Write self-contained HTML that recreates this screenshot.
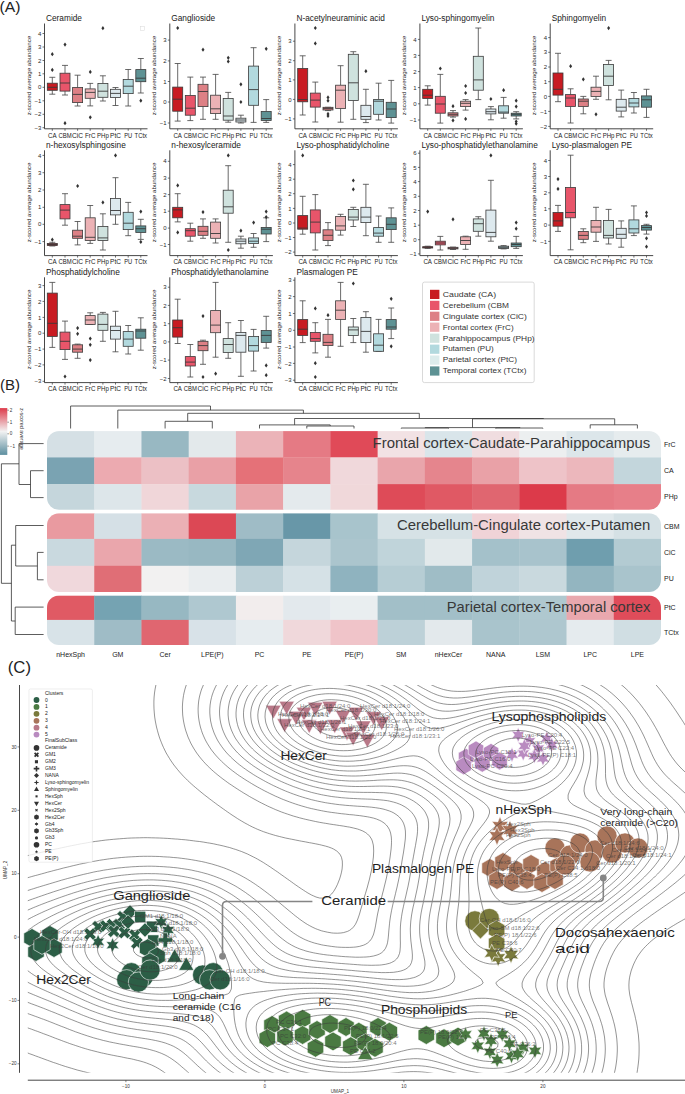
<!DOCTYPE html><html><head><meta charset="utf-8"><style>html,body{margin:0;padding:0;background:#fff;overflow:hidden}svg{display:block}</style></head><body><svg width="685" height="1094" viewBox="0 0 685 1094" font-family='"Liberation Sans", sans-serif'>
<rect width="685" height="1094" fill="#fff"/>
<text x="46.0" y="20.9" font-size="8.3" fill="#1a1a1a">Ceramide</text>
<text transform="translate(30.5,75.6) rotate(-90)" text-anchor="middle" font-size="6.2" fill="#2a2a2a" textLength="79.5" lengthAdjust="spacingAndGlyphs">z-scored average abundance</text>
<path d="M44.5,23.5V128.8H147.5" fill="none" stroke="#333" stroke-width="0.9"/>
<path d="M42.5,33.5H44.5" stroke="#333" stroke-width="0.7"/>
<text x="41.3" y="35.6" text-anchor="end" font-size="6" fill="#2a2a2a">4</text>
<path d="M42.5,47.0H44.5" stroke="#333" stroke-width="0.7"/>
<text x="41.3" y="49.1" text-anchor="end" font-size="6" fill="#2a2a2a">3</text>
<path d="M42.5,60.5H44.5" stroke="#333" stroke-width="0.7"/>
<text x="41.3" y="62.6" text-anchor="end" font-size="6" fill="#2a2a2a">2</text>
<path d="M42.5,73.8H44.5" stroke="#333" stroke-width="0.7"/>
<text x="41.3" y="75.9" text-anchor="end" font-size="6" fill="#2a2a2a">1</text>
<path d="M42.5,87.3H44.5" stroke="#333" stroke-width="0.7"/>
<text x="41.3" y="89.4" text-anchor="end" font-size="6" fill="#2a2a2a">0</text>
<path d="M42.5,100.8H44.5" stroke="#333" stroke-width="0.7"/>
<text x="41.3" y="102.9" text-anchor="end" font-size="6" fill="#2a2a2a">−1</text>
<path d="M42.5,114.3H44.5" stroke="#333" stroke-width="0.7"/>
<text x="41.3" y="116.4" text-anchor="end" font-size="6" fill="#2a2a2a">−2</text>
<path d="M42.5,127.7H44.5" stroke="#333" stroke-width="0.7"/>
<text x="41.3" y="129.8" text-anchor="end" font-size="6" fill="#2a2a2a">−3</text>
<path d="M52.3,77.3V83.2M52.3,90.3V94.2M49.3,77.3H55.3M49.3,94.2H55.3" stroke="#444" stroke-width="0.8" fill="none"/>
<rect x="47.3" y="83.2" width="10.0" height="7.1" fill="#c81b22" stroke="#3a3a3a" stroke-width="0.8"/>
<path d="M47.3,87.3H57.3" stroke="#3a3a3a" stroke-width="0.9"/>
<path d="M52.3,52.1L53.8,54.2L52.3,56.3L50.8,54.2Z" fill="#333"/>
<path d="M52.3,67.8L53.8,69.9L52.3,72.0L50.8,69.9Z" fill="#333"/>
<path d="M52.3,128.8V130.8" stroke="#333" stroke-width="0.7"/>
<path d="M65.0,65.4V73.2M65.0,91.1V95.0M62.0,65.4H68.0M62.0,95.0H68.0" stroke="#444" stroke-width="0.8" fill="none"/>
<rect x="60.0" y="73.2" width="10.0" height="17.9" fill="#e8556a" stroke="#3a3a3a" stroke-width="0.8"/>
<path d="M60.0,83.0H70.0" stroke="#3a3a3a" stroke-width="0.9"/>
<path d="M65.0,42.5L66.5,44.6L65.0,46.7L63.5,44.6Z" fill="#333"/>
<path d="M65.0,121.1L66.5,123.2L65.0,125.3L63.5,123.2Z" fill="#333"/>
<path d="M65.0,128.8V130.8" stroke="#333" stroke-width="0.7"/>
<path d="M77.6,75.2V87.5M77.6,102.6V106.0M74.6,75.2H80.6M74.6,106.0H80.6" stroke="#444" stroke-width="0.8" fill="none"/>
<rect x="72.6" y="87.5" width="10.0" height="15.1" fill="#dd8085" stroke="#3a3a3a" stroke-width="0.8"/>
<path d="M72.6,94.4H82.6" stroke="#3a3a3a" stroke-width="0.9"/>
<path d="M77.6,128.8V130.8" stroke="#333" stroke-width="0.7"/>
<path d="M90.2,83.4V88.9M90.2,98.3V105.9M87.2,83.4H93.2M87.2,105.9H93.2" stroke="#444" stroke-width="0.8" fill="none"/>
<rect x="85.2" y="88.9" width="10.0" height="9.4" fill="#ecb2b5" stroke="#3a3a3a" stroke-width="0.8"/>
<path d="M85.2,92.4H95.2" stroke="#3a3a3a" stroke-width="0.9"/>
<path d="M90.2,69.8L91.8,71.9L90.2,74.0L88.8,71.9Z" fill="#333"/>
<path d="M90.2,115.2L91.8,117.3L90.2,119.4L88.8,117.3Z" fill="#333"/>
<path d="M90.2,128.8V130.8" stroke="#333" stroke-width="0.7"/>
<path d="M102.9,75.8V83.4M102.9,97.3V101.0M99.9,75.8H105.9M99.9,101.0H105.9" stroke="#444" stroke-width="0.8" fill="none"/>
<rect x="97.9" y="83.4" width="10.0" height="13.9" fill="#cfe2de" stroke="#3a3a3a" stroke-width="0.8"/>
<path d="M97.9,91.2H107.9" stroke="#3a3a3a" stroke-width="0.9"/>
<path d="M102.9,26.1L104.4,28.2L102.9,30.3L101.4,28.2Z" fill="#333"/>
<path d="M102.9,128.8V130.8" stroke="#333" stroke-width="0.7"/>
<path d="M115.5,87.5V89.3M115.5,97.5V105.5M112.5,87.5H118.5M112.5,105.5H118.5" stroke="#444" stroke-width="0.8" fill="none"/>
<rect x="110.5" y="89.3" width="10.0" height="8.2" fill="#dde9ee" stroke="#3a3a3a" stroke-width="0.8"/>
<path d="M110.5,93.4H120.5" stroke="#3a3a3a" stroke-width="0.9"/>
<path d="M115.5,128.8V130.8" stroke="#333" stroke-width="0.7"/>
<path d="M128.2,69.5V79.5M128.2,93.6V106.0M125.2,69.5H131.2M125.2,106.0H131.2" stroke="#444" stroke-width="0.8" fill="none"/>
<rect x="123.2" y="79.5" width="10.0" height="14.1" fill="#b2d9de" stroke="#3a3a3a" stroke-width="0.8"/>
<path d="M123.2,86.2H133.2" stroke="#3a3a3a" stroke-width="0.9"/>
<path d="M128.2,128.8V130.8" stroke="#333" stroke-width="0.7"/>
<path d="M140.8,58.5V69.6M140.8,81.7V93.0M137.8,58.5H143.8M137.8,93.0H143.8" stroke="#444" stroke-width="0.8" fill="none"/>
<rect x="135.8" y="69.6" width="10.0" height="12.1" fill="#5e9294" stroke="#3a3a3a" stroke-width="0.8"/>
<path d="M135.8,78.2H145.8" stroke="#3a3a3a" stroke-width="0.9"/>
<path d="M140.8,98.6L142.3,100.7L140.8,102.8L139.3,100.7Z" fill="#333"/>
<path d="M140.8,128.8V130.8" stroke="#333" stroke-width="0.7"/>
<text x="52.3" y="137.6" text-anchor="middle" font-size="7" fill="#1a1a1a" textLength="8.6" lengthAdjust="spacingAndGlyphs">CA</text>
<text x="65.0" y="137.6" text-anchor="middle" font-size="7" fill="#1a1a1a" textLength="13.2" lengthAdjust="spacingAndGlyphs">CBM</text>
<text x="77.6" y="137.6" text-anchor="middle" font-size="7" fill="#1a1a1a" textLength="11.0" lengthAdjust="spacingAndGlyphs">CiC</text>
<text x="90.2" y="137.6" text-anchor="middle" font-size="7" fill="#1a1a1a" textLength="10.4" lengthAdjust="spacingAndGlyphs">FrC</text>
<text x="102.9" y="137.6" text-anchor="middle" font-size="7" fill="#1a1a1a" textLength="11.8" lengthAdjust="spacingAndGlyphs">PHp</text>
<text x="115.5" y="137.6" text-anchor="middle" font-size="7" fill="#1a1a1a" textLength="10.8" lengthAdjust="spacingAndGlyphs">PtC</text>
<text x="128.2" y="137.6" text-anchor="middle" font-size="7" fill="#1a1a1a" textLength="8.0" lengthAdjust="spacingAndGlyphs">PU</text>
<text x="140.8" y="137.6" text-anchor="middle" font-size="7" fill="#1a1a1a" textLength="12.4" lengthAdjust="spacingAndGlyphs">TCtx</text>
<text x="171.3" y="20.9" font-size="8.3" fill="#1a1a1a">Ganglioside</text>
<text transform="translate(155.8,75.6) rotate(-90)" text-anchor="middle" font-size="6.2" fill="#2a2a2a" textLength="79.5" lengthAdjust="spacingAndGlyphs">z-scored average abundance</text>
<path d="M169.8,23.5V128.8H272.9" fill="none" stroke="#333" stroke-width="0.9"/>
<path d="M167.8,40.1H169.8" stroke="#333" stroke-width="0.7"/>
<text x="166.7" y="42.2" text-anchor="end" font-size="6" fill="#2a2a2a">3</text>
<path d="M167.8,60.9H169.8" stroke="#333" stroke-width="0.7"/>
<text x="166.7" y="63.0" text-anchor="end" font-size="6" fill="#2a2a2a">2</text>
<path d="M167.8,81.5H169.8" stroke="#333" stroke-width="0.7"/>
<text x="166.7" y="83.6" text-anchor="end" font-size="6" fill="#2a2a2a">1</text>
<path d="M167.8,102.0H169.8" stroke="#333" stroke-width="0.7"/>
<text x="166.7" y="104.1" text-anchor="end" font-size="6" fill="#2a2a2a">0</text>
<path d="M167.8,123.0H169.8" stroke="#333" stroke-width="0.7"/>
<text x="166.7" y="125.1" text-anchor="end" font-size="6" fill="#2a2a2a">−1</text>
<path d="M177.7,63.5V87.1M177.7,111.2V121.1M174.7,63.5H180.7M174.7,121.1H180.7" stroke="#444" stroke-width="0.8" fill="none"/>
<rect x="172.7" y="87.1" width="10.0" height="24.1" fill="#c81b22" stroke="#3a3a3a" stroke-width="0.8"/>
<path d="M172.7,99.2H182.7" stroke="#3a3a3a" stroke-width="0.9"/>
<path d="M177.7,25.9L179.2,28.0L177.7,30.1L176.2,28.0Z" fill="#333"/>
<path d="M177.7,128.8V130.8" stroke="#333" stroke-width="0.7"/>
<path d="M190.3,77.1V95.5M190.3,115.2V120.6M187.3,77.1H193.3M187.3,120.6H193.3" stroke="#444" stroke-width="0.8" fill="none"/>
<rect x="185.3" y="95.5" width="10.0" height="19.7" fill="#e8556a" stroke="#3a3a3a" stroke-width="0.8"/>
<path d="M185.3,108.2H195.3" stroke="#3a3a3a" stroke-width="0.9"/>
<path d="M190.3,128.8V130.8" stroke="#333" stroke-width="0.7"/>
<path d="M203.0,77.1V84.3M203.0,106.6V119.3M200.0,77.1H206.0M200.0,119.3H206.0" stroke="#444" stroke-width="0.8" fill="none"/>
<rect x="198.0" y="84.3" width="10.0" height="22.3" fill="#dd8085" stroke="#3a3a3a" stroke-width="0.8"/>
<path d="M198.0,91.5H208.0" stroke="#3a3a3a" stroke-width="0.9"/>
<path d="M203.0,47.6L204.5,49.7L203.0,51.8L201.5,49.7Z" fill="#333"/>
<path d="M203.0,128.8V130.8" stroke="#333" stroke-width="0.7"/>
<path d="M215.6,74.4V95.2M215.6,113.6V119.3M212.6,74.4H218.6M212.6,119.3H218.6" stroke="#444" stroke-width="0.8" fill="none"/>
<rect x="210.6" y="95.2" width="10.0" height="18.4" fill="#ecb2b5" stroke="#3a3a3a" stroke-width="0.8"/>
<path d="M210.6,108.8H220.6" stroke="#3a3a3a" stroke-width="0.9"/>
<path d="M215.6,128.8V130.8" stroke="#333" stroke-width="0.7"/>
<path d="M228.2,92.4V98.5M228.2,120.2V122.2M225.2,92.4H231.2M225.2,122.2H231.2" stroke="#444" stroke-width="0.8" fill="none"/>
<rect x="223.2" y="98.5" width="10.0" height="21.7" fill="#cfe2de" stroke="#3a3a3a" stroke-width="0.8"/>
<path d="M223.2,116.0H233.2" stroke="#3a3a3a" stroke-width="0.9"/>
<path d="M228.2,55.7L229.8,57.8L228.2,59.9L226.8,57.8Z" fill="#333"/>
<path d="M228.2,59.4L229.8,61.5L228.2,63.6L226.8,61.5Z" fill="#333"/>
<path d="M228.2,128.8V130.8" stroke="#333" stroke-width="0.7"/>
<path d="M240.9,115.2V118.2M240.9,122.0V123.0M237.9,115.2H243.9M237.9,123.0H243.9" stroke="#444" stroke-width="0.8" fill="none"/>
<rect x="235.9" y="118.2" width="10.0" height="3.8" fill="#dde9ee" stroke="#3a3a3a" stroke-width="0.8"/>
<path d="M235.9,120.0H245.9" stroke="#3a3a3a" stroke-width="0.9"/>
<path d="M240.9,82.2L242.4,84.3L240.9,86.4L239.4,84.3Z" fill="#333"/>
<path d="M240.9,99.9L242.4,102.0L240.9,104.1L239.4,102.0Z" fill="#333"/>
<path d="M240.9,128.8V130.8" stroke="#333" stroke-width="0.7"/>
<path d="M253.6,47.7V66.1M253.6,105.3V122.4M250.6,47.7H256.6M250.6,122.4H256.6" stroke="#444" stroke-width="0.8" fill="none"/>
<rect x="248.6" y="66.1" width="10.0" height="39.2" fill="#b2d9de" stroke="#3a3a3a" stroke-width="0.8"/>
<path d="M248.6,89.6H258.6" stroke="#3a3a3a" stroke-width="0.9"/>
<path d="M253.6,128.8V130.8" stroke="#333" stroke-width="0.7"/>
<path d="M266.2,99.6V111.5M266.2,120.4V122.4M263.2,99.6H269.2M263.2,122.4H269.2" stroke="#444" stroke-width="0.8" fill="none"/>
<rect x="261.2" y="111.5" width="10.0" height="8.9" fill="#5e9294" stroke="#3a3a3a" stroke-width="0.8"/>
<path d="M261.2,118.5H271.2" stroke="#3a3a3a" stroke-width="0.9"/>
<path d="M266.2,46.7L267.7,48.8L266.2,50.9L264.7,48.8Z" fill="#333"/>
<path d="M266.2,128.8V130.8" stroke="#333" stroke-width="0.7"/>
<text x="177.7" y="137.6" text-anchor="middle" font-size="7" fill="#1a1a1a" textLength="8.6" lengthAdjust="spacingAndGlyphs">CA</text>
<text x="190.3" y="137.6" text-anchor="middle" font-size="7" fill="#1a1a1a" textLength="13.2" lengthAdjust="spacingAndGlyphs">CBM</text>
<text x="203.0" y="137.6" text-anchor="middle" font-size="7" fill="#1a1a1a" textLength="11.0" lengthAdjust="spacingAndGlyphs">CiC</text>
<text x="215.6" y="137.6" text-anchor="middle" font-size="7" fill="#1a1a1a" textLength="10.4" lengthAdjust="spacingAndGlyphs">FrC</text>
<text x="228.2" y="137.6" text-anchor="middle" font-size="7" fill="#1a1a1a" textLength="11.8" lengthAdjust="spacingAndGlyphs">PHp</text>
<text x="240.9" y="137.6" text-anchor="middle" font-size="7" fill="#1a1a1a" textLength="10.8" lengthAdjust="spacingAndGlyphs">PtC</text>
<text x="253.6" y="137.6" text-anchor="middle" font-size="7" fill="#1a1a1a" textLength="8.0" lengthAdjust="spacingAndGlyphs">PU</text>
<text x="266.2" y="137.6" text-anchor="middle" font-size="7" fill="#1a1a1a" textLength="12.4" lengthAdjust="spacingAndGlyphs">TCtx</text>
<text x="296.4" y="20.9" font-size="8.3" fill="#1a1a1a">N-acetylneuraminic acid</text>
<text transform="translate(280.9,75.6) rotate(-90)" text-anchor="middle" font-size="6.2" fill="#2a2a2a" textLength="79.5" lengthAdjust="spacingAndGlyphs">z-scored average abundance</text>
<path d="M294.9,23.5V128.8H397.9" fill="none" stroke="#333" stroke-width="0.9"/>
<path d="M292.9,41.2H294.9" stroke="#333" stroke-width="0.7"/>
<text x="291.7" y="43.3" text-anchor="end" font-size="6" fill="#2a2a2a">3</text>
<path d="M292.9,60.7H294.9" stroke="#333" stroke-width="0.7"/>
<text x="291.7" y="62.8" text-anchor="end" font-size="6" fill="#2a2a2a">2</text>
<path d="M292.9,79.9H294.9" stroke="#333" stroke-width="0.7"/>
<text x="291.7" y="82.0" text-anchor="end" font-size="6" fill="#2a2a2a">1</text>
<path d="M292.9,99.4H294.9" stroke="#333" stroke-width="0.7"/>
<text x="291.7" y="101.5" text-anchor="end" font-size="6" fill="#2a2a2a">0</text>
<path d="M292.9,118.9H294.9" stroke="#333" stroke-width="0.7"/>
<text x="291.7" y="121.0" text-anchor="end" font-size="6" fill="#2a2a2a">−1</text>
<path d="M302.7,55.8V68.5M302.7,101.8V115.0M299.7,55.8H305.7M299.7,115.0H305.7" stroke="#444" stroke-width="0.8" fill="none"/>
<rect x="297.7" y="68.5" width="10.0" height="33.3" fill="#c81b22" stroke="#3a3a3a" stroke-width="0.8"/>
<path d="M297.7,99.6H307.7" stroke="#3a3a3a" stroke-width="0.9"/>
<path d="M302.7,128.8V130.8" stroke="#333" stroke-width="0.7"/>
<path d="M315.3,82.1V93.1M315.3,107.1V122.0M312.3,82.1H318.3M312.3,122.0H318.3" stroke="#444" stroke-width="0.8" fill="none"/>
<rect x="310.3" y="93.1" width="10.0" height="14.0" fill="#e8556a" stroke="#3a3a3a" stroke-width="0.8"/>
<path d="M310.3,100.1H320.3" stroke="#3a3a3a" stroke-width="0.9"/>
<path d="M315.3,25.9L316.8,28.0L315.3,30.1L313.8,28.0Z" fill="#333"/>
<path d="M315.3,41.3L316.8,43.4L315.3,45.5L313.8,43.4Z" fill="#333"/>
<path d="M315.3,128.8V130.8" stroke="#333" stroke-width="0.7"/>
<path d="M328.0,107.3V107.3M328.0,110.0V110.6M325.0,107.3H331.0M325.0,110.6H331.0" stroke="#444" stroke-width="0.8" fill="none"/>
<rect x="323.0" y="107.3" width="10.0" height="2.7" fill="#dd8085" stroke="#3a3a3a" stroke-width="0.8"/>
<path d="M323.0,108.4H333.0" stroke="#3a3a3a" stroke-width="0.9"/>
<path d="M328.0,95.3L329.5,97.4L328.0,99.5L326.5,97.4Z" fill="#333"/>
<path d="M328.0,98.6L329.5,100.7L328.0,102.8L326.5,100.7Z" fill="#333"/>
<path d="M328.0,111.8L329.5,113.9L328.0,116.0L326.5,113.9Z" fill="#333"/>
<path d="M328.0,113.9L329.5,116.0L328.0,118.1L326.5,116.0Z" fill="#333"/>
<path d="M328.0,128.8V130.8" stroke="#333" stroke-width="0.7"/>
<path d="M340.6,65.7V85.2M340.6,108.4V122.2M337.6,65.7H343.6M337.6,122.2H343.6" stroke="#444" stroke-width="0.8" fill="none"/>
<rect x="335.6" y="85.2" width="10.0" height="23.2" fill="#ecb2b5" stroke="#3a3a3a" stroke-width="0.8"/>
<path d="M335.6,90.2H345.6" stroke="#3a3a3a" stroke-width="0.9"/>
<path d="M340.6,128.8V130.8" stroke="#333" stroke-width="0.7"/>
<path d="M353.3,51.7V54.3M353.3,100.5V119.3M350.3,51.7H356.3M350.3,119.3H356.3" stroke="#444" stroke-width="0.8" fill="none"/>
<rect x="348.3" y="54.3" width="10.0" height="46.2" fill="#cfe2de" stroke="#3a3a3a" stroke-width="0.8"/>
<path d="M348.3,82.8H358.3" stroke="#3a3a3a" stroke-width="0.9"/>
<path d="M353.3,128.8V130.8" stroke="#333" stroke-width="0.7"/>
<path d="M365.9,89.3V105.3M365.9,119.3V122.6M362.9,89.3H368.9M362.9,122.6H368.9" stroke="#444" stroke-width="0.8" fill="none"/>
<rect x="360.9" y="105.3" width="10.0" height="14.0" fill="#dde9ee" stroke="#3a3a3a" stroke-width="0.8"/>
<path d="M360.9,116.5H370.9" stroke="#3a3a3a" stroke-width="0.9"/>
<path d="M365.9,69.1L367.4,71.2L365.9,73.3L364.4,71.2Z" fill="#333"/>
<path d="M365.9,128.8V130.8" stroke="#333" stroke-width="0.7"/>
<path d="M378.6,83.2V99.4M378.6,114.3V120.0M375.6,83.2H381.6M375.6,120.0H381.6" stroke="#444" stroke-width="0.8" fill="none"/>
<rect x="373.6" y="99.4" width="10.0" height="14.9" fill="#b2d9de" stroke="#3a3a3a" stroke-width="0.8"/>
<path d="M373.6,101.2H383.6" stroke="#3a3a3a" stroke-width="0.9"/>
<path d="M378.6,128.8V130.8" stroke="#333" stroke-width="0.7"/>
<path d="M391.2,80.4V102.3M391.2,117.6V123.1M388.2,80.4H394.2M388.2,123.1H394.2" stroke="#444" stroke-width="0.8" fill="none"/>
<rect x="386.2" y="102.3" width="10.0" height="15.3" fill="#5e9294" stroke="#3a3a3a" stroke-width="0.8"/>
<path d="M386.2,109.0H396.2" stroke="#3a3a3a" stroke-width="0.9"/>
<path d="M391.2,128.8V130.8" stroke="#333" stroke-width="0.7"/>
<text x="302.7" y="137.6" text-anchor="middle" font-size="7" fill="#1a1a1a" textLength="8.6" lengthAdjust="spacingAndGlyphs">CA</text>
<text x="315.3" y="137.6" text-anchor="middle" font-size="7" fill="#1a1a1a" textLength="13.2" lengthAdjust="spacingAndGlyphs">CBM</text>
<text x="328.0" y="137.6" text-anchor="middle" font-size="7" fill="#1a1a1a" textLength="11.0" lengthAdjust="spacingAndGlyphs">CiC</text>
<text x="340.6" y="137.6" text-anchor="middle" font-size="7" fill="#1a1a1a" textLength="10.4" lengthAdjust="spacingAndGlyphs">FrC</text>
<text x="353.3" y="137.6" text-anchor="middle" font-size="7" fill="#1a1a1a" textLength="11.8" lengthAdjust="spacingAndGlyphs">PHp</text>
<text x="365.9" y="137.6" text-anchor="middle" font-size="7" fill="#1a1a1a" textLength="10.8" lengthAdjust="spacingAndGlyphs">PtC</text>
<text x="378.6" y="137.6" text-anchor="middle" font-size="7" fill="#1a1a1a" textLength="8.0" lengthAdjust="spacingAndGlyphs">PU</text>
<text x="391.2" y="137.6" text-anchor="middle" font-size="7" fill="#1a1a1a" textLength="12.4" lengthAdjust="spacingAndGlyphs">TCtx</text>
<text x="421.4" y="20.9" font-size="8.3" fill="#1a1a1a">Lyso-sphingomyelin</text>
<text transform="translate(405.9,75.6) rotate(-90)" text-anchor="middle" font-size="6.2" fill="#2a2a2a" textLength="79.5" lengthAdjust="spacingAndGlyphs">z-scored average abundance</text>
<path d="M419.9,23.5V128.8H522.9" fill="none" stroke="#333" stroke-width="0.9"/>
<path d="M417.9,39.4H419.9" stroke="#333" stroke-width="0.7"/>
<text x="416.7" y="41.5" text-anchor="end" font-size="6" fill="#2a2a2a">4</text>
<path d="M417.9,55.4H419.9" stroke="#333" stroke-width="0.7"/>
<text x="416.7" y="57.5" text-anchor="end" font-size="6" fill="#2a2a2a">3</text>
<path d="M417.9,71.6H419.9" stroke="#333" stroke-width="0.7"/>
<text x="416.7" y="73.7" text-anchor="end" font-size="6" fill="#2a2a2a">2</text>
<path d="M417.9,87.6H419.9" stroke="#333" stroke-width="0.7"/>
<text x="416.7" y="89.7" text-anchor="end" font-size="6" fill="#2a2a2a">1</text>
<path d="M417.9,103.8H419.9" stroke="#333" stroke-width="0.7"/>
<text x="416.7" y="105.9" text-anchor="end" font-size="6" fill="#2a2a2a">0</text>
<path d="M417.9,120.0H419.9" stroke="#333" stroke-width="0.7"/>
<text x="416.7" y="122.1" text-anchor="end" font-size="6" fill="#2a2a2a">−1</text>
<path d="M427.7,85.8V89.3M427.7,98.5V105.1M424.7,85.8H430.7M424.7,105.1H430.7" stroke="#444" stroke-width="0.8" fill="none"/>
<rect x="422.7" y="89.3" width="10.0" height="9.2" fill="#c81b22" stroke="#3a3a3a" stroke-width="0.8"/>
<path d="M422.7,95.2H432.7" stroke="#3a3a3a" stroke-width="0.9"/>
<path d="M427.7,128.8V130.8" stroke="#333" stroke-width="0.7"/>
<path d="M440.3,74.4V96.3M440.3,113.2V123.1M437.3,74.4H443.3M437.3,123.1H443.3" stroke="#444" stroke-width="0.8" fill="none"/>
<rect x="435.3" y="96.3" width="10.0" height="16.9" fill="#e8556a" stroke="#3a3a3a" stroke-width="0.8"/>
<path d="M435.3,104.0H445.3" stroke="#3a3a3a" stroke-width="0.9"/>
<path d="M440.3,66.4L441.8,68.5L440.3,70.6L438.8,68.5Z" fill="#333"/>
<path d="M440.3,128.8V130.8" stroke="#333" stroke-width="0.7"/>
<path d="M453.0,110.6V112.8M453.0,116.0V117.1M450.0,110.6H456.0M450.0,117.1H456.0" stroke="#444" stroke-width="0.8" fill="none"/>
<rect x="448.0" y="112.8" width="10.0" height="3.2" fill="#dd8085" stroke="#3a3a3a" stroke-width="0.8"/>
<path d="M448.0,114.3H458.0" stroke="#3a3a3a" stroke-width="0.9"/>
<path d="M453.0,104.1L454.5,106.2L453.0,108.3L451.5,106.2Z" fill="#333"/>
<path d="M453.0,118.3L454.5,120.4L453.0,122.5L451.5,120.4Z" fill="#333"/>
<path d="M453.0,128.8V130.8" stroke="#333" stroke-width="0.7"/>
<path d="M465.6,99.6V101.2M465.6,106.6V110.1M462.6,99.6H468.6M462.6,110.1H468.6" stroke="#444" stroke-width="0.8" fill="none"/>
<rect x="460.6" y="101.2" width="10.0" height="5.4" fill="#ecb2b5" stroke="#3a3a3a" stroke-width="0.8"/>
<path d="M460.6,103.3H470.6" stroke="#3a3a3a" stroke-width="0.9"/>
<path d="M465.6,83.9L467.1,86.0L465.6,88.1L464.1,86.0Z" fill="#333"/>
<path d="M465.6,90.9L467.1,93.0L465.6,95.1L464.1,93.0Z" fill="#333"/>
<path d="M465.6,116.8L467.1,118.9L465.6,121.0L464.1,118.9Z" fill="#333"/>
<path d="M465.6,128.8V130.8" stroke="#333" stroke-width="0.7"/>
<path d="M478.3,28.0V56.3M478.3,90.2V99.6M475.3,28.0H481.3M475.3,99.6H481.3" stroke="#444" stroke-width="0.8" fill="none"/>
<rect x="473.3" y="56.3" width="10.0" height="33.9" fill="#cfe2de" stroke="#3a3a3a" stroke-width="0.8"/>
<path d="M473.3,79.9H483.3" stroke="#3a3a3a" stroke-width="0.9"/>
<path d="M478.3,128.8V130.8" stroke="#333" stroke-width="0.7"/>
<path d="M490.9,106.6V109.0M490.9,113.9V119.8M487.9,106.6H493.9M487.9,119.8H493.9" stroke="#444" stroke-width="0.8" fill="none"/>
<rect x="485.9" y="109.0" width="10.0" height="4.9" fill="#dde9ee" stroke="#3a3a3a" stroke-width="0.8"/>
<path d="M485.9,111.7H495.9" stroke="#3a3a3a" stroke-width="0.9"/>
<path d="M490.9,96.9L492.4,99.0L490.9,101.1L489.4,99.0Z" fill="#333"/>
<path d="M490.9,128.8V130.8" stroke="#333" stroke-width="0.7"/>
<path d="M503.6,97.4V105.8M503.6,113.2V118.2M500.6,97.4H506.6M500.6,118.2H506.6" stroke="#444" stroke-width="0.8" fill="none"/>
<rect x="498.6" y="105.8" width="10.0" height="7.4" fill="#b2d9de" stroke="#3a3a3a" stroke-width="0.8"/>
<path d="M498.6,112.1H508.6" stroke="#3a3a3a" stroke-width="0.9"/>
<path d="M503.6,88.1L505.1,90.2L503.6,92.3L502.1,90.2Z" fill="#333"/>
<path d="M503.6,128.8V130.8" stroke="#333" stroke-width="0.7"/>
<path d="M516.2,111.7V113.2M516.2,116.0V118.9M513.2,111.7H519.2M513.2,118.9H519.2" stroke="#444" stroke-width="0.8" fill="none"/>
<rect x="511.2" y="113.2" width="10.0" height="2.8" fill="#5e9294" stroke="#3a3a3a" stroke-width="0.8"/>
<path d="M511.2,114.3H521.2" stroke="#3a3a3a" stroke-width="0.9"/>
<path d="M516.2,98.6L517.7,100.7L516.2,102.8L514.7,100.7Z" fill="#333"/>
<path d="M516.2,104.5L517.7,106.6L516.2,108.7L514.7,106.6Z" fill="#333"/>
<path d="M516.2,119.4L517.7,121.5L516.2,123.6L514.7,121.5Z" fill="#333"/>
<path d="M516.2,121.6L517.7,123.7L516.2,125.8L514.7,123.7Z" fill="#333"/>
<path d="M516.2,128.8V130.8" stroke="#333" stroke-width="0.7"/>
<text x="427.7" y="137.6" text-anchor="middle" font-size="7" fill="#1a1a1a" textLength="8.6" lengthAdjust="spacingAndGlyphs">CA</text>
<text x="440.3" y="137.6" text-anchor="middle" font-size="7" fill="#1a1a1a" textLength="13.2" lengthAdjust="spacingAndGlyphs">CBM</text>
<text x="453.0" y="137.6" text-anchor="middle" font-size="7" fill="#1a1a1a" textLength="11.0" lengthAdjust="spacingAndGlyphs">CiC</text>
<text x="465.6" y="137.6" text-anchor="middle" font-size="7" fill="#1a1a1a" textLength="10.4" lengthAdjust="spacingAndGlyphs">FrC</text>
<text x="478.3" y="137.6" text-anchor="middle" font-size="7" fill="#1a1a1a" textLength="11.8" lengthAdjust="spacingAndGlyphs">PHp</text>
<text x="490.9" y="137.6" text-anchor="middle" font-size="7" fill="#1a1a1a" textLength="10.8" lengthAdjust="spacingAndGlyphs">PtC</text>
<text x="503.6" y="137.6" text-anchor="middle" font-size="7" fill="#1a1a1a" textLength="8.0" lengthAdjust="spacingAndGlyphs">PU</text>
<text x="516.2" y="137.6" text-anchor="middle" font-size="7" fill="#1a1a1a" textLength="12.4" lengthAdjust="spacingAndGlyphs">TCtx</text>
<text x="551.7" y="20.9" font-size="8.3" fill="#1a1a1a">Sphingomyelin</text>
<text transform="translate(536.2,75.6) rotate(-90)" text-anchor="middle" font-size="6.2" fill="#2a2a2a" textLength="79.5" lengthAdjust="spacingAndGlyphs">z-scored average abundance</text>
<path d="M550.2,23.5V128.8H653.2" fill="none" stroke="#333" stroke-width="0.9"/>
<path d="M548.2,37.6H550.2" stroke="#333" stroke-width="0.7"/>
<text x="547.0" y="39.7" text-anchor="end" font-size="6" fill="#2a2a2a">4</text>
<path d="M548.2,52.3H550.2" stroke="#333" stroke-width="0.7"/>
<text x="547.0" y="54.4" text-anchor="end" font-size="6" fill="#2a2a2a">3</text>
<path d="M548.2,67.0H550.2" stroke="#333" stroke-width="0.7"/>
<text x="547.0" y="69.1" text-anchor="end" font-size="6" fill="#2a2a2a">2</text>
<path d="M548.2,81.7H550.2" stroke="#333" stroke-width="0.7"/>
<text x="547.0" y="83.8" text-anchor="end" font-size="6" fill="#2a2a2a">1</text>
<path d="M548.2,96.4H550.2" stroke="#333" stroke-width="0.7"/>
<text x="547.0" y="98.5" text-anchor="end" font-size="6" fill="#2a2a2a">0</text>
<path d="M548.2,111.4H550.2" stroke="#333" stroke-width="0.7"/>
<text x="547.0" y="113.5" text-anchor="end" font-size="6" fill="#2a2a2a">−1</text>
<path d="M548.2,126.4H550.2" stroke="#333" stroke-width="0.7"/>
<text x="547.0" y="128.5" text-anchor="end" font-size="6" fill="#2a2a2a">−2</text>
<path d="M558.0,53.3V73.0M558.0,95.1V101.7M555.0,53.3H561.0M555.0,101.7H561.0" stroke="#444" stroke-width="0.8" fill="none"/>
<rect x="553.0" y="73.0" width="10.0" height="22.1" fill="#c81b22" stroke="#3a3a3a" stroke-width="0.8"/>
<path d="M553.0,89.3H563.0" stroke="#3a3a3a" stroke-width="0.9"/>
<path d="M558.0,128.8V130.8" stroke="#333" stroke-width="0.7"/>
<path d="M570.6,88.8V94.6M570.6,106.4V123.0M567.6,88.8H573.6M567.6,123.0H573.6" stroke="#444" stroke-width="0.8" fill="none"/>
<rect x="565.6" y="94.6" width="10.0" height="11.8" fill="#e8556a" stroke="#3a3a3a" stroke-width="0.8"/>
<path d="M565.6,98.0H575.6" stroke="#3a3a3a" stroke-width="0.9"/>
<path d="M570.6,64.1L572.1,66.2L570.6,68.3L569.1,66.2Z" fill="#333"/>
<path d="M570.6,128.8V130.8" stroke="#333" stroke-width="0.7"/>
<path d="M583.3,96.4V99.0M583.3,106.4V113.8M580.3,96.4H586.3M580.3,113.8H586.3" stroke="#444" stroke-width="0.8" fill="none"/>
<rect x="578.3" y="99.0" width="10.0" height="7.4" fill="#dd8085" stroke="#3a3a3a" stroke-width="0.8"/>
<path d="M578.3,101.2H588.3" stroke="#3a3a3a" stroke-width="0.9"/>
<path d="M583.3,77.2L584.8,79.3L583.3,81.4L581.8,79.3Z" fill="#333"/>
<path d="M583.3,128.8V130.8" stroke="#333" stroke-width="0.7"/>
<path d="M596.0,76.2V87.2M596.0,96.4V99.3M593.0,76.2H599.0M593.0,99.3H599.0" stroke="#444" stroke-width="0.8" fill="none"/>
<rect x="591.0" y="87.2" width="10.0" height="9.2" fill="#ecb2b5" stroke="#3a3a3a" stroke-width="0.8"/>
<path d="M591.0,91.4H601.0" stroke="#3a3a3a" stroke-width="0.9"/>
<path d="M596.0,112.2L597.5,114.3L596.0,116.4L594.5,114.3Z" fill="#333"/>
<path d="M596.0,128.8V130.8" stroke="#333" stroke-width="0.7"/>
<path d="M608.6,60.4V64.4M608.6,85.4V99.8M605.6,60.4H611.6M605.6,99.8H611.6" stroke="#444" stroke-width="0.8" fill="none"/>
<rect x="603.6" y="64.4" width="10.0" height="21.0" fill="#cfe2de" stroke="#3a3a3a" stroke-width="0.8"/>
<path d="M603.6,76.2H613.6" stroke="#3a3a3a" stroke-width="0.9"/>
<path d="M608.6,26.0L610.1,28.1L608.6,30.2L607.1,28.1Z" fill="#333"/>
<path d="M608.6,128.8V130.8" stroke="#333" stroke-width="0.7"/>
<path d="M621.2,90.1V99.3M621.2,111.1V116.9M618.2,90.1H624.2M618.2,116.9H624.2" stroke="#444" stroke-width="0.8" fill="none"/>
<rect x="616.2" y="99.3" width="10.0" height="11.8" fill="#dde9ee" stroke="#3a3a3a" stroke-width="0.8"/>
<path d="M616.2,107.2H626.2" stroke="#3a3a3a" stroke-width="0.9"/>
<path d="M621.2,128.8V130.8" stroke="#333" stroke-width="0.7"/>
<path d="M633.9,92.5V98.5M633.9,106.9V113.0M630.9,92.5H636.9M630.9,113.0H636.9" stroke="#444" stroke-width="0.8" fill="none"/>
<rect x="628.9" y="98.5" width="10.0" height="8.4" fill="#b2d9de" stroke="#3a3a3a" stroke-width="0.8"/>
<path d="M628.9,103.0H638.9" stroke="#3a3a3a" stroke-width="0.9"/>
<path d="M633.9,128.8V130.8" stroke="#333" stroke-width="0.7"/>
<path d="M646.5,89.3V95.9M646.5,107.2V117.4M643.5,89.3H649.5M643.5,117.4H649.5" stroke="#444" stroke-width="0.8" fill="none"/>
<rect x="641.5" y="95.9" width="10.0" height="11.3" fill="#5e9294" stroke="#3a3a3a" stroke-width="0.8"/>
<path d="M641.5,99.8H651.5" stroke="#3a3a3a" stroke-width="0.9"/>
<path d="M646.5,128.8V130.8" stroke="#333" stroke-width="0.7"/>
<text x="558.0" y="137.6" text-anchor="middle" font-size="7" fill="#1a1a1a" textLength="8.6" lengthAdjust="spacingAndGlyphs">CA</text>
<text x="570.6" y="137.6" text-anchor="middle" font-size="7" fill="#1a1a1a" textLength="13.2" lengthAdjust="spacingAndGlyphs">CBM</text>
<text x="583.3" y="137.6" text-anchor="middle" font-size="7" fill="#1a1a1a" textLength="11.0" lengthAdjust="spacingAndGlyphs">CiC</text>
<text x="596.0" y="137.6" text-anchor="middle" font-size="7" fill="#1a1a1a" textLength="10.4" lengthAdjust="spacingAndGlyphs">FrC</text>
<text x="608.6" y="137.6" text-anchor="middle" font-size="7" fill="#1a1a1a" textLength="11.8" lengthAdjust="spacingAndGlyphs">PHp</text>
<text x="621.2" y="137.6" text-anchor="middle" font-size="7" fill="#1a1a1a" textLength="10.8" lengthAdjust="spacingAndGlyphs">PtC</text>
<text x="633.9" y="137.6" text-anchor="middle" font-size="7" fill="#1a1a1a" textLength="8.0" lengthAdjust="spacingAndGlyphs">PU</text>
<text x="646.5" y="137.6" text-anchor="middle" font-size="7" fill="#1a1a1a" textLength="12.4" lengthAdjust="spacingAndGlyphs">TCtx</text>
<text x="46.0" y="147.7" font-size="8.3" fill="#1a1a1a">n-hexosylsphingosine</text>
<text transform="translate(30.5,202.4) rotate(-90)" text-anchor="middle" font-size="6.2" fill="#2a2a2a" textLength="79.5" lengthAdjust="spacingAndGlyphs">z-scored average abundance</text>
<path d="M44.5,150.3V255.6H147.5" fill="none" stroke="#333" stroke-width="0.9"/>
<path d="M42.5,155.4H44.5" stroke="#333" stroke-width="0.7"/>
<text x="41.3" y="157.5" text-anchor="end" font-size="6" fill="#2a2a2a">4</text>
<path d="M42.5,172.7H44.5" stroke="#333" stroke-width="0.7"/>
<text x="41.3" y="174.8" text-anchor="end" font-size="6" fill="#2a2a2a">3</text>
<path d="M42.5,190.0H44.5" stroke="#333" stroke-width="0.7"/>
<text x="41.3" y="192.1" text-anchor="end" font-size="6" fill="#2a2a2a">2</text>
<path d="M42.5,207.3H44.5" stroke="#333" stroke-width="0.7"/>
<text x="41.3" y="209.4" text-anchor="end" font-size="6" fill="#2a2a2a">1</text>
<path d="M42.5,224.3H44.5" stroke="#333" stroke-width="0.7"/>
<text x="41.3" y="226.4" text-anchor="end" font-size="6" fill="#2a2a2a">0</text>
<path d="M42.5,241.6H44.5" stroke="#333" stroke-width="0.7"/>
<text x="41.3" y="243.7" text-anchor="end" font-size="6" fill="#2a2a2a">−1</text>
<path d="M52.3,242.3V243.4M52.3,245.6V246.0M49.3,242.3H55.3M49.3,246.0H55.3" stroke="#444" stroke-width="0.8" fill="none"/>
<rect x="47.3" y="243.4" width="10.0" height="2.2" fill="#c81b22" stroke="#3a3a3a" stroke-width="0.8"/>
<path d="M47.3,244.5H57.3" stroke="#3a3a3a" stroke-width="0.9"/>
<path d="M52.3,237.6L53.8,239.7L52.3,241.8L50.8,239.7Z" fill="#333"/>
<path d="M52.3,255.6V257.6" stroke="#333" stroke-width="0.7"/>
<path d="M65.0,193.7V204.6M65.0,218.9V225.2M62.0,193.7H68.0M62.0,225.2H68.0" stroke="#444" stroke-width="0.8" fill="none"/>
<rect x="60.0" y="204.6" width="10.0" height="14.3" fill="#e8556a" stroke="#3a3a3a" stroke-width="0.8"/>
<path d="M60.0,210.1H70.0" stroke="#3a3a3a" stroke-width="0.9"/>
<path d="M65.0,255.6V257.6" stroke="#333" stroke-width="0.7"/>
<path d="M77.6,221.5V230.2M77.6,238.3V244.9M74.6,221.5H80.6M74.6,244.9H80.6" stroke="#444" stroke-width="0.8" fill="none"/>
<rect x="72.6" y="230.2" width="10.0" height="8.1" fill="#dd8085" stroke="#3a3a3a" stroke-width="0.8"/>
<path d="M72.6,236.2H82.6" stroke="#3a3a3a" stroke-width="0.9"/>
<path d="M77.6,183.9L79.1,186.0L77.6,188.1L76.1,186.0Z" fill="#333"/>
<path d="M77.6,255.6V257.6" stroke="#333" stroke-width="0.7"/>
<path d="M90.2,205.5V217.8M90.2,240.5V243.4M87.2,205.5H93.2M87.2,243.4H93.2" stroke="#444" stroke-width="0.8" fill="none"/>
<rect x="85.2" y="217.8" width="10.0" height="22.7" fill="#ecb2b5" stroke="#3a3a3a" stroke-width="0.8"/>
<path d="M85.2,237.3H95.2" stroke="#3a3a3a" stroke-width="0.9"/>
<path d="M90.2,255.6V257.6" stroke="#333" stroke-width="0.7"/>
<path d="M102.9,213.8V226.5M102.9,240.5V250.0M99.9,213.8H105.9M99.9,250.0H105.9" stroke="#444" stroke-width="0.8" fill="none"/>
<rect x="97.9" y="226.5" width="10.0" height="14.0" fill="#cfe2de" stroke="#3a3a3a" stroke-width="0.8"/>
<path d="M97.9,237.9H107.9" stroke="#3a3a3a" stroke-width="0.9"/>
<path d="M102.9,200.3L104.4,202.4L102.9,204.5L101.4,202.4Z" fill="#333"/>
<path d="M102.9,255.6V257.6" stroke="#333" stroke-width="0.7"/>
<path d="M115.5,177.7V198.5M115.5,214.9V224.3M112.5,177.7H118.5M112.5,224.3H118.5" stroke="#444" stroke-width="0.8" fill="none"/>
<rect x="110.5" y="198.5" width="10.0" height="16.4" fill="#dde9ee" stroke="#3a3a3a" stroke-width="0.8"/>
<path d="M110.5,210.5H120.5" stroke="#3a3a3a" stroke-width="0.9"/>
<path d="M115.5,153.3L117.0,155.4L115.5,157.5L114.0,155.4Z" fill="#333"/>
<path d="M115.5,255.6V257.6" stroke="#333" stroke-width="0.7"/>
<path d="M128.2,202.4V212.3M128.2,229.6V235.7M125.2,202.4H131.2M125.2,235.7H131.2" stroke="#444" stroke-width="0.8" fill="none"/>
<rect x="123.2" y="212.3" width="10.0" height="17.3" fill="#b2d9de" stroke="#3a3a3a" stroke-width="0.8"/>
<path d="M123.2,223.2H133.2" stroke="#3a3a3a" stroke-width="0.9"/>
<path d="M128.2,255.6V257.6" stroke="#333" stroke-width="0.7"/>
<path d="M140.8,219.3V225.9M140.8,232.4V239.4M137.8,219.3H143.8M137.8,239.4H143.8" stroke="#444" stroke-width="0.8" fill="none"/>
<rect x="135.8" y="225.9" width="10.0" height="6.5" fill="#5e9294" stroke="#3a3a3a" stroke-width="0.8"/>
<path d="M135.8,228.7H145.8" stroke="#3a3a3a" stroke-width="0.9"/>
<path d="M140.8,209.5L142.3,211.6L140.8,213.7L139.3,211.6Z" fill="#333"/>
<path d="M140.8,239.8L142.3,241.9L140.8,244.0L139.3,241.9Z" fill="#333"/>
<path d="M140.8,255.6V257.6" stroke="#333" stroke-width="0.7"/>
<text x="52.3" y="264.4" text-anchor="middle" font-size="7" fill="#1a1a1a" textLength="8.6" lengthAdjust="spacingAndGlyphs">CA</text>
<text x="65.0" y="264.4" text-anchor="middle" font-size="7" fill="#1a1a1a" textLength="13.2" lengthAdjust="spacingAndGlyphs">CBM</text>
<text x="77.6" y="264.4" text-anchor="middle" font-size="7" fill="#1a1a1a" textLength="11.0" lengthAdjust="spacingAndGlyphs">CiC</text>
<text x="90.2" y="264.4" text-anchor="middle" font-size="7" fill="#1a1a1a" textLength="10.4" lengthAdjust="spacingAndGlyphs">FrC</text>
<text x="102.9" y="264.4" text-anchor="middle" font-size="7" fill="#1a1a1a" textLength="11.8" lengthAdjust="spacingAndGlyphs">PHp</text>
<text x="115.5" y="264.4" text-anchor="middle" font-size="7" fill="#1a1a1a" textLength="10.8" lengthAdjust="spacingAndGlyphs">PtC</text>
<text x="128.2" y="264.4" text-anchor="middle" font-size="7" fill="#1a1a1a" textLength="8.0" lengthAdjust="spacingAndGlyphs">PU</text>
<text x="140.8" y="264.4" text-anchor="middle" font-size="7" fill="#1a1a1a" textLength="12.4" lengthAdjust="spacingAndGlyphs">TCtx</text>
<text x="171.3" y="147.7" font-size="8.3" fill="#1a1a1a">n-hexosylceramide</text>
<text transform="translate(155.8,202.4) rotate(-90)" text-anchor="middle" font-size="6.2" fill="#2a2a2a" textLength="79.5" lengthAdjust="spacingAndGlyphs">z-scored average abundance</text>
<path d="M169.8,150.3V255.6H272.9" fill="none" stroke="#333" stroke-width="0.9"/>
<path d="M167.8,161.3H169.8" stroke="#333" stroke-width="0.7"/>
<text x="166.7" y="163.4" text-anchor="end" font-size="6" fill="#2a2a2a">4</text>
<path d="M167.8,178.1H169.8" stroke="#333" stroke-width="0.7"/>
<text x="166.7" y="180.2" text-anchor="end" font-size="6" fill="#2a2a2a">3</text>
<path d="M167.8,194.6H169.8" stroke="#333" stroke-width="0.7"/>
<text x="166.7" y="196.7" text-anchor="end" font-size="6" fill="#2a2a2a">2</text>
<path d="M167.8,211.2H169.8" stroke="#333" stroke-width="0.7"/>
<text x="166.7" y="213.3" text-anchor="end" font-size="6" fill="#2a2a2a">1</text>
<path d="M167.8,228.1H169.8" stroke="#333" stroke-width="0.7"/>
<text x="166.7" y="230.2" text-anchor="end" font-size="6" fill="#2a2a2a">0</text>
<path d="M167.8,244.5H169.8" stroke="#333" stroke-width="0.7"/>
<text x="166.7" y="246.6" text-anchor="end" font-size="6" fill="#2a2a2a">−1</text>
<path d="M177.7,193.7V207.3M177.7,217.8V221.9M174.7,193.7H180.7M174.7,221.9H180.7" stroke="#444" stroke-width="0.8" fill="none"/>
<rect x="172.7" y="207.3" width="10.0" height="10.5" fill="#c81b22" stroke="#3a3a3a" stroke-width="0.8"/>
<path d="M172.7,209.9H182.7" stroke="#3a3a3a" stroke-width="0.9"/>
<path d="M177.7,183.3L179.2,185.4L177.7,187.5L176.2,185.4Z" fill="#333"/>
<path d="M177.7,230.3L179.2,232.4L177.7,234.5L176.2,232.4Z" fill="#333"/>
<path d="M177.7,255.6V257.6" stroke="#333" stroke-width="0.7"/>
<path d="M190.3,223.2V228.7M190.3,236.2V241.2M187.3,223.2H193.3M187.3,241.2H193.3" stroke="#444" stroke-width="0.8" fill="none"/>
<rect x="185.3" y="228.7" width="10.0" height="7.5" fill="#e8556a" stroke="#3a3a3a" stroke-width="0.8"/>
<path d="M185.3,230.7H195.3" stroke="#3a3a3a" stroke-width="0.9"/>
<path d="M190.3,255.6V257.6" stroke="#333" stroke-width="0.7"/>
<path d="M203.0,218.9V226.3M203.0,235.3V238.3M200.0,218.9H206.0M200.0,238.3H206.0" stroke="#444" stroke-width="0.8" fill="none"/>
<rect x="198.0" y="226.3" width="10.0" height="9.0" fill="#dd8085" stroke="#3a3a3a" stroke-width="0.8"/>
<path d="M198.0,231.3H208.0" stroke="#3a3a3a" stroke-width="0.9"/>
<path d="M203.0,210.0L204.5,212.1L203.0,214.2L201.5,212.1Z" fill="#333"/>
<path d="M203.0,255.6V257.6" stroke="#333" stroke-width="0.7"/>
<path d="M215.6,218.9V222.1M215.6,238.3V243.0M212.6,218.9H218.6M212.6,243.0H218.6" stroke="#444" stroke-width="0.8" fill="none"/>
<rect x="210.6" y="222.1" width="10.0" height="16.2" fill="#ecb2b5" stroke="#3a3a3a" stroke-width="0.8"/>
<path d="M210.6,233.5H220.6" stroke="#3a3a3a" stroke-width="0.9"/>
<path d="M215.6,255.6V257.6" stroke="#333" stroke-width="0.7"/>
<path d="M228.2,165.7V190.2M228.2,213.2V242.3M225.2,165.7H231.2M225.2,242.3H231.2" stroke="#444" stroke-width="0.8" fill="none"/>
<rect x="223.2" y="190.2" width="10.0" height="23.0" fill="#cfe2de" stroke="#3a3a3a" stroke-width="0.8"/>
<path d="M223.2,206.8H233.2" stroke="#3a3a3a" stroke-width="0.9"/>
<path d="M228.2,153.3L229.8,155.4L228.2,157.5L226.8,155.4Z" fill="#333"/>
<path d="M228.2,247.9L229.8,250.0L228.2,252.1L226.8,250.0Z" fill="#333"/>
<path d="M228.2,255.6V257.6" stroke="#333" stroke-width="0.7"/>
<path d="M240.9,236.2V239.0M240.9,243.8V248.2M237.9,236.2H243.9M237.9,248.2H243.9" stroke="#444" stroke-width="0.8" fill="none"/>
<rect x="235.9" y="239.0" width="10.0" height="4.8" fill="#dde9ee" stroke="#3a3a3a" stroke-width="0.8"/>
<path d="M235.9,241.2H245.9" stroke="#3a3a3a" stroke-width="0.9"/>
<path d="M240.9,228.6L242.4,230.7L240.9,232.8L239.4,230.7Z" fill="#333"/>
<path d="M240.9,255.6V257.6" stroke="#333" stroke-width="0.7"/>
<path d="M253.6,233.5V237.9M253.6,243.4V247.3M250.6,233.5H256.6M250.6,247.3H256.6" stroke="#444" stroke-width="0.8" fill="none"/>
<rect x="248.6" y="237.9" width="10.0" height="5.5" fill="#b2d9de" stroke="#3a3a3a" stroke-width="0.8"/>
<path d="M248.6,241.2H258.6" stroke="#3a3a3a" stroke-width="0.9"/>
<path d="M253.6,220.5L255.1,222.6L253.6,224.7L252.1,222.6Z" fill="#333"/>
<path d="M253.6,255.6V257.6" stroke="#333" stroke-width="0.7"/>
<path d="M266.2,217.8V227.4M266.2,234.0V241.6M263.2,217.8H269.2M263.2,241.6H269.2" stroke="#444" stroke-width="0.8" fill="none"/>
<rect x="261.2" y="227.4" width="10.0" height="6.6" fill="#5e9294" stroke="#3a3a3a" stroke-width="0.8"/>
<path d="M261.2,229.2H271.2" stroke="#3a3a3a" stroke-width="0.9"/>
<path d="M266.2,209.5L267.7,211.6L266.2,213.7L264.7,211.6Z" fill="#333"/>
<path d="M266.2,215.0L267.7,217.1L266.2,219.2L264.7,217.1Z" fill="#333"/>
<path d="M266.2,255.6V257.6" stroke="#333" stroke-width="0.7"/>
<text x="177.7" y="264.4" text-anchor="middle" font-size="7" fill="#1a1a1a" textLength="8.6" lengthAdjust="spacingAndGlyphs">CA</text>
<text x="190.3" y="264.4" text-anchor="middle" font-size="7" fill="#1a1a1a" textLength="13.2" lengthAdjust="spacingAndGlyphs">CBM</text>
<text x="203.0" y="264.4" text-anchor="middle" font-size="7" fill="#1a1a1a" textLength="11.0" lengthAdjust="spacingAndGlyphs">CiC</text>
<text x="215.6" y="264.4" text-anchor="middle" font-size="7" fill="#1a1a1a" textLength="10.4" lengthAdjust="spacingAndGlyphs">FrC</text>
<text x="228.2" y="264.4" text-anchor="middle" font-size="7" fill="#1a1a1a" textLength="11.8" lengthAdjust="spacingAndGlyphs">PHp</text>
<text x="240.9" y="264.4" text-anchor="middle" font-size="7" fill="#1a1a1a" textLength="10.8" lengthAdjust="spacingAndGlyphs">PtC</text>
<text x="253.6" y="264.4" text-anchor="middle" font-size="7" fill="#1a1a1a" textLength="8.0" lengthAdjust="spacingAndGlyphs">PU</text>
<text x="266.2" y="264.4" text-anchor="middle" font-size="7" fill="#1a1a1a" textLength="12.4" lengthAdjust="spacingAndGlyphs">TCtx</text>
<text x="296.4" y="147.7" font-size="8.3" fill="#1a1a1a">Lyso-phosphatidylcholine</text>
<text transform="translate(280.9,202.4) rotate(-90)" text-anchor="middle" font-size="6.2" fill="#2a2a2a" textLength="79.5" lengthAdjust="spacingAndGlyphs">z-scored average abundance</text>
<path d="M294.9,150.3V255.6H397.9" fill="none" stroke="#333" stroke-width="0.9"/>
<path d="M292.9,164.6H294.9" stroke="#333" stroke-width="0.7"/>
<text x="291.7" y="166.7" text-anchor="end" font-size="6" fill="#2a2a2a">4</text>
<path d="M292.9,179.2H294.9" stroke="#333" stroke-width="0.7"/>
<text x="291.7" y="181.3" text-anchor="end" font-size="6" fill="#2a2a2a">3</text>
<path d="M292.9,193.7H294.9" stroke="#333" stroke-width="0.7"/>
<text x="291.7" y="195.8" text-anchor="end" font-size="6" fill="#2a2a2a">2</text>
<path d="M292.9,208.4H294.9" stroke="#333" stroke-width="0.7"/>
<text x="291.7" y="210.5" text-anchor="end" font-size="6" fill="#2a2a2a">1</text>
<path d="M292.9,223.0H294.9" stroke="#333" stroke-width="0.7"/>
<text x="291.7" y="225.1" text-anchor="end" font-size="6" fill="#2a2a2a">0</text>
<path d="M292.9,237.5H294.9" stroke="#333" stroke-width="0.7"/>
<text x="291.7" y="239.6" text-anchor="end" font-size="6" fill="#2a2a2a">−1</text>
<path d="M292.9,252.1H294.9" stroke="#333" stroke-width="0.7"/>
<text x="291.7" y="254.2" text-anchor="end" font-size="6" fill="#2a2a2a">−2</text>
<path d="M302.7,196.3V215.6M302.7,229.2V234.2M299.7,196.3H305.7M299.7,234.2H305.7" stroke="#444" stroke-width="0.8" fill="none"/>
<rect x="297.7" y="215.6" width="10.0" height="13.6" fill="#c81b22" stroke="#3a3a3a" stroke-width="0.8"/>
<path d="M297.7,228.1H307.7" stroke="#3a3a3a" stroke-width="0.9"/>
<path d="M302.7,153.3L304.2,155.4L302.7,157.5L301.2,155.4Z" fill="#333"/>
<path d="M302.7,255.6V257.6" stroke="#333" stroke-width="0.7"/>
<path d="M315.3,194.6V209.9M315.3,232.9V250.0M312.3,194.6H318.3M312.3,250.0H318.3" stroke="#444" stroke-width="0.8" fill="none"/>
<rect x="310.3" y="209.9" width="10.0" height="23.0" fill="#e8556a" stroke="#3a3a3a" stroke-width="0.8"/>
<path d="M310.3,222.1H320.3" stroke="#3a3a3a" stroke-width="0.9"/>
<path d="M315.3,255.6V257.6" stroke="#333" stroke-width="0.7"/>
<path d="M328.0,222.6V229.8M328.0,240.5V245.6M325.0,222.6H331.0M325.0,245.6H331.0" stroke="#444" stroke-width="0.8" fill="none"/>
<rect x="323.0" y="229.8" width="10.0" height="10.7" fill="#dd8085" stroke="#3a3a3a" stroke-width="0.8"/>
<path d="M323.0,235.3H333.0" stroke="#3a3a3a" stroke-width="0.9"/>
<path d="M328.0,255.6V257.6" stroke="#333" stroke-width="0.7"/>
<path d="M340.6,214.3V216.5M340.6,230.2V235.1M337.6,214.3H343.6M337.6,235.1H343.6" stroke="#444" stroke-width="0.8" fill="none"/>
<rect x="335.6" y="216.5" width="10.0" height="13.7" fill="#ecb2b5" stroke="#3a3a3a" stroke-width="0.8"/>
<path d="M335.6,225.9H345.6" stroke="#3a3a3a" stroke-width="0.9"/>
<path d="M340.6,255.6V257.6" stroke="#333" stroke-width="0.7"/>
<path d="M353.3,207.3V209.4M353.3,220.0V226.5M350.3,207.3H356.3M350.3,226.5H356.3" stroke="#444" stroke-width="0.8" fill="none"/>
<rect x="348.3" y="209.4" width="10.0" height="10.6" fill="#cfe2de" stroke="#3a3a3a" stroke-width="0.8"/>
<path d="M348.3,217.1H358.3" stroke="#3a3a3a" stroke-width="0.9"/>
<path d="M353.3,178.4L354.8,180.5L353.3,182.6L351.8,180.5Z" fill="#333"/>
<path d="M353.3,187.2L354.8,189.3L353.3,191.4L351.8,189.3Z" fill="#333"/>
<path d="M353.3,255.6V257.6" stroke="#333" stroke-width="0.7"/>
<path d="M365.9,184.3V207.3M365.9,222.6V235.7M362.9,184.3H368.9M362.9,235.7H368.9" stroke="#444" stroke-width="0.8" fill="none"/>
<rect x="360.9" y="207.3" width="10.0" height="15.3" fill="#dde9ee" stroke="#3a3a3a" stroke-width="0.8"/>
<path d="M360.9,217.1H370.9" stroke="#3a3a3a" stroke-width="0.9"/>
<path d="M365.9,255.6V257.6" stroke="#333" stroke-width="0.7"/>
<path d="M378.6,216.0V227.6M378.6,236.2V242.3M375.6,216.0H381.6M375.6,242.3H381.6" stroke="#444" stroke-width="0.8" fill="none"/>
<rect x="373.6" y="227.6" width="10.0" height="8.6" fill="#b2d9de" stroke="#3a3a3a" stroke-width="0.8"/>
<path d="M373.6,233.1H383.6" stroke="#3a3a3a" stroke-width="0.9"/>
<path d="M378.6,255.6V257.6" stroke="#333" stroke-width="0.7"/>
<path d="M391.2,207.9V217.8M391.2,229.6V242.3M388.2,207.9H394.2M388.2,242.3H394.2" stroke="#444" stroke-width="0.8" fill="none"/>
<rect x="386.2" y="217.8" width="10.0" height="11.8" fill="#5e9294" stroke="#3a3a3a" stroke-width="0.8"/>
<path d="M386.2,224.3H396.2" stroke="#3a3a3a" stroke-width="0.9"/>
<path d="M391.2,255.6V257.6" stroke="#333" stroke-width="0.7"/>
<text x="302.7" y="264.4" text-anchor="middle" font-size="7" fill="#1a1a1a" textLength="8.6" lengthAdjust="spacingAndGlyphs">CA</text>
<text x="315.3" y="264.4" text-anchor="middle" font-size="7" fill="#1a1a1a" textLength="13.2" lengthAdjust="spacingAndGlyphs">CBM</text>
<text x="328.0" y="264.4" text-anchor="middle" font-size="7" fill="#1a1a1a" textLength="11.0" lengthAdjust="spacingAndGlyphs">CiC</text>
<text x="340.6" y="264.4" text-anchor="middle" font-size="7" fill="#1a1a1a" textLength="10.4" lengthAdjust="spacingAndGlyphs">FrC</text>
<text x="353.3" y="264.4" text-anchor="middle" font-size="7" fill="#1a1a1a" textLength="11.8" lengthAdjust="spacingAndGlyphs">PHp</text>
<text x="365.9" y="264.4" text-anchor="middle" font-size="7" fill="#1a1a1a" textLength="10.8" lengthAdjust="spacingAndGlyphs">PtC</text>
<text x="378.6" y="264.4" text-anchor="middle" font-size="7" fill="#1a1a1a" textLength="8.0" lengthAdjust="spacingAndGlyphs">PU</text>
<text x="391.2" y="264.4" text-anchor="middle" font-size="7" fill="#1a1a1a" textLength="12.4" lengthAdjust="spacingAndGlyphs">TCtx</text>
<text x="421.4" y="147.7" font-size="8.3" fill="#1a1a1a">Lyso-phosphatidylethanolamine</text>
<text transform="translate(405.9,202.4) rotate(-90)" text-anchor="middle" font-size="6.2" fill="#2a2a2a" textLength="79.5" lengthAdjust="spacingAndGlyphs">z-scored average abundance</text>
<path d="M419.9,150.3V255.6H522.9" fill="none" stroke="#333" stroke-width="0.9"/>
<path d="M417.9,153.2H419.9" stroke="#333" stroke-width="0.7"/>
<text x="416.7" y="155.3" text-anchor="end" font-size="6" fill="#2a2a2a">6</text>
<path d="M417.9,167.4H419.9" stroke="#333" stroke-width="0.7"/>
<text x="416.7" y="169.5" text-anchor="end" font-size="6" fill="#2a2a2a">5</text>
<path d="M417.9,181.6H419.9" stroke="#333" stroke-width="0.7"/>
<text x="416.7" y="183.7" text-anchor="end" font-size="6" fill="#2a2a2a">4</text>
<path d="M417.9,196.3H419.9" stroke="#333" stroke-width="0.7"/>
<text x="416.7" y="198.4" text-anchor="end" font-size="6" fill="#2a2a2a">3</text>
<path d="M417.9,210.5H419.9" stroke="#333" stroke-width="0.7"/>
<text x="416.7" y="212.6" text-anchor="end" font-size="6" fill="#2a2a2a">2</text>
<path d="M417.9,225.2H419.9" stroke="#333" stroke-width="0.7"/>
<text x="416.7" y="227.3" text-anchor="end" font-size="6" fill="#2a2a2a">1</text>
<path d="M417.9,239.7H419.9" stroke="#333" stroke-width="0.7"/>
<text x="416.7" y="241.8" text-anchor="end" font-size="6" fill="#2a2a2a">0</text>
<path d="M417.9,253.9H419.9" stroke="#333" stroke-width="0.7"/>
<text x="416.7" y="256.0" text-anchor="end" font-size="6" fill="#2a2a2a">−1</text>
<path d="M427.7,246.2V246.7M427.7,248.0V248.4M424.7,246.2H430.7M424.7,248.4H430.7" stroke="#444" stroke-width="0.8" fill="none"/>
<rect x="422.7" y="246.7" width="10.0" height="1.3" fill="#c81b22" stroke="#3a3a3a" stroke-width="0.8"/>
<path d="M422.7,247.3H432.7" stroke="#3a3a3a" stroke-width="0.9"/>
<path d="M427.7,209.5L429.2,211.6L427.7,213.7L426.2,211.6Z" fill="#333"/>
<path d="M427.7,255.6V257.6" stroke="#333" stroke-width="0.7"/>
<path d="M440.3,236.4V241.2M440.3,244.9V250.0M437.3,236.4H443.3M437.3,250.0H443.3" stroke="#444" stroke-width="0.8" fill="none"/>
<rect x="435.3" y="241.2" width="10.0" height="3.7" fill="#e8556a" stroke="#3a3a3a" stroke-width="0.8"/>
<path d="M435.3,243.0H445.3" stroke="#3a3a3a" stroke-width="0.9"/>
<path d="M440.3,255.6V257.6" stroke="#333" stroke-width="0.7"/>
<path d="M453.0,247.1V247.3M453.0,248.9V249.5M450.0,247.1H456.0M450.0,249.5H456.0" stroke="#444" stroke-width="0.8" fill="none"/>
<rect x="448.0" y="247.3" width="10.0" height="1.6" fill="#dd8085" stroke="#3a3a3a" stroke-width="0.8"/>
<path d="M448.0,248.2H458.0" stroke="#3a3a3a" stroke-width="0.9"/>
<path d="M453.0,217.2L454.5,219.3L453.0,221.4L451.5,219.3Z" fill="#333"/>
<path d="M453.0,255.6V257.6" stroke="#333" stroke-width="0.7"/>
<path d="M465.6,236.2V236.8M465.6,244.5V249.3M462.6,236.2H468.6M462.6,249.3H468.6" stroke="#444" stroke-width="0.8" fill="none"/>
<rect x="460.6" y="236.8" width="10.0" height="7.7" fill="#ecb2b5" stroke="#3a3a3a" stroke-width="0.8"/>
<path d="M460.6,240.5H470.6" stroke="#3a3a3a" stroke-width="0.9"/>
<path d="M465.6,255.6V257.6" stroke="#333" stroke-width="0.7"/>
<path d="M478.3,216.7V218.9M478.3,231.3V236.2M475.3,216.7H481.3M475.3,236.2H481.3" stroke="#444" stroke-width="0.8" fill="none"/>
<rect x="473.3" y="218.9" width="10.0" height="12.4" fill="#cfe2de" stroke="#3a3a3a" stroke-width="0.8"/>
<path d="M473.3,223.7H483.3" stroke="#3a3a3a" stroke-width="0.9"/>
<path d="M478.3,255.6V257.6" stroke="#333" stroke-width="0.7"/>
<path d="M490.9,180.3V210.1M490.9,236.8V241.2M487.9,180.3H493.9M487.9,241.2H493.9" stroke="#444" stroke-width="0.8" fill="none"/>
<rect x="485.9" y="210.1" width="10.0" height="26.7" fill="#dde9ee" stroke="#3a3a3a" stroke-width="0.8"/>
<path d="M485.9,232.4H495.9" stroke="#3a3a3a" stroke-width="0.9"/>
<path d="M490.9,153.3L492.4,155.4L490.9,157.5L489.4,155.4Z" fill="#333"/>
<path d="M490.9,255.6V257.6" stroke="#333" stroke-width="0.7"/>
<path d="M503.6,245.6V246.2M503.6,248.4V248.9M500.6,245.6H506.6M500.6,248.9H506.6" stroke="#444" stroke-width="0.8" fill="none"/>
<rect x="498.6" y="246.2" width="10.0" height="2.2" fill="#b2d9de" stroke="#3a3a3a" stroke-width="0.8"/>
<path d="M498.6,247.3H508.6" stroke="#3a3a3a" stroke-width="0.9"/>
<path d="M503.6,255.6V257.6" stroke="#333" stroke-width="0.7"/>
<path d="M516.2,236.4V243.0M516.2,246.7V248.4M513.2,236.4H519.2M513.2,248.4H519.2" stroke="#444" stroke-width="0.8" fill="none"/>
<rect x="511.2" y="243.0" width="10.0" height="3.7" fill="#5e9294" stroke="#3a3a3a" stroke-width="0.8"/>
<path d="M511.2,244.5H521.2" stroke="#3a3a3a" stroke-width="0.9"/>
<path d="M516.2,220.5L517.7,222.6L516.2,224.7L514.7,222.6Z" fill="#333"/>
<path d="M516.2,226.6L517.7,228.7L516.2,230.8L514.7,228.7Z" fill="#333"/>
<path d="M516.2,255.6V257.6" stroke="#333" stroke-width="0.7"/>
<text x="427.7" y="264.4" text-anchor="middle" font-size="7" fill="#1a1a1a" textLength="8.6" lengthAdjust="spacingAndGlyphs">CA</text>
<text x="440.3" y="264.4" text-anchor="middle" font-size="7" fill="#1a1a1a" textLength="13.2" lengthAdjust="spacingAndGlyphs">CBM</text>
<text x="453.0" y="264.4" text-anchor="middle" font-size="7" fill="#1a1a1a" textLength="11.0" lengthAdjust="spacingAndGlyphs">CiC</text>
<text x="465.6" y="264.4" text-anchor="middle" font-size="7" fill="#1a1a1a" textLength="10.4" lengthAdjust="spacingAndGlyphs">FrC</text>
<text x="478.3" y="264.4" text-anchor="middle" font-size="7" fill="#1a1a1a" textLength="11.8" lengthAdjust="spacingAndGlyphs">PHp</text>
<text x="490.9" y="264.4" text-anchor="middle" font-size="7" fill="#1a1a1a" textLength="10.8" lengthAdjust="spacingAndGlyphs">PtC</text>
<text x="503.6" y="264.4" text-anchor="middle" font-size="7" fill="#1a1a1a" textLength="8.0" lengthAdjust="spacingAndGlyphs">PU</text>
<text x="516.2" y="264.4" text-anchor="middle" font-size="7" fill="#1a1a1a" textLength="12.4" lengthAdjust="spacingAndGlyphs">TCtx</text>
<text x="551.7" y="147.7" font-size="8.3" fill="#1a1a1a">Lyso-plasmalogen PE</text>
<text transform="translate(536.2,202.4) rotate(-90)" text-anchor="middle" font-size="6.2" fill="#2a2a2a" textLength="79.5" lengthAdjust="spacingAndGlyphs">z-scored average abundance</text>
<path d="M550.2,150.3V255.6H653.2" fill="none" stroke="#333" stroke-width="0.9"/>
<path d="M548.2,160.5H550.2" stroke="#333" stroke-width="0.7"/>
<text x="547.0" y="162.6" text-anchor="end" font-size="6" fill="#2a2a2a">4</text>
<path d="M548.2,176.5H550.2" stroke="#333" stroke-width="0.7"/>
<text x="547.0" y="178.6" text-anchor="end" font-size="6" fill="#2a2a2a">3</text>
<path d="M548.2,192.8H550.2" stroke="#333" stroke-width="0.7"/>
<text x="547.0" y="194.9" text-anchor="end" font-size="6" fill="#2a2a2a">2</text>
<path d="M548.2,208.8H550.2" stroke="#333" stroke-width="0.7"/>
<text x="547.0" y="210.9" text-anchor="end" font-size="6" fill="#2a2a2a">1</text>
<path d="M548.2,225.1H550.2" stroke="#333" stroke-width="0.7"/>
<text x="547.0" y="227.2" text-anchor="end" font-size="6" fill="#2a2a2a">0</text>
<path d="M548.2,241.4H550.2" stroke="#333" stroke-width="0.7"/>
<text x="547.0" y="243.5" text-anchor="end" font-size="6" fill="#2a2a2a">−1</text>
<path d="M558.0,205.4V212.5M558.0,226.2V231.4M555.0,205.4H561.0M555.0,231.4H561.0" stroke="#444" stroke-width="0.8" fill="none"/>
<rect x="553.0" y="212.5" width="10.0" height="13.7" fill="#c81b22" stroke="#3a3a3a" stroke-width="0.8"/>
<path d="M553.0,220.9H563.0" stroke="#3a3a3a" stroke-width="0.9"/>
<path d="M558.0,177.0L559.5,179.1L558.0,181.2L556.5,179.1Z" fill="#333"/>
<path d="M558.0,186.8L559.5,188.9L558.0,191.0L556.5,188.9Z" fill="#333"/>
<path d="M558.0,255.6V257.6" stroke="#333" stroke-width="0.7"/>
<path d="M570.6,155.2V187.5M570.6,217.8V249.8M567.6,155.2H573.6M567.6,249.8H573.6" stroke="#444" stroke-width="0.8" fill="none"/>
<rect x="565.6" y="187.5" width="10.0" height="30.3" fill="#e8556a" stroke="#3a3a3a" stroke-width="0.8"/>
<path d="M565.6,212.5H575.6" stroke="#3a3a3a" stroke-width="0.9"/>
<path d="M570.6,255.6V257.6" stroke="#333" stroke-width="0.7"/>
<path d="M583.3,228.8V231.4M583.3,239.3V242.7M580.3,228.8H586.3M580.3,242.7H586.3" stroke="#444" stroke-width="0.8" fill="none"/>
<rect x="578.3" y="231.4" width="10.0" height="7.9" fill="#dd8085" stroke="#3a3a3a" stroke-width="0.8"/>
<path d="M578.3,235.4H588.3" stroke="#3a3a3a" stroke-width="0.9"/>
<path d="M583.3,255.6V257.6" stroke="#333" stroke-width="0.7"/>
<path d="M596.0,207.3V220.4M596.0,232.2V241.4M593.0,207.3H599.0M593.0,241.4H599.0" stroke="#444" stroke-width="0.8" fill="none"/>
<rect x="591.0" y="220.4" width="10.0" height="11.8" fill="#ecb2b5" stroke="#3a3a3a" stroke-width="0.8"/>
<path d="M591.0,227.0H601.0" stroke="#3a3a3a" stroke-width="0.9"/>
<path d="M596.0,255.6V257.6" stroke="#333" stroke-width="0.7"/>
<path d="M608.6,209.4V220.4M608.6,238.0V244.0M605.6,209.4H611.6M605.6,244.0H611.6" stroke="#444" stroke-width="0.8" fill="none"/>
<rect x="603.6" y="220.4" width="10.0" height="17.6" fill="#cfe2de" stroke="#3a3a3a" stroke-width="0.8"/>
<path d="M603.6,235.4H613.6" stroke="#3a3a3a" stroke-width="0.9"/>
<path d="M608.6,255.6V257.6" stroke="#333" stroke-width="0.7"/>
<path d="M621.2,220.9V228.3M621.2,238.3V247.2M618.2,220.9H624.2M618.2,247.2H624.2" stroke="#444" stroke-width="0.8" fill="none"/>
<rect x="616.2" y="228.3" width="10.0" height="10.0" fill="#dde9ee" stroke="#3a3a3a" stroke-width="0.8"/>
<path d="M616.2,234.3H626.2" stroke="#3a3a3a" stroke-width="0.9"/>
<path d="M621.2,255.6V257.6" stroke="#333" stroke-width="0.7"/>
<path d="M633.9,205.9V219.9M633.9,233.0V235.6M630.9,205.9H636.9M630.9,235.6H636.9" stroke="#444" stroke-width="0.8" fill="none"/>
<rect x="628.9" y="219.9" width="10.0" height="13.1" fill="#b2d9de" stroke="#3a3a3a" stroke-width="0.8"/>
<path d="M628.9,228.8H638.9" stroke="#3a3a3a" stroke-width="0.9"/>
<path d="M633.9,255.6V257.6" stroke="#333" stroke-width="0.7"/>
<path d="M646.5,224.3V225.6M646.5,230.1V234.1M643.5,224.3H649.5M643.5,234.1H649.5" stroke="#444" stroke-width="0.8" fill="none"/>
<rect x="641.5" y="225.6" width="10.0" height="4.5" fill="#5e9294" stroke="#3a3a3a" stroke-width="0.8"/>
<path d="M641.5,227.5H651.5" stroke="#3a3a3a" stroke-width="0.9"/>
<path d="M646.5,210.4L648.0,212.5L646.5,214.6L645.0,212.5Z" fill="#333"/>
<path d="M646.5,213.8L648.0,215.9L646.5,218.0L645.0,215.9Z" fill="#333"/>
<path d="M646.5,236.2L648.0,238.3L646.5,240.4L645.0,238.3Z" fill="#333"/>
<path d="M646.5,244.6L648.0,246.7L646.5,248.8L645.0,246.7Z" fill="#333"/>
<path d="M646.5,255.6V257.6" stroke="#333" stroke-width="0.7"/>
<text x="558.0" y="264.4" text-anchor="middle" font-size="7" fill="#1a1a1a" textLength="8.6" lengthAdjust="spacingAndGlyphs">CA</text>
<text x="570.6" y="264.4" text-anchor="middle" font-size="7" fill="#1a1a1a" textLength="13.2" lengthAdjust="spacingAndGlyphs">CBM</text>
<text x="583.3" y="264.4" text-anchor="middle" font-size="7" fill="#1a1a1a" textLength="11.0" lengthAdjust="spacingAndGlyphs">CiC</text>
<text x="596.0" y="264.4" text-anchor="middle" font-size="7" fill="#1a1a1a" textLength="10.4" lengthAdjust="spacingAndGlyphs">FrC</text>
<text x="608.6" y="264.4" text-anchor="middle" font-size="7" fill="#1a1a1a" textLength="11.8" lengthAdjust="spacingAndGlyphs">PHp</text>
<text x="621.2" y="264.4" text-anchor="middle" font-size="7" fill="#1a1a1a" textLength="10.8" lengthAdjust="spacingAndGlyphs">PtC</text>
<text x="633.9" y="264.4" text-anchor="middle" font-size="7" fill="#1a1a1a" textLength="8.0" lengthAdjust="spacingAndGlyphs">PU</text>
<text x="646.5" y="264.4" text-anchor="middle" font-size="7" fill="#1a1a1a" textLength="12.4" lengthAdjust="spacingAndGlyphs">TCtx</text>
<text x="46.0" y="274.7" font-size="8.3" fill="#1a1a1a">Phosphatidylcholine</text>
<text transform="translate(30.5,329.4) rotate(-90)" text-anchor="middle" font-size="6.2" fill="#2a2a2a" textLength="79.5" lengthAdjust="spacingAndGlyphs">z-scored average abundance</text>
<path d="M44.5,277.3V382.6H147.5" fill="none" stroke="#333" stroke-width="0.9"/>
<path d="M42.5,285.6H44.5" stroke="#333" stroke-width="0.7"/>
<text x="41.3" y="287.7" text-anchor="end" font-size="6" fill="#2a2a2a">3</text>
<path d="M42.5,301.4H44.5" stroke="#333" stroke-width="0.7"/>
<text x="41.3" y="303.5" text-anchor="end" font-size="6" fill="#2a2a2a">2</text>
<path d="M42.5,317.4H44.5" stroke="#333" stroke-width="0.7"/>
<text x="41.3" y="319.5" text-anchor="end" font-size="6" fill="#2a2a2a">1</text>
<path d="M42.5,333.2H44.5" stroke="#333" stroke-width="0.7"/>
<text x="41.3" y="335.3" text-anchor="end" font-size="6" fill="#2a2a2a">0</text>
<path d="M42.5,349.1H44.5" stroke="#333" stroke-width="0.7"/>
<text x="41.3" y="351.2" text-anchor="end" font-size="6" fill="#2a2a2a">−1</text>
<path d="M42.5,364.9H44.5" stroke="#333" stroke-width="0.7"/>
<text x="41.3" y="367.0" text-anchor="end" font-size="6" fill="#2a2a2a">−2</text>
<path d="M42.5,381.3H44.5" stroke="#333" stroke-width="0.7"/>
<text x="41.3" y="383.4" text-anchor="end" font-size="6" fill="#2a2a2a">−3</text>
<path d="M52.3,282.4V293.1M52.3,336.4V347.4M49.3,282.4H55.3M49.3,347.4H55.3" stroke="#444" stroke-width="0.8" fill="none"/>
<rect x="47.3" y="293.1" width="10.0" height="43.3" fill="#c81b22" stroke="#3a3a3a" stroke-width="0.8"/>
<path d="M47.3,323.3H57.3" stroke="#3a3a3a" stroke-width="0.9"/>
<path d="M52.3,382.6V384.6" stroke="#333" stroke-width="0.7"/>
<path d="M65.0,321.1V332.1M65.0,349.6V359.4M62.0,321.1H68.0M62.0,359.4H68.0" stroke="#444" stroke-width="0.8" fill="none"/>
<rect x="60.0" y="332.1" width="10.0" height="17.5" fill="#e8556a" stroke="#3a3a3a" stroke-width="0.8"/>
<path d="M60.0,341.3H70.0" stroke="#3a3a3a" stroke-width="0.9"/>
<path d="M65.0,374.4L66.5,376.5L65.0,378.6L63.5,376.5Z" fill="#333"/>
<path d="M65.0,382.6V384.6" stroke="#333" stroke-width="0.7"/>
<path d="M77.6,344.1V344.8M77.6,352.2V358.3M74.6,344.1H80.6M74.6,358.3H80.6" stroke="#444" stroke-width="0.8" fill="none"/>
<rect x="72.6" y="344.8" width="10.0" height="7.4" fill="#dd8085" stroke="#3a3a3a" stroke-width="0.8"/>
<path d="M72.6,349.1H82.6" stroke="#3a3a3a" stroke-width="0.9"/>
<path d="M77.6,326.0L79.1,328.1L77.6,330.2L76.1,328.1Z" fill="#333"/>
<path d="M77.6,331.7L79.1,333.8L77.6,335.9L76.1,333.8Z" fill="#333"/>
<path d="M77.6,382.6V384.6" stroke="#333" stroke-width="0.7"/>
<path d="M90.2,312.8V315.6M90.2,324.4V324.4M87.2,312.8H93.2M87.2,324.4H93.2" stroke="#444" stroke-width="0.8" fill="none"/>
<rect x="85.2" y="315.6" width="10.0" height="8.8" fill="#ecb2b5" stroke="#3a3a3a" stroke-width="0.8"/>
<path d="M85.2,320.0H95.2" stroke="#3a3a3a" stroke-width="0.9"/>
<path d="M90.2,336.5L91.8,338.6L90.2,340.7L88.8,338.6Z" fill="#333"/>
<path d="M90.2,342.7L91.8,344.8L90.2,346.9L88.8,344.8Z" fill="#333"/>
<path d="M90.2,358.0L91.8,360.1L90.2,362.2L88.8,360.1Z" fill="#333"/>
<path d="M90.2,382.6V384.6" stroke="#333" stroke-width="0.7"/>
<path d="M102.9,312.4V314.1M102.9,330.3V341.3M99.9,312.4H105.9M99.9,341.3H105.9" stroke="#444" stroke-width="0.8" fill="none"/>
<rect x="97.9" y="314.1" width="10.0" height="16.2" fill="#cfe2de" stroke="#3a3a3a" stroke-width="0.8"/>
<path d="M97.9,324.4H107.9" stroke="#3a3a3a" stroke-width="0.9"/>
<path d="M102.9,382.6V384.6" stroke="#333" stroke-width="0.7"/>
<path d="M115.5,311.3V326.2M115.5,339.1V351.8M112.5,311.3H118.5M112.5,351.8H118.5" stroke="#444" stroke-width="0.8" fill="none"/>
<rect x="110.5" y="326.2" width="10.0" height="12.9" fill="#dde9ee" stroke="#3a3a3a" stroke-width="0.8"/>
<path d="M110.5,330.5H120.5" stroke="#3a3a3a" stroke-width="0.9"/>
<path d="M115.5,382.6V384.6" stroke="#333" stroke-width="0.7"/>
<path d="M128.2,325.5V331.6M128.2,346.3V354.0M125.2,325.5H131.2M125.2,354.0H131.2" stroke="#444" stroke-width="0.8" fill="none"/>
<rect x="123.2" y="331.6" width="10.0" height="14.7" fill="#b2d9de" stroke="#3a3a3a" stroke-width="0.8"/>
<path d="M123.2,339.1H133.2" stroke="#3a3a3a" stroke-width="0.9"/>
<path d="M128.2,382.6V384.6" stroke="#333" stroke-width="0.7"/>
<path d="M140.8,317.8V329.2M140.8,338.2V350.2M137.8,317.8H143.8M137.8,350.2H143.8" stroke="#444" stroke-width="0.8" fill="none"/>
<rect x="135.8" y="329.2" width="10.0" height="9.0" fill="#5e9294" stroke="#3a3a3a" stroke-width="0.8"/>
<path d="M135.8,331.0H145.8" stroke="#3a3a3a" stroke-width="0.9"/>
<path d="M140.8,382.6V384.6" stroke="#333" stroke-width="0.7"/>
<text x="52.3" y="391.4" text-anchor="middle" font-size="7" fill="#1a1a1a" textLength="8.6" lengthAdjust="spacingAndGlyphs">CA</text>
<text x="65.0" y="391.4" text-anchor="middle" font-size="7" fill="#1a1a1a" textLength="13.2" lengthAdjust="spacingAndGlyphs">CBM</text>
<text x="77.6" y="391.4" text-anchor="middle" font-size="7" fill="#1a1a1a" textLength="11.0" lengthAdjust="spacingAndGlyphs">CiC</text>
<text x="90.2" y="391.4" text-anchor="middle" font-size="7" fill="#1a1a1a" textLength="10.4" lengthAdjust="spacingAndGlyphs">FrC</text>
<text x="102.9" y="391.4" text-anchor="middle" font-size="7" fill="#1a1a1a" textLength="11.8" lengthAdjust="spacingAndGlyphs">PHp</text>
<text x="115.5" y="391.4" text-anchor="middle" font-size="7" fill="#1a1a1a" textLength="10.8" lengthAdjust="spacingAndGlyphs">PtC</text>
<text x="128.2" y="391.4" text-anchor="middle" font-size="7" fill="#1a1a1a" textLength="8.0" lengthAdjust="spacingAndGlyphs">PU</text>
<text x="140.8" y="391.4" text-anchor="middle" font-size="7" fill="#1a1a1a" textLength="12.4" lengthAdjust="spacingAndGlyphs">TCtx</text>
<text x="171.3" y="274.7" font-size="8.3" fill="#1a1a1a">Phosphatidylethanolamine</text>
<text transform="translate(155.8,329.4) rotate(-90)" text-anchor="middle" font-size="6.2" fill="#2a2a2a" textLength="79.5" lengthAdjust="spacingAndGlyphs">z-scored average abundance</text>
<path d="M169.8,277.3V382.6H272.9" fill="none" stroke="#333" stroke-width="0.9"/>
<path d="M167.8,287.2H169.8" stroke="#333" stroke-width="0.7"/>
<text x="166.7" y="289.3" text-anchor="end" font-size="6" fill="#2a2a2a">3</text>
<path d="M167.8,305.4H169.8" stroke="#333" stroke-width="0.7"/>
<text x="166.7" y="307.5" text-anchor="end" font-size="6" fill="#2a2a2a">2</text>
<path d="M167.8,323.7H169.8" stroke="#333" stroke-width="0.7"/>
<text x="166.7" y="325.8" text-anchor="end" font-size="6" fill="#2a2a2a">1</text>
<path d="M167.8,341.9H169.8" stroke="#333" stroke-width="0.7"/>
<text x="166.7" y="344.0" text-anchor="end" font-size="6" fill="#2a2a2a">0</text>
<path d="M167.8,360.1H169.8" stroke="#333" stroke-width="0.7"/>
<text x="166.7" y="362.2" text-anchor="end" font-size="6" fill="#2a2a2a">−1</text>
<path d="M167.8,378.5H169.8" stroke="#333" stroke-width="0.7"/>
<text x="166.7" y="380.6" text-anchor="end" font-size="6" fill="#2a2a2a">−2</text>
<path d="M177.7,299.2V320.0M177.7,337.1V343.5M174.7,299.2H180.7M174.7,343.5H180.7" stroke="#444" stroke-width="0.8" fill="none"/>
<rect x="172.7" y="320.0" width="10.0" height="17.1" fill="#c81b22" stroke="#3a3a3a" stroke-width="0.8"/>
<path d="M172.7,327.7H182.7" stroke="#3a3a3a" stroke-width="0.9"/>
<path d="M177.7,382.6V384.6" stroke="#333" stroke-width="0.7"/>
<path d="M190.3,344.5V356.6M190.3,366.0V377.0M187.3,344.5H193.3M187.3,377.0H193.3" stroke="#444" stroke-width="0.8" fill="none"/>
<rect x="185.3" y="356.6" width="10.0" height="9.4" fill="#e8556a" stroke="#3a3a3a" stroke-width="0.8"/>
<path d="M185.3,362.1H195.3" stroke="#3a3a3a" stroke-width="0.9"/>
<path d="M190.3,382.6V384.6" stroke="#333" stroke-width="0.7"/>
<path d="M203.0,340.2V341.3M203.0,350.7V364.3M200.0,340.2H206.0M200.0,364.3H206.0" stroke="#444" stroke-width="0.8" fill="none"/>
<rect x="198.0" y="341.3" width="10.0" height="9.4" fill="#dd8085" stroke="#3a3a3a" stroke-width="0.8"/>
<path d="M198.0,345.6H208.0" stroke="#3a3a3a" stroke-width="0.9"/>
<path d="M203.0,314.0L204.5,316.1L203.0,318.2L201.5,316.1Z" fill="#333"/>
<path d="M203.0,374.9L204.5,377.0L203.0,379.1L201.5,377.0Z" fill="#333"/>
<path d="M203.0,382.6V384.6" stroke="#333" stroke-width="0.7"/>
<path d="M215.6,282.4V310.6M215.6,332.7V357.2M212.6,282.4H218.6M212.6,357.2H218.6" stroke="#444" stroke-width="0.8" fill="none"/>
<rect x="210.6" y="310.6" width="10.0" height="22.1" fill="#ecb2b5" stroke="#3a3a3a" stroke-width="0.8"/>
<path d="M210.6,325.1H220.6" stroke="#3a3a3a" stroke-width="0.9"/>
<path d="M215.6,371.6L217.1,373.7L215.6,375.8L214.1,373.7Z" fill="#333"/>
<path d="M215.6,382.6V384.6" stroke="#333" stroke-width="0.7"/>
<path d="M228.2,322.7V338.6M228.2,352.4V358.3M225.2,322.7H231.2M225.2,358.3H231.2" stroke="#444" stroke-width="0.8" fill="none"/>
<rect x="223.2" y="338.6" width="10.0" height="13.8" fill="#cfe2de" stroke="#3a3a3a" stroke-width="0.8"/>
<path d="M223.2,344.5H233.2" stroke="#3a3a3a" stroke-width="0.9"/>
<path d="M228.2,382.6V384.6" stroke="#333" stroke-width="0.7"/>
<path d="M240.9,320.5V332.5M240.9,352.2V376.3M237.9,320.5H243.9M237.9,376.3H243.9" stroke="#444" stroke-width="0.8" fill="none"/>
<rect x="235.9" y="332.5" width="10.0" height="19.7" fill="#dde9ee" stroke="#3a3a3a" stroke-width="0.8"/>
<path d="M235.9,335.4H245.9" stroke="#3a3a3a" stroke-width="0.9"/>
<path d="M240.9,382.6V384.6" stroke="#333" stroke-width="0.7"/>
<path d="M253.6,329.4V336.4M253.6,351.1V371.0M250.6,329.4H256.6M250.6,371.0H256.6" stroke="#444" stroke-width="0.8" fill="none"/>
<rect x="248.6" y="336.4" width="10.0" height="14.7" fill="#b2d9de" stroke="#3a3a3a" stroke-width="0.8"/>
<path d="M248.6,345.6H258.6" stroke="#3a3a3a" stroke-width="0.9"/>
<path d="M253.6,382.6V384.6" stroke="#333" stroke-width="0.7"/>
<path d="M266.2,316.3V330.5M266.2,342.4V348.1M263.2,316.3H269.2M263.2,348.1H269.2" stroke="#444" stroke-width="0.8" fill="none"/>
<rect x="261.2" y="330.5" width="10.0" height="11.9" fill="#5e9294" stroke="#3a3a3a" stroke-width="0.8"/>
<path d="M261.2,335.4H271.2" stroke="#3a3a3a" stroke-width="0.9"/>
<path d="M266.2,363.3L267.7,365.4L266.2,367.5L264.7,365.4Z" fill="#333"/>
<path d="M266.2,373.1L267.7,375.2L266.2,377.3L264.7,375.2Z" fill="#333"/>
<path d="M266.2,382.6V384.6" stroke="#333" stroke-width="0.7"/>
<text x="177.7" y="391.4" text-anchor="middle" font-size="7" fill="#1a1a1a" textLength="8.6" lengthAdjust="spacingAndGlyphs">CA</text>
<text x="190.3" y="391.4" text-anchor="middle" font-size="7" fill="#1a1a1a" textLength="13.2" lengthAdjust="spacingAndGlyphs">CBM</text>
<text x="203.0" y="391.4" text-anchor="middle" font-size="7" fill="#1a1a1a" textLength="11.0" lengthAdjust="spacingAndGlyphs">CiC</text>
<text x="215.6" y="391.4" text-anchor="middle" font-size="7" fill="#1a1a1a" textLength="10.4" lengthAdjust="spacingAndGlyphs">FrC</text>
<text x="228.2" y="391.4" text-anchor="middle" font-size="7" fill="#1a1a1a" textLength="11.8" lengthAdjust="spacingAndGlyphs">PHp</text>
<text x="240.9" y="391.4" text-anchor="middle" font-size="7" fill="#1a1a1a" textLength="10.8" lengthAdjust="spacingAndGlyphs">PtC</text>
<text x="253.6" y="391.4" text-anchor="middle" font-size="7" fill="#1a1a1a" textLength="8.0" lengthAdjust="spacingAndGlyphs">PU</text>
<text x="266.2" y="391.4" text-anchor="middle" font-size="7" fill="#1a1a1a" textLength="12.4" lengthAdjust="spacingAndGlyphs">TCtx</text>
<text x="296.4" y="274.7" font-size="8.3" fill="#1a1a1a">Plasmalogen PE</text>
<text transform="translate(280.9,329.4) rotate(-90)" text-anchor="middle" font-size="6.2" fill="#2a2a2a" textLength="79.5" lengthAdjust="spacingAndGlyphs">z-scored average abundance</text>
<path d="M294.9,277.3V382.6H397.9" fill="none" stroke="#333" stroke-width="0.9"/>
<path d="M292.9,280.2H294.9" stroke="#333" stroke-width="0.7"/>
<text x="291.7" y="282.3" text-anchor="end" font-size="6" fill="#2a2a2a">3</text>
<path d="M292.9,296.6H294.9" stroke="#333" stroke-width="0.7"/>
<text x="291.7" y="298.7" text-anchor="end" font-size="6" fill="#2a2a2a">2</text>
<path d="M292.9,313.5H294.9" stroke="#333" stroke-width="0.7"/>
<text x="291.7" y="315.6" text-anchor="end" font-size="6" fill="#2a2a2a">1</text>
<path d="M292.9,330.3H294.9" stroke="#333" stroke-width="0.7"/>
<text x="291.7" y="332.4" text-anchor="end" font-size="6" fill="#2a2a2a">0</text>
<path d="M292.9,347.0H294.9" stroke="#333" stroke-width="0.7"/>
<text x="291.7" y="349.1" text-anchor="end" font-size="6" fill="#2a2a2a">−1</text>
<path d="M292.9,363.4H294.9" stroke="#333" stroke-width="0.7"/>
<text x="291.7" y="365.5" text-anchor="end" font-size="6" fill="#2a2a2a">−2</text>
<path d="M292.9,380.2H294.9" stroke="#333" stroke-width="0.7"/>
<text x="291.7" y="382.3" text-anchor="end" font-size="6" fill="#2a2a2a">−3</text>
<path d="M302.7,300.8V319.6M302.7,335.4V342.6M299.7,300.8H305.7M299.7,342.6H305.7" stroke="#444" stroke-width="0.8" fill="none"/>
<rect x="297.7" y="319.6" width="10.0" height="15.8" fill="#c81b22" stroke="#3a3a3a" stroke-width="0.8"/>
<path d="M297.7,329.2H307.7" stroke="#3a3a3a" stroke-width="0.9"/>
<path d="M302.7,382.6V384.6" stroke="#333" stroke-width="0.7"/>
<path d="M315.3,322.7V332.5M315.3,341.3V352.9M312.3,322.7H318.3M312.3,352.9H318.3" stroke="#444" stroke-width="0.8" fill="none"/>
<rect x="310.3" y="332.5" width="10.0" height="8.8" fill="#e8556a" stroke="#3a3a3a" stroke-width="0.8"/>
<path d="M310.3,338.6H320.3" stroke="#3a3a3a" stroke-width="0.9"/>
<path d="M315.3,306.3L316.8,308.4L315.3,310.5L313.8,308.4Z" fill="#333"/>
<path d="M315.3,361.1L316.8,363.2L315.3,365.3L313.8,363.2Z" fill="#333"/>
<path d="M315.3,374.9L316.8,377.0L315.3,379.1L313.8,377.0Z" fill="#333"/>
<path d="M315.3,382.6V384.6" stroke="#333" stroke-width="0.7"/>
<path d="M328.0,319.4V334.3M328.0,345.6V357.2M325.0,319.4H331.0M325.0,357.2H331.0" stroke="#444" stroke-width="0.8" fill="none"/>
<rect x="323.0" y="334.3" width="10.0" height="11.3" fill="#dd8085" stroke="#3a3a3a" stroke-width="0.8"/>
<path d="M323.0,342.4H333.0" stroke="#3a3a3a" stroke-width="0.9"/>
<path d="M328.0,313.1L329.5,315.2L328.0,317.3L326.5,315.2Z" fill="#333"/>
<path d="M328.0,382.6V384.6" stroke="#333" stroke-width="0.7"/>
<path d="M340.6,282.4V300.8M340.6,319.4V346.3M337.6,282.4H343.6M337.6,346.3H343.6" stroke="#444" stroke-width="0.8" fill="none"/>
<rect x="335.6" y="300.8" width="10.0" height="18.6" fill="#ecb2b5" stroke="#3a3a3a" stroke-width="0.8"/>
<path d="M335.6,310.2H345.6" stroke="#3a3a3a" stroke-width="0.9"/>
<path d="M340.6,382.6V384.6" stroke="#333" stroke-width="0.7"/>
<path d="M353.3,318.5V327.0M353.3,335.4V342.6M350.3,318.5H356.3M350.3,342.6H356.3" stroke="#444" stroke-width="0.8" fill="none"/>
<rect x="348.3" y="327.0" width="10.0" height="8.4" fill="#cfe2de" stroke="#3a3a3a" stroke-width="0.8"/>
<path d="M348.3,329.9H358.3" stroke="#3a3a3a" stroke-width="0.9"/>
<path d="M353.3,281.4L354.8,283.5L353.3,285.6L351.8,283.5Z" fill="#333"/>
<path d="M353.3,382.6V384.6" stroke="#333" stroke-width="0.7"/>
<path d="M365.9,311.7V317.4M365.9,342.6V352.2M362.9,311.7H368.9M362.9,352.2H368.9" stroke="#444" stroke-width="0.8" fill="none"/>
<rect x="360.9" y="317.4" width="10.0" height="25.2" fill="#dde9ee" stroke="#3a3a3a" stroke-width="0.8"/>
<path d="M360.9,331.4H370.9" stroke="#3a3a3a" stroke-width="0.9"/>
<path d="M365.9,382.6V384.6" stroke="#333" stroke-width="0.7"/>
<path d="M378.6,319.4V333.8M378.6,351.3V351.3M375.6,319.4H381.6M375.6,351.3H381.6" stroke="#444" stroke-width="0.8" fill="none"/>
<rect x="373.6" y="333.8" width="10.0" height="17.5" fill="#b2d9de" stroke="#3a3a3a" stroke-width="0.8"/>
<path d="M373.6,345.2H383.6" stroke="#3a3a3a" stroke-width="0.9"/>
<path d="M378.6,382.6V384.6" stroke="#333" stroke-width="0.7"/>
<path d="M391.2,308.0V319.6M391.2,329.2V338.6M388.2,308.0H394.2M388.2,338.6H394.2" stroke="#444" stroke-width="0.8" fill="none"/>
<rect x="386.2" y="319.6" width="10.0" height="9.6" fill="#5e9294" stroke="#3a3a3a" stroke-width="0.8"/>
<path d="M386.2,327.0H396.2" stroke="#3a3a3a" stroke-width="0.9"/>
<path d="M391.2,296.7L392.7,298.8L391.2,300.9L389.7,298.8Z" fill="#333"/>
<path d="M391.2,344.2L392.7,346.3L391.2,348.4L389.7,346.3Z" fill="#333"/>
<path d="M391.2,382.6V384.6" stroke="#333" stroke-width="0.7"/>
<text x="302.7" y="391.4" text-anchor="middle" font-size="7" fill="#1a1a1a" textLength="8.6" lengthAdjust="spacingAndGlyphs">CA</text>
<text x="315.3" y="391.4" text-anchor="middle" font-size="7" fill="#1a1a1a" textLength="13.2" lengthAdjust="spacingAndGlyphs">CBM</text>
<text x="328.0" y="391.4" text-anchor="middle" font-size="7" fill="#1a1a1a" textLength="11.0" lengthAdjust="spacingAndGlyphs">CiC</text>
<text x="340.6" y="391.4" text-anchor="middle" font-size="7" fill="#1a1a1a" textLength="10.4" lengthAdjust="spacingAndGlyphs">FrC</text>
<text x="353.3" y="391.4" text-anchor="middle" font-size="7" fill="#1a1a1a" textLength="11.8" lengthAdjust="spacingAndGlyphs">PHp</text>
<text x="365.9" y="391.4" text-anchor="middle" font-size="7" fill="#1a1a1a" textLength="10.8" lengthAdjust="spacingAndGlyphs">PtC</text>
<text x="378.6" y="391.4" text-anchor="middle" font-size="7" fill="#1a1a1a" textLength="8.0" lengthAdjust="spacingAndGlyphs">PU</text>
<text x="391.2" y="391.4" text-anchor="middle" font-size="7" fill="#1a1a1a" textLength="12.4" lengthAdjust="spacingAndGlyphs">TCtx</text>
<rect x="422.5" y="282.1" width="111.7" height="100.5" rx="2" fill="#fff" stroke="#cfcfcf" stroke-width="0.8"/>
<rect x="430" y="289.8" width="9.4" height="9.2" fill="#c81b22"/>
<text x="442.8" y="296.7" font-size="7.3" fill="#333" textLength="53.3" lengthAdjust="spacingAndGlyphs">Caudate (CA)</text>
<rect x="430" y="300.8" width="9.4" height="9.2" fill="#e8556a"/>
<text x="442.8" y="307.6" font-size="7.3" fill="#333" textLength="66.1" lengthAdjust="spacingAndGlyphs">Cerebellum (CBM</text>
<rect x="430" y="311.7" width="9.4" height="9.2" fill="#dd8085"/>
<text x="442.8" y="318.6" font-size="7.3" fill="#333" textLength="84.1" lengthAdjust="spacingAndGlyphs">Cingulate cortex (CiC)</text>
<rect x="430" y="322.6" width="9.4" height="9.2" fill="#ecb2b5"/>
<text x="442.8" y="329.5" font-size="7.3" fill="#333" textLength="70.8" lengthAdjust="spacingAndGlyphs">Frontal cortex (FrC)</text>
<rect x="430" y="333.6" width="9.4" height="9.2" fill="#cfe2de"/>
<text x="442.8" y="340.5" font-size="7.3" fill="#333" textLength="91.8" lengthAdjust="spacingAndGlyphs">Parahippocampus (PHp)</text>
<rect x="430" y="344.6" width="9.4" height="9.2" fill="#b2d9de"/>
<text x="442.8" y="351.4" font-size="7.3" fill="#333" textLength="50.9" lengthAdjust="spacingAndGlyphs">Putamen (PU)</text>
<rect x="430" y="355.5" width="9.4" height="9.2" fill="#dcecec"/>
<text x="442.8" y="362.4" font-size="7.3" fill="#333" textLength="74.3" lengthAdjust="spacingAndGlyphs">Parietal cortex (PtC)</text>
<rect x="430" y="366.4" width="9.4" height="9.2" fill="#5e9294"/>
<text x="442.8" y="373.3" font-size="7.3" fill="#333" textLength="83.6" lengthAdjust="spacingAndGlyphs">Temporal cortex (TCtx)</text>
<rect x="140.5" y="26.5" width="4" height="4" fill="none" stroke="#d8d8d8" stroke-width="0.5"/>
<text x="-0.5" y="12" font-size="15" fill="#222" textLength="21" lengthAdjust="spacingAndGlyphs">(A)</text>
<text x="0" y="390" font-size="15" fill="#222">(B)</text>
<text x="7.8" y="673.2" font-size="16" fill="#222" textLength="23.2" lengthAdjust="spacingAndGlyphs">(C)</text>
<defs>
<clipPath id="hg0"><rect x="47.0" y="431.1" width="614.0" height="78.6" rx="12" ry="12"/></clipPath>
<clipPath id="hg1"><rect x="47.0" y="513.2" width="614.0" height="78.7" rx="12" ry="12"/></clipPath>
<clipPath id="hg2"><rect x="47.0" y="595.4" width="614.0" height="49.7" rx="12" ry="12"/></clipPath>
</defs>
<g clip-path="url(#hg0)">
<rect x="47.00" y="431.1" width="47.63" height="26.6" fill="#d5e0e5"/>
<rect x="94.23" y="431.1" width="47.63" height="26.6" fill="#e6ecef"/>
<rect x="141.46" y="431.1" width="47.63" height="26.6" fill="#98b8c2"/>
<rect x="188.69" y="431.1" width="47.63" height="26.6" fill="#e3e9eb"/>
<rect x="235.92" y="431.1" width="47.63" height="26.6" fill="#ebb3b8"/>
<rect x="283.15" y="431.1" width="47.63" height="26.6" fill="#e57a84"/>
<rect x="330.38" y="431.1" width="47.63" height="26.6" fill="#e04a58"/>
<rect x="377.62" y="431.1" width="47.63" height="26.6" fill="#f2e2e4"/>
<rect x="424.85" y="431.1" width="47.63" height="26.6" fill="#d9e5ea"/>
<rect x="472.08" y="431.1" width="47.63" height="26.6" fill="#f0dde0"/>
<rect x="519.31" y="431.1" width="47.63" height="26.6" fill="#eceff0"/>
<rect x="566.54" y="431.1" width="47.63" height="26.6" fill="#dce6ea"/>
<rect x="613.77" y="431.1" width="47.63" height="26.6" fill="#e6ecee"/>
<rect x="47.00" y="457.4" width="47.63" height="27.0" fill="#7aa3b2"/>
<rect x="94.23" y="457.4" width="47.63" height="27.0" fill="#ecaab0"/>
<rect x="141.46" y="457.4" width="47.63" height="27.0" fill="#ecc0c5"/>
<rect x="188.69" y="457.4" width="47.63" height="27.0" fill="#e9a0a6"/>
<rect x="235.92" y="457.4" width="47.63" height="27.0" fill="#e57178"/>
<rect x="283.15" y="457.4" width="47.63" height="27.0" fill="#e6848c"/>
<rect x="330.38" y="457.4" width="47.63" height="27.0" fill="#f0d8db"/>
<rect x="377.62" y="457.4" width="47.63" height="27.0" fill="#e9a5ab"/>
<rect x="424.85" y="457.4" width="47.63" height="27.0" fill="#e5858d"/>
<rect x="472.08" y="457.4" width="47.63" height="27.0" fill="#e9a1a7"/>
<rect x="519.31" y="457.4" width="47.63" height="27.0" fill="#eec3c8"/>
<rect x="566.54" y="457.4" width="47.63" height="27.0" fill="#ecb7bc"/>
<rect x="613.77" y="457.4" width="47.63" height="27.0" fill="#c3d6dc"/>
<rect x="47.00" y="484.1" width="47.63" height="25.9" fill="#c5d6dc"/>
<rect x="94.23" y="484.1" width="47.63" height="25.9" fill="#dde6ea"/>
<rect x="141.46" y="484.1" width="47.63" height="25.9" fill="#f0d6d9"/>
<rect x="188.69" y="484.1" width="47.63" height="25.9" fill="#c8d9de"/>
<rect x="235.92" y="484.1" width="47.63" height="25.9" fill="#e9a3a8"/>
<rect x="283.15" y="484.1" width="47.63" height="25.9" fill="#e4eaed"/>
<rect x="330.38" y="484.1" width="47.63" height="25.9" fill="#f0d8da"/>
<rect x="377.62" y="484.1" width="47.63" height="25.9" fill="#de4b58"/>
<rect x="424.85" y="484.1" width="47.63" height="25.9" fill="#e05964"/>
<rect x="472.08" y="484.1" width="47.63" height="25.9" fill="#e06670"/>
<rect x="519.31" y="484.1" width="47.63" height="25.9" fill="#dc3a4a"/>
<rect x="566.54" y="484.1" width="47.63" height="25.9" fill="#e57a84"/>
<rect x="613.77" y="484.1" width="47.63" height="25.9" fill="#e77f89"/>
</g>
<g clip-path="url(#hg1)">
<rect x="47.00" y="513.2" width="47.63" height="26.0" fill="#e99aa0"/>
<rect x="94.23" y="513.2" width="47.63" height="26.0" fill="#d5e0e6"/>
<rect x="141.46" y="513.2" width="47.63" height="26.0" fill="#ebb0b5"/>
<rect x="188.69" y="513.2" width="47.63" height="26.0" fill="#dc4855"/>
<rect x="235.92" y="513.2" width="47.63" height="26.0" fill="#9fbcc6"/>
<rect x="283.15" y="513.2" width="47.63" height="26.0" fill="#6897a8"/>
<rect x="330.38" y="513.2" width="47.63" height="26.0" fill="#a8c4cc"/>
<rect x="377.62" y="513.2" width="47.63" height="26.0" fill="#d6e2e6"/>
<rect x="424.85" y="513.2" width="47.63" height="26.0" fill="#d6e2e6"/>
<rect x="472.08" y="513.2" width="47.63" height="26.0" fill="#f0d3d7"/>
<rect x="519.31" y="513.2" width="47.63" height="26.0" fill="#f0e3e5"/>
<rect x="566.54" y="513.2" width="47.63" height="26.0" fill="#e0e8eb"/>
<rect x="613.77" y="513.2" width="47.63" height="26.0" fill="#d5e1e5"/>
<rect x="47.00" y="538.9" width="47.63" height="27.2" fill="#c9d9df"/>
<rect x="94.23" y="538.9" width="47.63" height="27.2" fill="#eaa6ac"/>
<rect x="141.46" y="538.9" width="47.63" height="27.2" fill="#9bbac4"/>
<rect x="188.69" y="538.9" width="47.63" height="27.2" fill="#98b8c2"/>
<rect x="235.92" y="538.9" width="47.63" height="27.2" fill="#7fa7b5"/>
<rect x="283.15" y="538.9" width="47.63" height="27.2" fill="#c5d6dc"/>
<rect x="330.38" y="538.9" width="47.63" height="27.2" fill="#abc5cd"/>
<rect x="377.62" y="538.9" width="47.63" height="27.2" fill="#c0d4da"/>
<rect x="424.85" y="538.9" width="47.63" height="27.2" fill="#e2e9eb"/>
<rect x="472.08" y="538.9" width="47.63" height="27.2" fill="#a4c1ca"/>
<rect x="519.31" y="538.9" width="47.63" height="27.2" fill="#a8c3cc"/>
<rect x="566.54" y="538.9" width="47.63" height="27.2" fill="#6f9eae"/>
<rect x="613.77" y="538.9" width="47.63" height="27.2" fill="#b3cbd2"/>
<rect x="47.00" y="565.8" width="47.63" height="26.4" fill="#f0d8dc"/>
<rect x="94.23" y="565.8" width="47.63" height="26.4" fill="#e06e76"/>
<rect x="141.46" y="565.8" width="47.63" height="26.4" fill="#f2f1f1"/>
<rect x="188.69" y="565.8" width="47.63" height="26.4" fill="#e9edef"/>
<rect x="235.92" y="565.8" width="47.63" height="26.4" fill="#bcd0d7"/>
<rect x="283.15" y="565.8" width="47.63" height="26.4" fill="#d5e1e6"/>
<rect x="330.38" y="565.8" width="47.63" height="26.4" fill="#8fb3bf"/>
<rect x="377.62" y="565.8" width="47.63" height="26.4" fill="#b6cdd4"/>
<rect x="424.85" y="565.8" width="47.63" height="26.4" fill="#9fbdc6"/>
<rect x="472.08" y="565.8" width="47.63" height="26.4" fill="#c0d3da"/>
<rect x="519.31" y="565.8" width="47.63" height="26.4" fill="#c9d9de"/>
<rect x="566.54" y="565.8" width="47.63" height="26.4" fill="#93b5c0"/>
<rect x="613.77" y="565.8" width="47.63" height="26.4" fill="#a9c4cc"/>
</g>
<g clip-path="url(#hg2)">
<rect x="47.00" y="595.4" width="47.63" height="24.8" fill="#e05a64"/>
<rect x="94.23" y="595.4" width="47.63" height="24.8" fill="#75a3b2"/>
<rect x="141.46" y="595.4" width="47.63" height="24.8" fill="#97b8c2"/>
<rect x="188.69" y="595.4" width="47.63" height="24.8" fill="#afc8d0"/>
<rect x="235.92" y="595.4" width="47.63" height="24.8" fill="#f2eded"/>
<rect x="283.15" y="595.4" width="47.63" height="24.8" fill="#e3e9ed"/>
<rect x="330.38" y="595.4" width="47.63" height="24.8" fill="#e9eef0"/>
<rect x="377.62" y="595.4" width="47.63" height="24.8" fill="#a2bfc8"/>
<rect x="424.85" y="595.4" width="47.63" height="24.8" fill="#a2bfc8"/>
<rect x="472.08" y="595.4" width="47.63" height="24.8" fill="#a6c2ca"/>
<rect x="519.31" y="595.4" width="47.63" height="24.8" fill="#afc8cf"/>
<rect x="566.54" y="595.4" width="47.63" height="24.8" fill="#e9a8ae"/>
<rect x="613.77" y="595.4" width="47.63" height="24.8" fill="#df4c5a"/>
<rect x="47.00" y="619.9" width="47.63" height="25.5" fill="#d8e3e8"/>
<rect x="94.23" y="619.9" width="47.63" height="25.5" fill="#9fbcc6"/>
<rect x="141.46" y="619.9" width="47.63" height="25.5" fill="#e06670"/>
<rect x="188.69" y="619.9" width="47.63" height="25.5" fill="#d8e2e8"/>
<rect x="235.92" y="619.9" width="47.63" height="25.5" fill="#e6ecef"/>
<rect x="283.15" y="619.9" width="47.63" height="25.5" fill="#f0d8db"/>
<rect x="330.38" y="619.9" width="47.63" height="25.5" fill="#f0c4c9"/>
<rect x="377.62" y="619.9" width="47.63" height="25.5" fill="#bdd1d8"/>
<rect x="424.85" y="619.9" width="47.63" height="25.5" fill="#e3e9ec"/>
<rect x="472.08" y="619.9" width="47.63" height="25.5" fill="#a9c4cc"/>
<rect x="519.31" y="619.9" width="47.63" height="25.5" fill="#aec7cf"/>
<rect x="566.54" y="619.9" width="47.63" height="25.5" fill="#e5ebee"/>
<rect x="613.77" y="619.9" width="47.63" height="25.5" fill="#d0dee3"/>
</g>
<text x="664" y="446.8" font-size="7" fill="#222">FrC</text>
<text x="664" y="473.2" font-size="7" fill="#222">CA</text>
<text x="664" y="499.4" font-size="7" fill="#222">PHp</text>
<text x="664" y="528.5" font-size="7" fill="#222">CBM</text>
<text x="664" y="554.8" font-size="7" fill="#222">CiC</text>
<text x="664" y="581.3" font-size="7" fill="#222">PU</text>
<text x="664" y="610.1" font-size="7" fill="#222">PtC</text>
<text x="664" y="635.0" font-size="7" fill="#222">TCtx</text>
<text x="70.6" y="656.5" text-anchor="middle" font-size="7" fill="#222">nHexSph</text>
<text x="117.8" y="656.5" text-anchor="middle" font-size="7" fill="#222">GM</text>
<text x="165.1" y="656.5" text-anchor="middle" font-size="7" fill="#222">Cer</text>
<text x="212.3" y="656.5" text-anchor="middle" font-size="7" fill="#222">LPE(P)</text>
<text x="259.5" y="656.5" text-anchor="middle" font-size="7" fill="#222">PC</text>
<text x="306.8" y="656.5" text-anchor="middle" font-size="7" fill="#222">PE</text>
<text x="354.0" y="656.5" text-anchor="middle" font-size="7" fill="#222">PE(P)</text>
<text x="401.2" y="656.5" text-anchor="middle" font-size="7" fill="#222">SM</text>
<text x="448.5" y="656.5" text-anchor="middle" font-size="7" fill="#222">nHexCer</text>
<text x="495.7" y="656.5" text-anchor="middle" font-size="7" fill="#222">NANA</text>
<text x="542.9" y="656.5" text-anchor="middle" font-size="7" fill="#222">LSM</text>
<text x="590.2" y="656.5" text-anchor="middle" font-size="7" fill="#222">LPC</text>
<text x="637.4" y="656.5" text-anchor="middle" font-size="7" fill="#222">LPE</text>
<text x="372.6" y="448.3" font-size="14" fill="#383838" textLength="277.7" lengthAdjust="spacingAndGlyphs">Frontal cortex-Caudate-Parahippocampus</text>
<text x="397" y="530.2" font-size="14" fill="#383838" textLength="253.3" lengthAdjust="spacingAndGlyphs">Cerebellum-Cingulate cortex-Putamen</text>
<text x="446.8" y="611.5" font-size="14" fill="#383838" textLength="203.5" lengthAdjust="spacingAndGlyphs">Parietal cortex-Temporal cortex</text>
<path d="M43.6,443.6H19V484.5H30.5M43.6,470.7H30.5V497.6H43.6M19,463.8H1.4V583.3H11.4M43.6,525.5H15.7V566H37.4M43.6,552.4H37.4V579.8H43.6M15.7,545.2H11.4V621H15.2M43.6,607.1H15.2V634.5H43.6" stroke="#333" stroke-width="0.8" fill="none"/>
<path d="M70.6,428.5V406H210.5V410.1M117.8,428.5V410.1H303.4V413.3M187.7,421.3V413.3H419.3V418.5M165.1,428.5V421.3H212.3V428.5M294.6,424.9V418.5H543.6V418.8M259.5,428.5V424.9H330.2V426M306.8,428.5V426H354.0V428.5M472.5,427.6V418.8H614.7V424.8M401.2,428.5V428H448.5V428.5M425.2,428V427.6H520V428M495.7,428.5V428H542.9V428.5M590.2,428.5V424.8H637.4V428.5" stroke="#333" stroke-width="0.8" fill="none"/>
<defs><linearGradient id="cb" x1="0" y1="0" x2="0" y2="1"><stop offset="0" stop-color="#dd3a4a"/><stop offset="0.5" stop-color="#f2f2f2"/><stop offset="1" stop-color="#5d8fa0"/></linearGradient></defs>
<rect x="0" y="408.1" width="7.3" height="46.8" fill="url(#cb)"/>
<path d="M7.3,410.2H9" stroke="#333" stroke-width="0.5"/>
<text x="9.8" y="411.8" font-size="4.6" fill="#333">2</text>
<path d="M7.3,422.2H9" stroke="#333" stroke-width="0.5"/>
<text x="9.8" y="423.8" font-size="4.6" fill="#333">1</text>
<path d="M7.3,433.8H9" stroke="#333" stroke-width="0.5"/>
<text x="9.8" y="435.4" font-size="4.6" fill="#333">0</text>
<path d="M7.3,446.1H9" stroke="#333" stroke-width="0.5"/>
<text x="9.8" y="447.7" font-size="4.6" fill="#333">−1</text>
<text transform="translate(20.4,408) rotate(90)" font-size="5.4" fill="#333">z-scored average</text>
<path d="M19.5,685V1072.8M27.8,1080.2H685" stroke="#333" stroke-width="0.9" fill="none"/>
<path d="M17.5,746.9H19.5" stroke="#333" stroke-width="0.6"/>
<text x="16.5" y="748.5" text-anchor="end" font-size="4.6" fill="#333">30</text>
<path d="M17.5,810.3H19.5" stroke="#333" stroke-width="0.6"/>
<text x="16.5" y="811.9" text-anchor="end" font-size="4.6" fill="#333">20</text>
<path d="M17.5,873.7H19.5" stroke="#333" stroke-width="0.6"/>
<text x="16.5" y="875.3" text-anchor="end" font-size="4.6" fill="#333">10</text>
<path d="M17.5,937.1H19.5" stroke="#333" stroke-width="0.6"/>
<text x="16.5" y="938.7" text-anchor="end" font-size="4.6" fill="#333">0</text>
<path d="M17.5,1000.4H19.5" stroke="#333" stroke-width="0.6"/>
<text x="16.5" y="1002.0" text-anchor="end" font-size="4.6" fill="#333">−10</text>
<path d="M17.5,1063.8H19.5" stroke="#333" stroke-width="0.6"/>
<text x="16.5" y="1065.4" text-anchor="end" font-size="4.6" fill="#333">−20</text>
<path d="M125.9,1080.2V1082.2" stroke="#333" stroke-width="0.6"/>
<text x="125.9" y="1087.5" text-anchor="middle" font-size="4.6" fill="#333">−10</text>
<path d="M264.9,1080.2V1082.2" stroke="#333" stroke-width="0.6"/>
<text x="264.9" y="1087.5" text-anchor="middle" font-size="4.6" fill="#333">0</text>
<path d="M403.9,1080.2V1082.2" stroke="#333" stroke-width="0.6"/>
<text x="403.9" y="1087.5" text-anchor="middle" font-size="4.6" fill="#333">10</text>
<path d="M542.9,1080.2V1082.2" stroke="#333" stroke-width="0.6"/>
<text x="542.9" y="1087.5" text-anchor="middle" font-size="4.6" fill="#333">20</text>
<text x="340" y="1093" text-anchor="middle" font-size="4.6" fill="#333">UMAP_1</text>
<text transform="translate(7,870) rotate(-90)" text-anchor="middle" font-size="4.6" fill="#333">UMAP_2</text>
<polygon points="265.7,705.3 281.1,705.3 273.4,719.0" fill="#b87888" stroke="#fff" stroke-width="0.6"/>
<polygon points="279.0,701.3 294.4,701.3 286.7,715.0" fill="#b87888" stroke="#fff" stroke-width="0.6"/>
<polygon points="276.9,718.8 292.3,718.8 284.6,732.5" fill="#b87888" stroke="#fff" stroke-width="0.6"/>
<polygon points="296.3,707.3 311.7,707.3 304.0,721.0" fill="#b87888" stroke="#fff" stroke-width="0.6"/>
<polygon points="301.5,719.8 316.9,719.8 309.2,733.5" fill="#b87888" stroke="#fff" stroke-width="0.6"/>
<polygon points="307.6,702.3 323.0,702.3 315.3,716.0" fill="#b87888" stroke="#fff" stroke-width="0.6"/>
<polygon points="312.7,720.9 328.1,720.9 320.4,734.6" fill="#b87888" stroke="#fff" stroke-width="0.6"/>
<polygon points="321.9,701.3 337.3,701.3 329.6,715.0" fill="#b87888" stroke="#fff" stroke-width="0.6"/>
<polygon points="327.0,719.8 342.4,719.8 334.7,733.5" fill="#b87888" stroke="#fff" stroke-width="0.6"/>
<polygon points="335.2,710.3 350.6,710.3 342.9,724.0" fill="#b87888" stroke="#fff" stroke-width="0.6"/>
<polygon points="339.3,727.0 354.7,727.0 347.0,740.7" fill="#b87888" stroke="#fff" stroke-width="0.6"/>
<polygon points="345.4,732.1 360.8,732.1 353.1,745.8" fill="#b87888" stroke="#fff" stroke-width="0.6"/>
<polygon points="355.6,720.9 371.0,720.9 363.3,734.6" fill="#b87888" stroke="#fff" stroke-width="0.6"/>
<polygon points="359.7,734.2 375.1,734.2 367.4,747.9" fill="#b87888" stroke="#fff" stroke-width="0.6"/>
<polygon points="365.8,711.7 381.2,711.7 373.5,725.4" fill="#b87888" stroke="#fff" stroke-width="0.6"/>
<polygon points="374.0,716.8 389.4,716.8 381.7,730.5" fill="#b87888" stroke="#fff" stroke-width="0.6"/>
<polygon points="288.3,711.3 303.7,711.3 296.0,725.0" fill="#b87888" stroke="#fff" stroke-width="0.6"/>
<polygon points="348.3,707.3 363.7,707.3 356.0,721.0" fill="#b87888" stroke="#fff" stroke-width="0.6"/>
<polygon points="473.8,761.6 466.1,766.1 458.4,761.6 458.4,752.8 466.1,748.4 473.8,752.8" fill="#b98bc0" stroke="#fff" stroke-width="0.6"/>
<polygon points="483.7,754.2 476.0,758.6 468.3,754.2 468.3,745.4 476.0,740.9 483.7,745.4" fill="#b98bc0" stroke="#fff" stroke-width="0.6"/>
<polygon points="490.0,767.8 482.3,772.2 474.6,767.8 474.6,759.0 482.3,754.5 490.0,759.0" fill="#b98bc0" stroke="#fff" stroke-width="0.6"/>
<polygon points="498.7,756.7 491.0,761.1 483.3,756.7 483.3,747.9 491.0,743.4 498.7,747.9" fill="#b98bc0" stroke="#fff" stroke-width="0.6"/>
<polygon points="507.3,765.4 499.6,769.9 491.9,765.4 491.9,756.6 499.6,752.1 507.3,756.6" fill="#b98bc0" stroke="#fff" stroke-width="0.6"/>
<polygon points="471.3,770.3 463.6,774.8 455.9,770.3 455.9,761.5 463.6,757.0 471.3,761.5" fill="#b98bc0" stroke="#fff" stroke-width="0.6"/>
<polygon points="518.2,727.4 520.1,731.7 524.7,731.1 522.0,734.9 524.7,738.6 520.1,738.1 518.2,742.4 516.3,738.1 511.7,738.6 514.5,734.9 511.7,731.1 516.3,731.7" fill="#b98bc0" stroke="#fff" stroke-width="0.6"/>
<polygon points="529.4,733.6 531.3,737.9 535.9,737.4 533.1,741.1 535.9,744.9 531.3,744.3 529.4,748.6 527.5,744.3 522.9,744.9 525.6,741.1 522.9,737.4 527.5,737.9" fill="#b98bc0" stroke="#fff" stroke-width="0.6"/>
<polygon points="538.1,741.0 540.0,745.3 544.6,744.8 541.9,748.5 544.6,752.2 540.0,751.7 538.1,756.0 536.2,751.7 531.6,752.2 534.4,748.5 531.6,744.8 536.2,745.3" fill="#b98bc0" stroke="#fff" stroke-width="0.6"/>
<polygon points="546.8,731.1 548.7,735.4 553.3,734.9 550.5,738.6 553.3,742.4 548.7,741.8 546.8,746.1 544.9,741.8 540.3,742.4 543.0,738.6 540.3,734.9 544.9,735.4" fill="#b98bc0" stroke="#fff" stroke-width="0.6"/>
<polygon points="551.7,737.3 553.6,741.6 558.2,741.0 555.5,744.8 558.2,748.5 553.6,748.0 551.7,752.3 549.8,748.0 545.2,748.5 548.0,744.8 545.2,741.0 549.8,741.6" fill="#b98bc0" stroke="#fff" stroke-width="0.6"/>
<polygon points="523.2,746.0 525.1,750.3 529.7,749.8 527.0,753.5 529.7,757.2 525.1,756.7 523.2,761.0 521.3,756.7 516.7,757.2 519.5,753.5 516.7,749.8 521.3,750.3" fill="#b98bc0" stroke="#fff" stroke-width="0.6"/>
<polygon points="534.4,748.5 536.3,752.8 540.9,752.2 538.1,756.0 540.9,759.8 536.3,759.2 534.4,763.5 532.5,759.2 527.9,759.8 530.6,756.0 527.9,752.2 532.5,752.8" fill="#b98bc0" stroke="#fff" stroke-width="0.6"/>
<polygon points="543.0,751.0 544.9,755.3 549.5,754.8 546.8,758.5 549.5,762.2 544.9,761.7 543.0,766.0 541.1,761.7 536.5,762.2 539.2,758.5 536.5,754.8 541.1,755.3" fill="#b98bc0" stroke="#fff" stroke-width="0.6"/>
<polygon points="512.0,747.2 513.9,751.5 518.5,751.0 515.8,754.7 518.5,758.5 513.9,757.9 512.0,762.2 510.1,757.9 505.5,758.5 508.2,754.7 505.5,751.0 510.1,751.5" fill="#b98bc0" stroke="#fff" stroke-width="0.6"/>
<polygon points="524.4,738.5 526.3,742.8 530.9,742.2 528.1,746.0 530.9,749.8 526.3,749.2 524.4,753.5 522.5,749.2 517.9,749.8 520.6,746.0 517.9,742.2 522.5,742.8" fill="#b98bc0" stroke="#fff" stroke-width="0.6"/>
<polygon points="500.0,816.6 502.3,821.9 508.1,821.3 504.7,826.0 508.1,830.7 502.3,830.1 500.0,835.4 497.7,830.1 491.9,830.7 495.3,826.0 491.9,821.3 497.7,821.9" fill="#a8745a" stroke="#fff" stroke-width="0.6"/>
<polygon points="510.0,820.6 512.3,825.9 518.1,825.3 514.7,830.0 518.1,834.7 512.3,834.1 510.0,839.4 507.7,834.1 501.9,834.7 505.3,830.0 501.9,825.3 507.7,825.9" fill="#a8745a" stroke="#fff" stroke-width="0.6"/>
<polygon points="497.0,826.6 499.3,831.9 505.1,831.3 501.7,836.0 505.1,840.7 499.3,840.1 497.0,845.4 494.7,840.1 488.9,840.7 492.3,836.0 488.9,831.3 494.7,831.9" fill="#a8745a" stroke="#fff" stroke-width="0.6"/>
<polygon points="498.2,872.7 490.0,877.4 481.8,872.7 481.8,863.3 490.0,858.6 498.2,863.3" fill="#a8745a" stroke="#fff" stroke-width="0.6"/>
<polygon points="511.2,866.7 503.0,871.4 494.8,866.7 494.8,857.3 503.0,852.6 511.2,857.3" fill="#a8745a" stroke="#fff" stroke-width="0.6"/>
<polygon points="525.2,874.7 517.0,879.4 508.8,874.7 508.8,865.3 517.0,860.6 525.2,865.3" fill="#a8745a" stroke="#fff" stroke-width="0.6"/>
<polygon points="539.2,868.7 531.0,873.4 522.8,868.7 522.8,859.3 531.0,854.6 539.2,859.3" fill="#a8745a" stroke="#fff" stroke-width="0.6"/>
<polygon points="553.2,875.7 545.0,880.4 536.8,875.7 536.8,866.3 545.0,861.6 553.2,866.3" fill="#a8745a" stroke="#fff" stroke-width="0.6"/>
<polygon points="566.2,870.7 558.0,875.4 549.8,870.7 549.8,861.3 558.0,856.6 566.2,861.3" fill="#a8745a" stroke="#fff" stroke-width="0.6"/>
<polygon points="505.2,884.7 497.0,889.4 488.8,884.7 488.8,875.3 497.0,870.6 505.2,875.3" fill="#a8745a" stroke="#fff" stroke-width="0.6"/>
<polygon points="520.2,886.7 512.0,891.4 503.8,886.7 503.8,877.3 512.0,872.6 520.2,877.3" fill="#a8745a" stroke="#fff" stroke-width="0.6"/>
<polygon points="535.2,884.7 527.0,889.4 518.8,884.7 518.8,875.3 527.0,870.6 535.2,875.3" fill="#a8745a" stroke="#fff" stroke-width="0.6"/>
<polygon points="550.2,887.7 542.0,892.4 533.8,887.7 533.8,878.3 542.0,873.6 550.2,878.3" fill="#a8745a" stroke="#fff" stroke-width="0.6"/>
<polygon points="563.2,884.7 555.0,889.4 546.8,884.7 546.8,875.3 555.0,870.6 563.2,875.3" fill="#a8745a" stroke="#fff" stroke-width="0.6"/>
<circle cx="555.0" cy="848.0" r="10.1" fill="#a8745a" stroke="#fff" stroke-width="0.6"/>
<circle cx="570.0" cy="855.0" r="10.1" fill="#a8745a" stroke="#fff" stroke-width="0.6"/>
<circle cx="580.0" cy="843.0" r="10.1" fill="#a8745a" stroke="#fff" stroke-width="0.6"/>
<circle cx="595.0" cy="850.0" r="10.1" fill="#a8745a" stroke="#fff" stroke-width="0.6"/>
<circle cx="607.0" cy="836.0" r="10.1" fill="#a8745a" stroke="#fff" stroke-width="0.6"/>
<circle cx="612.0" cy="853.0" r="10.1" fill="#a8745a" stroke="#fff" stroke-width="0.6"/>
<circle cx="625.0" cy="843.0" r="10.1" fill="#a8745a" stroke="#fff" stroke-width="0.6"/>
<circle cx="638.0" cy="848.0" r="10.1" fill="#a8745a" stroke="#fff" stroke-width="0.6"/>
<circle cx="565.0" cy="865.0" r="10.1" fill="#a8745a" stroke="#fff" stroke-width="0.6"/>
<circle cx="590.0" cy="862.0" r="10.1" fill="#a8745a" stroke="#fff" stroke-width="0.6"/>
<circle cx="474.9" cy="920.9" r="10.1" fill="#7a7a3c" stroke="#fff" stroke-width="0.6"/>
<circle cx="489.3" cy="918.5" r="10.1" fill="#7a7a3c" stroke="#fff" stroke-width="0.6"/>
<polygon points="480.5,922.1 488.9,930.5 480.5,938.9 472.1,930.5" fill="#7a7a3c" stroke="#fff" stroke-width="0.6"/>
<polygon points="504.8,934.4 496.6,939.1 488.4,934.4 488.4,925.0 496.6,920.3 504.8,925.0" fill="#7a7a3c" stroke="#fff" stroke-width="0.6"/>
<polygon points="504.8,948.1 496.6,952.8 488.4,948.1 488.4,938.7 496.6,934.0 504.8,938.7" fill="#7a7a3c" stroke="#fff" stroke-width="0.6"/>
<polygon points="498.2,949.0 500.4,954.0 505.8,953.4 502.6,957.8 505.8,962.2 500.4,961.6 498.2,966.5 496.0,961.6 490.6,962.2 493.8,957.8 490.6,953.4 496.0,954.0" fill="#7a7a3c" stroke="#fff" stroke-width="0.6"/>
<polygon points="511.0,945.9 513.2,950.8 518.6,950.2 515.4,954.6 518.6,959.0 513.2,958.4 511.0,963.4 508.8,958.4 503.4,959.0 506.6,954.6 503.4,950.2 508.8,950.8" fill="#7a7a3c" stroke="#fff" stroke-width="0.6"/>
<polygon points="491.8,944.2 494.0,949.2 499.4,948.6 496.2,953.0 499.4,957.4 494.0,956.8 491.8,961.8 489.6,956.8 484.2,957.4 487.4,953.0 484.2,948.6 489.6,949.2" fill="#7a7a3c" stroke="#fff" stroke-width="0.6"/>
<polygon points="280.2,1029.7 272.0,1034.4 263.8,1029.7 263.8,1020.3 272.0,1015.6 280.2,1020.3" fill="#4a7a42" stroke="#fff" stroke-width="0.6"/>
<polygon points="294.8,1025.2 286.6,1029.9 278.4,1025.2 278.4,1015.8 286.6,1011.1 294.8,1015.8" fill="#4a7a42" stroke="#fff" stroke-width="0.6"/>
<polygon points="310.8,1023.6 302.6,1028.3 294.4,1023.6 294.4,1014.2 302.6,1009.5 310.8,1014.2" fill="#4a7a42" stroke="#fff" stroke-width="0.6"/>
<polygon points="275.5,1042.9 267.3,1047.6 259.1,1042.9 259.1,1033.5 267.3,1028.8 275.5,1033.5" fill="#4a7a42" stroke="#fff" stroke-width="0.6"/>
<polygon points="293.2,1041.3 285.0,1046.0 276.8,1041.3 276.8,1031.9 285.0,1027.2 293.2,1031.9" fill="#4a7a42" stroke="#fff" stroke-width="0.6"/>
<polygon points="310.8,1039.7 302.6,1044.4 294.4,1039.7 294.4,1030.3 302.6,1025.6 310.8,1030.3" fill="#4a7a42" stroke="#fff" stroke-width="0.6"/>
<polygon points="325.2,1034.7 317.0,1039.4 308.8,1034.7 308.8,1025.3 317.0,1020.6 325.2,1025.3" fill="#4a7a42" stroke="#fff" stroke-width="0.6"/>
<polygon points="323.7,1052.5 315.5,1057.2 307.3,1052.5 307.3,1043.1 315.5,1038.4 323.7,1043.1" fill="#4a7a42" stroke="#fff" stroke-width="0.6"/>
<polygon points="341.2,1046.1 333.0,1050.8 324.8,1046.1 324.8,1036.7 333.0,1032.0 341.2,1036.7" fill="#4a7a42" stroke="#fff" stroke-width="0.6"/>
<polygon points="354.2,1031.7 346.0,1036.4 337.8,1031.7 337.8,1022.3 346.0,1017.6 354.2,1022.3" fill="#4a7a42" stroke="#fff" stroke-width="0.6"/>
<polygon points="367.0,1036.4 358.8,1041.1 350.6,1036.4 350.6,1027.0 358.8,1022.3 367.0,1027.0" fill="#4a7a42" stroke="#fff" stroke-width="0.6"/>
<polygon points="359.0,1050.9 350.8,1055.6 342.6,1050.9 342.6,1041.5 350.8,1036.8 359.0,1041.5" fill="#4a7a42" stroke="#fff" stroke-width="0.6"/>
<polygon points="373.4,1047.7 365.2,1052.4 357.0,1047.7 357.0,1038.3 365.2,1033.6 373.4,1038.3" fill="#4a7a42" stroke="#fff" stroke-width="0.6"/>
<polygon points="386.2,1031.7 378.0,1036.4 369.8,1031.7 369.8,1022.3 378.0,1017.6 386.2,1022.3" fill="#4a7a42" stroke="#fff" stroke-width="0.6"/>
<polygon points="397.5,1036.4 389.3,1041.1 381.1,1036.4 381.1,1027.0 389.3,1022.3 397.5,1027.0" fill="#4a7a42" stroke="#fff" stroke-width="0.6"/>
<polygon points="383.2,1052.5 375.0,1057.2 366.8,1052.5 366.8,1043.1 375.0,1038.4 383.2,1043.1" fill="#4a7a42" stroke="#fff" stroke-width="0.6"/>
<polygon points="434.5,1039.7 426.3,1044.4 418.1,1039.7 418.1,1030.3 426.3,1025.6 434.5,1030.3" fill="#4a7a42" stroke="#fff" stroke-width="0.6"/>
<polygon points="452.2,1042.9 444.0,1047.6 435.8,1042.9 435.8,1033.5 444.0,1028.8 452.2,1033.5" fill="#4a7a42" stroke="#fff" stroke-width="0.6"/>
<polygon points="466.2,1041.3 458.0,1046.0 449.8,1041.3 449.8,1031.9 458.0,1027.2 466.2,1031.9" fill="#4a7a42" stroke="#fff" stroke-width="0.6"/>
<polygon points="338.2,1028.7 330.0,1033.4 321.8,1028.7 321.8,1019.3 330.0,1014.6 338.2,1019.3" fill="#4a7a42" stroke="#fff" stroke-width="0.6"/>
<polygon points="357.6,1059.6 372.8,1059.6 365.2,1046.2" fill="#4a7a42" stroke="#fff" stroke-width="0.6"/>
<polygon points="465.5,1026.8 467.4,1031.1 472.2,1030.6 469.4,1034.5 472.2,1038.4 467.4,1037.9 465.5,1042.2 463.6,1037.9 458.8,1038.4 461.6,1034.5 458.8,1030.6 463.6,1031.1" fill="#4a7a42" stroke="#fff" stroke-width="0.6"/>
<polygon points="477.8,1038.0 479.7,1042.4 484.5,1041.9 481.7,1045.8 484.5,1049.7 479.7,1049.2 477.8,1053.5 475.9,1049.2 471.1,1049.7 473.9,1045.8 471.1,1041.9 475.9,1042.4" fill="#4a7a42" stroke="#fff" stroke-width="0.6"/>
<polygon points="484.0,1025.8 485.9,1030.1 490.7,1029.6 487.9,1033.5 490.7,1037.4 485.9,1036.9 484.0,1041.2 482.1,1036.9 477.3,1037.4 480.1,1033.5 477.3,1029.6 482.1,1030.1" fill="#4a7a42" stroke="#fff" stroke-width="0.6"/>
<polygon points="490.0,1044.2 491.9,1048.5 496.7,1048.0 493.9,1051.9 496.7,1055.8 491.9,1055.3 490.0,1059.7 488.1,1055.3 483.3,1055.8 486.1,1051.9 483.3,1048.0 488.1,1048.5" fill="#4a7a42" stroke="#fff" stroke-width="0.6"/>
<polygon points="497.2,1052.2 499.1,1056.6 503.9,1056.1 501.1,1060.0 503.9,1063.9 499.1,1063.4 497.2,1067.8 495.3,1063.4 490.5,1063.9 493.3,1060.0 490.5,1056.1 495.3,1056.6" fill="#4a7a42" stroke="#fff" stroke-width="0.6"/>
<polygon points="502.3,1026.8 504.2,1031.1 509.0,1030.6 506.2,1034.5 509.0,1038.4 504.2,1037.9 502.3,1042.2 500.4,1037.9 495.6,1038.4 498.4,1034.5 495.6,1030.6 500.4,1031.1" fill="#4a7a42" stroke="#fff" stroke-width="0.6"/>
<polygon points="509.5,1036.0 511.4,1040.3 516.2,1039.8 513.4,1043.7 516.2,1047.6 511.4,1047.1 509.5,1051.5 507.6,1047.1 502.8,1047.6 505.6,1043.7 502.8,1039.8 507.6,1040.3" fill="#4a7a42" stroke="#fff" stroke-width="0.6"/>
<polygon points="511.5,1048.2 513.4,1052.6 518.2,1052.1 515.4,1056.0 518.2,1059.9 513.4,1059.4 511.5,1063.8 509.6,1059.4 504.8,1059.9 507.6,1056.0 504.8,1052.1 509.6,1052.6" fill="#4a7a42" stroke="#fff" stroke-width="0.6"/>
<polygon points="522.8,1040.0 524.7,1044.4 529.5,1043.9 526.7,1047.8 529.5,1051.7 524.7,1051.2 522.8,1055.5 520.9,1051.2 516.1,1051.7 518.9,1047.8 516.1,1043.9 520.9,1044.4" fill="#4a7a42" stroke="#fff" stroke-width="0.6"/>
<polygon points="535.0,1043.2 536.9,1047.5 541.7,1047.0 538.9,1050.9 541.7,1054.8 536.9,1054.3 535.0,1058.7 533.1,1054.3 528.3,1054.8 531.1,1050.9 528.3,1047.0 533.1,1047.5" fill="#4a7a42" stroke="#fff" stroke-width="0.6"/>
<polygon points="491.0,1033.0 492.9,1037.3 497.7,1036.8 494.9,1040.7 497.7,1044.6 492.9,1044.1 491.0,1048.5 489.1,1044.1 484.3,1044.6 487.1,1040.7 484.3,1036.8 489.1,1037.3" fill="#4a7a42" stroke="#fff" stroke-width="0.6"/>
<polygon points="517.7,1046.2 519.6,1050.6 524.4,1050.1 521.6,1054.0 524.4,1057.9 519.6,1057.4 517.7,1061.8 515.8,1057.4 511.0,1057.9 513.8,1054.0 511.0,1050.1 515.8,1050.6" fill="#4a7a42" stroke="#fff" stroke-width="0.6"/>
<polygon points="40.2,942.7 32.0,947.4 23.8,942.7 23.8,933.3 32.0,928.6 40.2,933.3" fill="#2c5e46" stroke="#fff" stroke-width="0.6"/>
<polygon points="58.2,939.7 50.0,944.4 41.8,939.7 41.8,930.3 50.0,925.6 58.2,930.3" fill="#2c5e46" stroke="#fff" stroke-width="0.6"/>
<polygon points="44.2,956.7 36.0,961.4 27.8,956.7 27.8,947.3 36.0,942.6 44.2,947.3" fill="#2c5e46" stroke="#fff" stroke-width="0.6"/>
<polygon points="62.2,952.7 54.0,957.4 45.8,952.7 45.8,943.3 54.0,938.6 62.2,943.3" fill="#2c5e46" stroke="#fff" stroke-width="0.6"/>
<polygon points="50.2,949.7 42.0,954.4 33.8,949.7 33.8,940.3 42.0,935.6 50.2,940.3" fill="#2c5e46" stroke="#fff" stroke-width="0.6"/>
<path d="M91.9,923.6L95.0,920.5L98.1,923.6L101.2,920.5L104.3,923.6L101.2,926.7L104.3,929.8L101.2,932.9L98.1,929.8L95.0,932.9L91.9,929.8L95.0,926.7Z" fill="#2c5e46" stroke="#fff" stroke-width="0.6"/>
<path d="M99.8,922.9L102.9,919.8L106.0,922.9L109.1,919.8L112.2,922.9L109.1,926.0L112.2,929.1L109.1,932.2L106.0,929.1L102.9,932.2L99.8,929.1L102.9,926.0Z" fill="#2c5e46" stroke="#fff" stroke-width="0.6"/>
<path d="M106.4,921.6L109.5,918.5L112.6,921.6L115.7,918.5L118.8,921.6L115.7,924.7L118.8,927.8L115.7,930.9L112.6,927.8L109.5,930.9L106.4,927.8L109.5,924.7Z" fill="#2c5e46" stroke="#fff" stroke-width="0.6"/>
<path d="M116.9,913.7L120.0,910.6L123.1,913.7L126.2,910.6L129.3,913.7L126.2,916.8L129.3,919.9L126.2,923.0L123.1,919.9L120.0,923.0L116.9,919.9L120.0,916.8Z" fill="#2c5e46" stroke="#fff" stroke-width="0.6"/>
<path d="M113.0,921.6L116.1,918.5L119.2,921.6L122.3,918.5L125.4,921.6L122.3,924.7L125.4,927.8L122.3,930.9L119.2,927.8L116.1,930.9L113.0,927.8L116.1,924.7Z" fill="#2c5e46" stroke="#fff" stroke-width="0.6"/>
<path d="M107.7,928.2L110.8,925.1L113.9,928.2L117.0,925.1L120.1,928.2L117.0,931.3L120.1,934.4L117.0,937.5L113.9,934.4L110.8,937.5L107.7,934.4L110.8,931.3Z" fill="#2c5e46" stroke="#fff" stroke-width="0.6"/>
<path d="M118.2,929.5L121.3,926.4L124.4,929.5L127.5,926.4L130.6,929.5L127.5,932.6L130.6,935.7L127.5,938.8L124.4,935.7L121.3,938.8L118.2,935.7L121.3,932.6Z" fill="#2c5e46" stroke="#fff" stroke-width="0.6"/>
<path d="M128.7,932.1L131.8,929.0L134.9,932.1L138.0,929.0L141.1,932.1L138.0,935.2L141.1,938.3L138.0,941.4L134.9,938.3L131.8,941.4L128.7,938.3L131.8,935.2Z" fill="#2c5e46" stroke="#fff" stroke-width="0.6"/>
<path d="M130.7,940.0L133.8,936.9L136.9,940.0L140.0,936.9L143.1,940.0L140.0,943.1L143.1,946.2L140.0,949.3L136.9,946.2L133.8,949.3L130.7,946.2L133.8,943.1Z" fill="#2c5e46" stroke="#fff" stroke-width="0.6"/>
<polygon points="130.0,904.8 137.2,912.0 130.0,919.2 122.8,912.0" fill="#2c5e46" stroke="#fff" stroke-width="0.6"/>
<rect x="134.6" y="911.2" width="11.2" height="11.2" fill="#2c5e46" stroke="#fff" stroke-width="0.6"/>
<rect x="146.4" y="921.1" width="11.2" height="11.2" fill="#2c5e46" stroke="#fff" stroke-width="0.6"/>
<rect x="147.7" y="934.9" width="11.2" height="11.2" fill="#2c5e46" stroke="#fff" stroke-width="0.6"/>
<polygon points="98.1,934.3 100.0,938.6 104.6,938.0 101.8,941.8 104.6,945.5 100.0,945.0 98.1,949.3 96.2,945.0 91.6,945.5 94.3,941.8 91.6,938.0 96.2,938.6" fill="#2c5e46" stroke="#fff" stroke-width="0.6"/>
<polygon points="112.6,937.6 114.5,941.9 119.1,941.4 116.3,945.1 119.1,948.9 114.5,948.3 112.6,952.6 110.7,948.3 106.1,948.9 108.8,945.1 106.1,941.4 110.7,941.9" fill="#2c5e46" stroke="#fff" stroke-width="0.6"/>
<polygon points="161.2,914.6 163.1,918.9 167.7,918.4 164.9,922.1 167.7,925.9 163.1,925.3 161.2,929.6 159.3,925.3 154.7,925.9 157.4,922.1 154.7,918.4 159.3,918.9" fill="#2c5e46" stroke="#fff" stroke-width="0.6"/>
<polygon points="168.0,922.5 169.9,926.8 174.5,926.2 171.8,930.0 174.5,933.8 169.9,933.2 168.0,937.5 166.1,933.2 161.5,933.8 164.2,930.0 161.5,926.2 166.1,926.8" fill="#2c5e46" stroke="#fff" stroke-width="0.6"/>
<path d="M163.1,932.8H167.5V937.8H172.5V942.2H167.5V947.2H163.1V942.2H158.1V937.8H163.1Z" fill="#2c5e46" stroke="#fff" stroke-width="0.6"/>
<polygon points="145.0,922.8 152.2,930.0 145.0,937.2 137.8,930.0" fill="#2c5e46" stroke="#fff" stroke-width="0.6"/>
<polygon points="128.0,914.8 135.2,922.0 128.0,929.2 120.8,922.0" fill="#2c5e46" stroke="#fff" stroke-width="0.6"/>
<path d="M83.8,930.9L86.9,927.8L90.0,930.9L93.1,927.8L96.2,930.9L93.1,934.0L96.2,937.1L93.1,940.2L90.0,937.1L86.9,940.2L83.8,937.1L86.9,934.0Z" fill="#2c5e46" stroke="#fff" stroke-width="0.6"/>
<polygon points="155.9,952.9 147.7,957.6 139.5,952.9 139.5,943.5 147.7,938.8 155.9,943.5" fill="#2c5e46" stroke="#fff" stroke-width="0.6"/>
<polygon points="165.2,961.1 157.0,965.8 148.8,961.1 148.8,951.7 157.0,947.0 165.2,951.7" fill="#2c5e46" stroke="#fff" stroke-width="0.6"/>
<polygon points="158.2,966.9 150.0,971.6 141.8,966.9 141.8,957.5 150.0,952.8 158.2,957.5" fill="#2c5e46" stroke="#fff" stroke-width="0.6"/>
<polygon points="167.0,962.2 182.2,962.2 174.6,948.8" fill="#2c5e46" stroke="#fff" stroke-width="0.6"/>
<polygon points="178.7,970.3 193.9,970.3 186.3,956.9" fill="#2c5e46" stroke="#fff" stroke-width="0.6"/>
<circle cx="131.4" cy="972.7" r="10.1" fill="#2c5e46" stroke="#fff" stroke-width="0.6"/>
<circle cx="126.7" cy="979.7" r="10.1" fill="#2c5e46" stroke="#fff" stroke-width="0.6"/>
<circle cx="143.0" cy="977.4" r="10.1" fill="#2c5e46" stroke="#fff" stroke-width="0.6"/>
<circle cx="138.4" cy="982.1" r="10.1" fill="#2c5e46" stroke="#fff" stroke-width="0.6"/>
<circle cx="150.0" cy="970.0" r="10.1" fill="#2c5e46" stroke="#fff" stroke-width="0.6"/>
<circle cx="202.6" cy="975.0" r="10.1" fill="#2c5e46" stroke="#fff" stroke-width="0.6"/>
<circle cx="213.2" cy="972.7" r="10.1" fill="#2c5e46" stroke="#fff" stroke-width="0.6"/>
<circle cx="209.6" cy="979.8" r="10.1" fill="#2c5e46" stroke="#fff" stroke-width="0.6"/>
<circle cx="220.2" cy="979.8" r="10.1" fill="#2c5e46" stroke="#fff" stroke-width="0.6"/>
<defs><clipPath id="pc"><rect x="27.8" y="685" width="657.2" height="387.79999999999995"/></clipPath></defs>
<g clip-path="url(#pc)" fill="none" stroke="#3c3c3c" stroke-width="0.55">
<path d="M531.5,1159.1L527.5,1159.5L523.5,1159.9L519.5,1160.2L515.5,1160.4L511.5,1160.6L507.5,1160.7L503.5,1160.7L499.5,1160.7L495.5,1160.6L491.5,1160.5L487.5,1160.3L483.5,1160.1L479.5,1159.8L475.5,1159.5L471.5,1159.1L469.5,1158.9L465.5,1158.5L461.5,1158.0L457.5,1157.5L453.9,1157.0L451.5,1156.7L447.5,1156.2L443.5,1155.7L439.5,1155.1L437.5,1154.9L433.5,1154.5L429.5,1154.1L425.5,1153.7L421.5,1153.4L417.5,1153.1L414.2,1153.0L411.5,1152.9L407.5,1152.9L403.5,1152.9L399.5,1152.9L396.7,1153.0L393.5,1153.1L389.5,1153.2L385.5,1153.4L381.5,1153.5L377.5,1153.7L373.5,1153.8L369.5,1153.9L365.5,1154.0L361.5,1154.0L357.5,1154.0L353.5,1154.0L349.5,1153.9L345.5,1153.8L341.5,1153.7L337.5,1153.5L333.5,1153.2L330.3,1153.0L327.5,1152.8L323.5,1152.5L319.5,1152.2L315.5,1151.8L311.5,1151.3L308.9,1151.0L305.5,1150.6L301.5,1150.1L297.5,1149.6L293.8,1149.0L291.5,1148.7L287.5,1148.1L283.5,1147.4L281.3,1147.0L277.5,1146.4L273.5,1145.6L270.4,1145.0L267.5,1144.5L263.5,1143.7L260.6,1143.0L257.5,1142.4L253.5,1141.4L251.5,1140.9L247.5,1140.0L243.6,1139.0L241.5,1138.5L237.5,1137.4L235.5,1136.8L231.5,1135.7L229.3,1135.0L225.5,1133.9L222.9,1133.0L219.5,1131.9L216.9,1131.0L213.5,1129.8L211.4,1129.0L207.5,1127.5L205.5,1126.7L201.5,1125.1L199.5,1124.3L196.7,1123.0L193.5,1121.6L191.5,1120.6L188.3,1119.0L185.5,1117.6L183.5,1116.6L180.7,1115.0L177.5,1113.2L175.5,1112.1L173.5,1110.8L170.5,1109.0L167.5,1107.1L165.5,1105.8L163.5,1104.4L161.5,1103.0L158.6,1101.0L155.8,1099.0L153.5,1097.4L151.5,1096.0L149.5,1094.6L147.2,1093.0L144.2,1091.0L141.5,1089.4L139.5,1088.2L137.3,1087.0L133.5,1085.1L131.5,1084.3L128.4,1083.0L125.5,1082.0L122.5,1081.0L119.5,1080.2L115.5,1079.1L113.5,1078.6L109.5,1077.7L106.7,1077.0L103.5,1076.3L99.5,1075.4L97.5,1075.0L93.5,1074.1L89.5,1073.1L87.5,1072.6L83.5,1071.6L81.2,1071.0L77.5,1070.1L73.9,1069.0L71.5,1068.3L67.5,1067.1L65.5,1066.5L61.5,1065.2L59.5,1064.5L55.5,1063.1L53.5,1062.5L49.5,1061.0L47.5,1060.3L44.0,1059.0L41.5,1058.1L38.6,1057.0L35.5,1055.9L33.2,1055.0L29.5,1053.7L27.5,1052.9L23.5,1051.5L21.5,1050.8L17.5,1049.4L15.5,1048.7L11.5,1047.4L9.5,1046.7L5.5,1045.4L3.5,1044.8L-0.5,1043.5L-2.5,1042.8L-6.5,1041.5L-8.5,1040.8L-12.5,1039.5L-14.5,1038.8L-18.5,1037.4L-20.5,1036.7L-24.5,1035.2L-26.5,1034.4L-30.0,1033.0L-32.5,1032.0L-34.7,1031.0L-38.5,1029.4L-40.5,1028.4L-43.5,1027.0L-46.5,1025.5L-48.5,1024.5L-51.2,1023.0L-54.5,1021.1L-56.5,1020.0L-58.5,1018.7L-61.2,1017.0L-64.2,1015.0L-66.5,1013.4L-68.5,1011.9L-70.5,1010.4L-72.5,1008.8L-74.6,1007.0L-76.9,1005.0L-79.1,1003.0L-81.2,1001.0L-83.1,999.0L-85.0,997.0L-86.7,995.0L-88.5,992.9L-90.5,990.3L-92.5,987.6L-94.3,985.0L-95.5,983.0L-96.7,981.0L-98.5,977.6L-99.8,975.0L-100.7,973.0L-102.2,969.0L-102.9,967.0L-104.1,963.0L-104.6,961.0L-105.4,957.0L-105.9,953.0L-106.1,949.0L-106.1,945.0L-105.9,941.0L-105.4,937.0L-104.5,933.0L-104.1,931.0L-102.8,927.0L-102.1,925.0L-100.5,921.2L-99.5,919.0L-98.4,917.0L-96.5,913.8L-94.7,911.0L-93.3,909.0L-91.8,907.0L-90.1,905.0L-88.3,903.0L-86.5,901.0L-84.4,899.0L-82.3,897.0L-80.0,895.0L-77.5,893.0L-74.9,891.0L-72.5,889.3L-70.5,888.0L-68.5,886.7L-65.7,885.0L-62.5,883.2L-60.5,882.1L-58.3,881.0L-54.5,879.2L-52.5,878.2L-49.6,877.0L-46.5,875.7L-44.5,874.9L-40.5,873.4L-38.5,872.7L-34.5,871.4L-32.5,870.7L-28.5,869.5L-26.5,868.9L-22.5,867.7L-19.7,867.0L-16.5,866.1L-12.5,865.1L-10.5,864.6L-6.5,863.6L-4.0,863.0L-0.5,862.1L3.5,861.2L5.5,860.7L9.5,859.8L13.0,859.0L15.5,858.4L19.5,857.5L21.7,857.0L25.5,856.1L29.5,855.2L31.5,854.7L35.5,853.7L38.8,853.0L41.5,852.3L45.5,851.4L47.5,851.0L51.5,850.0L55.5,849.1L57.5,848.7L61.5,847.8L65.4,847.0L67.5,846.5L71.5,845.7L75.2,845.0L77.5,844.5L81.5,843.7L85.5,843.1L87.5,842.7L91.5,842.0L95.5,841.4L98.9,841.0L101.5,840.6L105.5,840.1L109.5,839.7L113.5,839.3L116.9,839.0L119.5,838.8L123.5,838.5L127.5,838.2L131.5,838.0L135.5,837.9L139.5,837.8L143.5,837.7L147.5,837.7L151.5,837.8L155.5,837.9L159.5,838.0L163.5,838.2L167.5,838.4L171.5,838.7L175.5,839.0L177.5,839.1L181.5,839.5L185.5,839.8L189.5,840.3L193.5,840.8L195.5,841.1L199.5,841.5L203.5,842.1L207.5,842.8L209.5,843.1L213.5,843.8L217.5,844.7L219.5,845.1L223.5,846.0L227.3,847.0L229.5,847.5L233.5,848.8L235.5,849.4L239.5,850.8L241.5,851.5L245.1,853.0L247.5,854.0L249.5,855.0L253.5,857.0L255.5,858.0L257.5,859.1L260.8,861.0L263.5,862.6L265.5,863.9L267.5,865.2L270.3,867.0L273.2,869.0L275.5,870.6L277.5,871.9L279.5,873.4L281.8,875.0L284.6,877.0L287.4,879.0L289.5,880.5L291.5,881.9L293.5,883.4L295.8,885.0L298.7,887.0L301.5,888.9L303.5,890.2L305.5,891.5L307.9,893.0L311.5,895.0L313.5,895.9L316.0,897.0L319.5,898.0L323.5,898.2L327.5,897.2L329.5,895.9L331.5,894.1L333.5,891.6L335.1,889.0L336.2,887.0L337.5,884.3L338.8,881.0L339.6,879.0L340.8,875.0L341.5,872.1L342.1,869.0L342.4,865.0L342.3,861.0L341.5,857.4L340.4,855.0L338.9,853.0L336.7,851.0L333.5,849.0L331.5,848.1L328.6,847.0L325.5,846.1L321.5,845.1L319.5,844.6L315.5,843.8L311.5,843.0L309.5,842.7L305.5,841.9L301.5,841.2L299.5,840.8L295.5,840.0L291.5,839.2L289.5,838.8L285.5,838.0L281.5,837.0L279.5,836.5L275.5,835.5L273.5,834.9L269.5,833.7L267.4,833.0L263.5,831.7L261.5,830.9L257.5,829.3L255.5,828.4L252.5,827.0L249.5,825.5L247.5,824.4L244.9,823.0L241.5,821.0L239.5,819.8L237.5,818.6L235.1,817.0L232.0,815.0L229.5,813.3L227.5,811.9L225.5,810.5L223.4,809.0L220.6,807.0L217.8,805.0L215.5,803.3L213.5,801.8L211.5,800.3L209.5,798.8L207.2,797.0L204.6,795.0L202.1,793.0L199.7,791.0L197.5,789.2L195.5,787.5L193.5,785.8L191.5,784.0L189.5,782.2L187.5,780.3L185.5,778.3L183.5,776.3L181.5,774.1L179.5,771.9L177.5,769.5L175.5,767.0L173.9,765.0L172.5,763.0L171.1,761.0L169.5,758.5L167.5,755.2L166.2,753.0L165.2,751.0L163.5,747.5L162.4,745.0L161.5,742.8L160.0,739.0L159.3,737.0L158.1,733.0L157.5,730.8L156.5,727.0L155.7,723.0L155.3,721.0L154.7,717.0L154.3,713.0L154.0,709.0L153.9,705.0L153.9,701.0L154.1,697.0L154.5,693.0L155.1,689.0L155.5,687.0L156.3,683.0L157.5,679.0L158.1,677.0L159.5,673.2L160.4,671.0L161.5,668.6L163.3,665.0L164.4,663.0L165.6,661.0L167.5,658.1L169.5,655.3L171.3,653.0L172.9,651.0L174.6,649.0L176.5,647.0L178.5,645.0L180.6,643.0L182.8,641.0L185.2,639.0L187.5,637.2L189.5,635.6L191.5,634.2L193.5,632.8L196.3,631.0L199.5,629.0L201.5,627.8L203.5,626.7L206.8,625.0L209.5,623.6L211.5,622.7L215.2,621.0L217.5,619.9L219.9,619.0L223.5,617.6L225.5,616.8L229.5,615.4L231.5,614.7L235.5,613.5L237.5,612.9L241.5,611.7L244.3,611.0L247.5,610.2L251.5,609.3L253.5,608.8L257.5,608.0L261.5,607.2L263.5,606.9L267.5,606.2L271.5,605.6L275.5,605.1L277.5,604.8L281.5,604.3L285.5,603.9L289.5,603.6L293.5,603.3L297.5,603.1L299.5,603.0L303.5,602.8L307.5,602.7L311.5,602.6L315.5,602.6L319.5,602.6L323.5,602.6L327.5,602.8L331.5,602.9L333.5,603.0L337.5,603.2L341.5,603.5L345.5,603.7L349.5,604.1L353.5,604.5L357.5,605.0L359.5,605.2L363.5,605.6L367.5,606.2L371.5,606.8L373.5,607.1L377.5,607.7L381.5,608.4L384.4,609.0L387.5,609.6L391.5,610.4L394.3,611.0L397.5,611.7L401.5,612.6L403.5,613.1L407.5,614.1L410.7,615.0L413.5,615.7L417.5,616.9L419.5,617.5L423.5,618.7L425.5,619.3L429.5,620.6L431.5,621.3L435.5,622.6L437.5,623.3L441.5,624.7L443.5,625.3L447.5,626.7L449.5,627.4L453.5,628.7L455.5,629.4L459.5,630.6L461.5,631.1L465.5,632.1L469.5,633.0L471.5,633.3L475.5,633.9L479.5,634.3L483.5,634.6L487.5,634.7L491.5,634.8L495.5,634.8L499.5,634.7L503.5,634.6L507.5,634.5L511.5,634.4L515.5,634.3L519.5,634.3L523.5,634.3L527.5,634.3L531.5,634.4L535.5,634.5L539.5,634.8L543.2,635.0L545.5,635.1L549.5,635.5L553.5,635.8L557.5,636.3L561.5,636.9L563.5,637.2L567.5,637.8L571.5,638.5L573.6,639.0L577.5,639.8L581.5,640.7L583.5,641.2L587.5,642.3L589.8,643.0L593.5,644.1L596.1,645.0L599.5,646.2L601.6,647.0L605.5,648.5L607.5,649.4L611.1,651.0L613.5,652.1L615.5,653.1L619.0,655.0L621.5,656.4L623.5,657.5L625.8,659.0L628.9,661.0L631.5,662.8L633.5,664.2L635.5,665.7L637.5,667.3L639.6,669.0L642.0,671.0L644.3,673.0L646.4,675.0L648.5,677.0L650.5,679.0L652.4,681.0L654.3,683.0L656.1,685.0L657.9,687.0L659.6,689.0L661.5,691.3L663.5,693.8L665.5,696.4L667.5,699.0L669.0,701.0L670.5,703.0L671.9,705.0L673.5,707.3L675.5,710.2L677.4,713.0L678.7,715.0L680.0,717.0L681.5,719.3L683.5,722.4L685.1,725.0L686.4,727.0L687.7,729.0L689.5,731.8L691.5,734.9L693.0,737.0L694.4,739.0L695.8,741.0L697.5,743.3L699.5,745.8L701.5,748.1L703.5,750.3L705.5,752.4L707.5,754.4L709.5,756.2L711.5,758.0L713.5,759.8L715.5,761.5L717.5,763.1L719.8,765.0L722.4,767.0L724.9,769.0L727.4,771.0L729.5,772.7L731.5,774.3L733.5,776.0L735.5,777.7L737.5,779.4L739.5,781.2L741.5,783.0L743.6,785.0L745.6,787.0L747.6,789.0L749.5,791.1L751.5,793.3L753.5,795.7L755.5,798.2L757.5,800.9L759.0,803.0L760.3,805.0L761.5,807.1L763.5,810.6L764.7,813.0L765.6,815.0L767.2,819.0L768.0,821.0L769.2,825.0L769.6,827.0L770.4,831.0L770.9,835.0L771.1,839.0L771.0,843.0L770.5,847.0L769.8,851.0L769.3,853.0L768.0,857.0L767.2,859.0L765.5,862.7L764.3,865.0L763.1,867.0L761.5,869.4L759.5,872.1L757.5,874.5L755.5,876.7L753.5,878.7L751.5,880.6L749.5,882.3L747.5,884.0L745.5,885.5L743.4,887.0L740.6,889.0L737.5,891.0L735.5,892.2L733.5,893.4L730.8,895.0L727.5,896.8L725.5,897.9L723.4,899.0L719.6,901.0L717.5,902.1L715.5,903.1L711.7,905.0L709.5,906.1L707.5,907.1L703.8,909.0L701.5,910.2L699.5,911.2L695.9,913.0L693.5,914.3L691.5,915.3L688.4,917.0L685.5,918.6L683.5,919.7L681.2,921.0L677.7,923.0L675.5,924.3L673.5,925.5L671.0,927.0L667.9,929.0L665.5,930.5L663.5,931.9L661.5,933.2L659.0,935.0L656.3,937.0L653.7,939.0L651.5,940.8L649.5,942.6L647.5,944.5L645.5,946.5L643.5,948.6L641.5,951.0L640.0,953.0L638.6,955.0L637.3,957.0L635.5,960.3L634.2,963.0L633.3,965.0L631.8,969.0L631.1,971.0L630.1,975.0L629.5,977.8L629.1,981.0L628.9,985.0L629.0,989.0L629.5,993.0L629.8,995.0L630.7,999.0L631.5,1002.5L632.2,1005.0L633.2,1009.0L633.7,1011.0L634.8,1015.0L635.5,1018.4L636.1,1021.0L636.9,1025.0L637.5,1028.8L637.8,1031.0L638.4,1035.0L638.7,1039.0L639.0,1043.0L639.1,1047.0L639.1,1051.0L639.0,1055.0L638.8,1059.0L638.4,1063.0L637.9,1067.0L637.5,1069.7L637.0,1073.0L636.1,1077.0L635.5,1079.5L634.6,1083.0L633.5,1086.5L632.7,1089.0L631.5,1092.2L630.4,1095.0L629.5,1097.1L627.7,1101.0L626.7,1103.0L625.5,1105.1L623.5,1108.6L622.0,1111.0L620.7,1113.0L619.2,1115.0L617.5,1117.3L615.5,1119.8L613.5,1122.1L611.5,1124.3L609.5,1126.3L607.5,1128.2L605.5,1130.1L603.5,1131.8L601.5,1133.4L599.3,1135.0L596.6,1137.0L593.5,1139.0L591.5,1140.3L589.5,1141.5L586.7,1143.0L583.5,1144.7L581.5,1145.7L578.5,1147.0L575.5,1148.3L573.5,1149.1L569.5,1150.6L567.5,1151.3L563.5,1152.6L561.5,1153.1L557.5,1154.3L554.4,1155.0L551.5,1155.7L547.5,1156.6L545.1,1157.0L541.5,1157.7L537.5,1158.3L533.5,1158.8L531.5,1159.1L531.5,1159.1 M525.5,1139.2L521.5,1139.6L517.5,1140.0L513.5,1140.2L509.5,1140.4L505.5,1140.5L501.5,1140.5L497.5,1140.5L493.5,1140.4L489.5,1140.2L485.5,1140.0L481.5,1139.7L477.5,1139.4L474.2,1139.0L471.5,1138.7L467.5,1138.3L463.5,1137.8L459.5,1137.2L457.5,1136.9L453.5,1136.4L449.5,1135.8L445.5,1135.2L443.5,1134.9L439.5,1134.4L435.5,1133.9L431.5,1133.4L427.7,1133.0L425.5,1132.8L421.5,1132.5L417.5,1132.3L413.5,1132.2L409.5,1132.1L405.5,1132.1L401.5,1132.2L397.5,1132.3L393.5,1132.5L389.5,1132.6L385.5,1132.8L381.5,1133.0L379.5,1133.0L375.5,1133.2L371.5,1133.4L367.5,1133.5L363.5,1133.6L359.5,1133.6L355.5,1133.6L351.5,1133.6L347.5,1133.5L343.5,1133.4L339.5,1133.2L335.5,1133.0L333.5,1132.9L329.5,1132.6L325.5,1132.3L321.5,1132.0L317.5,1131.6L313.5,1131.1L311.5,1130.9L307.5,1130.4L303.5,1129.8L299.5,1129.2L297.5,1128.9L293.5,1128.3L289.5,1127.6L286.1,1127.0L283.5,1126.6L279.5,1125.8L275.8,1125.0L273.5,1124.5L269.5,1123.7L266.7,1123.0L263.5,1122.3L259.5,1121.3L257.5,1120.8L253.5,1119.7L251.0,1119.0L247.5,1118.0L244.2,1117.0L241.5,1116.2L237.9,1115.0L235.5,1114.2L232.2,1113.0L229.5,1112.1L226.8,1111.0L223.5,1109.7L221.5,1108.9L217.5,1107.1L215.5,1106.3L212.8,1105.0L209.5,1103.4L207.5,1102.4L204.9,1101.0L201.5,1099.1L199.5,1098.0L197.5,1096.8L194.6,1095.0L191.6,1093.0L189.5,1091.6L187.5,1090.2L185.5,1088.8L183.1,1087.0L180.4,1085.0L177.9,1083.0L175.5,1081.1L173.5,1079.5L171.5,1077.9L169.5,1076.3L167.5,1074.8L165.1,1073.0L162.3,1071.0L159.5,1069.2L157.5,1068.0L155.5,1066.9L151.6,1065.0L149.5,1064.2L146.5,1063.0L143.5,1062.0L140.1,1061.0L137.5,1060.4L133.5,1059.4L131.5,1058.9L127.5,1058.2L123.5,1057.4L121.5,1056.9L117.5,1056.2L113.5,1055.4L111.5,1055.0L107.5,1054.2L103.5,1053.3L101.5,1052.9L97.5,1051.9L94.0,1051.0L91.5,1050.4L87.5,1049.3L85.5,1048.7L81.5,1047.5L79.5,1046.8L75.5,1045.5L73.5,1044.8L69.5,1043.5L67.5,1042.7L63.5,1041.3L61.5,1040.5L57.5,1039.0L55.5,1038.3L52.3,1037.0L49.5,1035.9L47.1,1035.0L43.5,1033.7L41.5,1032.9L37.5,1031.4L35.5,1030.7L31.5,1029.2L29.5,1028.5L25.5,1027.1L23.5,1026.4L19.5,1025.1L17.5,1024.4L13.5,1023.0L11.5,1022.4L7.6,1021.0L5.5,1020.3L1.9,1019.0L-0.5,1018.1L-3.5,1017.0L-6.5,1015.9L-8.6,1015.0L-12.5,1013.4L-14.5,1012.5L-17.8,1011.0L-20.5,1009.7L-22.5,1008.7L-25.8,1007.0L-28.5,1005.6L-30.5,1004.4L-32.8,1003.0L-35.9,1001.0L-38.5,999.3L-40.5,997.8L-42.5,996.3L-44.5,994.7L-46.6,993.0L-48.8,991.0L-50.9,989.0L-52.9,987.0L-54.7,985.0L-56.5,982.9L-58.5,980.3L-60.5,977.5L-62.1,975.0L-63.3,973.0L-64.5,970.6L-66.1,967.0L-66.9,965.0L-68.2,961.0L-68.7,959.0L-69.4,955.0L-69.8,951.0L-69.8,947.0L-69.5,943.0L-68.7,939.0L-68.2,937.0L-67.0,933.0L-66.1,931.0L-64.5,927.6L-63.1,925.0L-61.8,923.0L-60.4,921.0L-58.5,918.6L-56.5,916.2L-54.5,914.1L-52.5,912.2L-50.5,910.4L-48.5,908.7L-46.3,907.0L-43.5,905.0L-40.5,903.0L-38.5,901.8L-36.5,900.6L-33.5,899.0L-30.5,897.4L-28.5,896.5L-25.3,895.0L-22.5,893.8L-20.5,892.9L-16.5,891.3L-14.5,890.6L-10.5,889.2L-8.5,888.4L-4.5,887.1L-2.5,886.5L1.5,885.2L3.5,884.6L7.5,883.4L9.5,882.8L13.5,881.6L15.9,881.0L19.5,879.9L23.0,879.0L25.5,878.3L29.5,877.2L31.5,876.6L35.5,875.5L37.5,875.0L41.5,873.9L44.8,873.0L47.5,872.2L51.5,871.2L53.5,870.6L57.5,869.6L59.9,869.0L63.5,868.0L67.5,867.1L69.5,866.6L73.5,865.6L76.2,865.0L79.5,864.2L83.5,863.4L85.5,863.0L89.5,862.1L93.5,861.4L95.7,861.0L99.5,860.3L103.5,859.7L107.5,859.1L109.5,858.8L113.5,858.3L117.5,857.9L121.5,857.5L125.5,857.2L128.1,857.0L131.5,856.8L135.5,856.6L139.5,856.4L143.5,856.3L147.5,856.3L151.5,856.3L155.5,856.4L159.5,856.5L163.5,856.8L167.3,857.0L169.5,857.1L173.5,857.5L177.5,857.8L181.5,858.3L185.5,858.8L187.5,859.1L191.5,859.7L195.5,860.4L198.7,861.0L201.5,861.5L205.5,862.4L207.8,863.0L211.5,863.9L215.1,865.0L217.5,865.7L221.4,867.0L223.5,867.7L226.8,869.0L229.5,870.1L231.6,871.0L235.5,872.8L237.5,873.8L239.9,875.0L243.5,877.0L245.5,878.1L247.5,879.3L250.3,881.0L253.4,883.0L255.5,884.4L257.5,885.8L259.5,887.2L262.0,889.0L264.7,891.0L267.3,893.0L269.5,894.7L271.5,896.2L273.5,897.8L275.5,899.5L277.5,901.1L279.8,903.0L282.2,905.0L284.6,907.0L287.0,909.0L289.4,911.0L291.5,912.7L293.5,914.4L295.5,916.0L297.5,917.5L299.5,919.1L302.2,921.0L305.1,923.0L307.5,924.5L309.5,925.6L312.1,927.0L315.5,928.6L317.5,929.4L321.5,930.8L323.5,931.3L327.5,932.2L331.5,932.9L333.5,933.1L337.5,933.2L340.9,933.0L343.5,932.6L347.5,931.4L349.5,930.4L351.5,929.0L353.5,927.0L355.5,924.2L357.0,921.0L357.8,919.0L359.2,915.0L359.8,913.0L360.9,909.0L361.5,907.0L362.7,903.0L363.5,900.2L364.4,897.0L365.5,893.4L366.2,891.0L367.4,887.0L367.9,885.0L369.0,881.0L369.5,879.0L370.4,875.0L371.3,871.0L371.7,869.0L372.3,865.0L372.9,861.0L373.4,857.0L373.5,855.0L373.7,851.0L373.5,847.0L373.3,845.0L372.3,841.0L371.5,839.0L369.5,836.0L367.5,834.0L365.5,832.5L362.8,831.0L359.5,829.7L357.5,829.0L353.5,828.0L349.5,827.1L347.5,826.8L343.5,826.1L339.5,825.5L336.3,825.0L333.5,824.6L329.5,824.0L325.5,823.3L323.5,823.0L319.5,822.3L315.5,821.5L313.2,821.0L309.5,820.2L305.5,819.3L303.5,818.8L299.5,817.8L296.8,817.0L293.5,816.1L290.2,815.0L287.5,814.1L284.3,813.0L281.5,812.0L279.0,811.0L275.5,809.6L273.5,808.7L269.7,807.0L267.5,806.0L265.5,805.0L261.5,803.0L259.5,802.0L257.5,800.9L254.0,799.0L251.5,797.6L249.5,796.5L247.1,795.0L243.7,793.0L241.5,791.6L239.5,790.4L237.4,789.0L234.3,787.0L231.5,785.1L229.5,783.8L227.5,782.4L225.5,780.9L222.9,779.0L220.3,777.0L217.8,775.0L215.5,773.1L213.5,771.4L211.5,769.6L209.5,767.7L207.5,765.8L205.5,763.7L203.5,761.5L201.5,759.2L199.7,757.0L198.2,755.0L196.7,753.0L195.4,751.0L193.5,748.0L191.8,745.0L190.7,743.0L189.5,740.3L188.0,737.0L187.3,735.0L185.9,731.0L185.3,729.0L184.3,725.0L183.5,721.0L183.2,719.0L182.7,715.0L182.5,711.0L182.4,707.0L182.6,703.0L183.0,699.0L183.5,695.6L184.0,693.0L185.0,689.0L185.6,687.0L187.0,683.0L187.8,681.0L189.5,677.3L190.7,675.0L191.8,673.0L193.5,670.3L195.5,667.5L197.4,665.0L199.0,663.0L200.8,661.0L202.7,659.0L204.8,657.0L207.0,655.0L209.4,653.0L211.5,651.3L213.5,649.8L215.5,648.4L217.7,647.0L220.8,645.0L223.5,643.4L225.5,642.3L228.1,641.0L231.5,639.3L233.5,638.4L236.8,637.0L239.5,635.9L241.8,635.0L245.5,633.6L247.5,633.0L251.5,631.7L254.0,631.0L257.5,630.0L261.5,629.0L263.5,628.5L267.5,627.6L270.8,627.0L273.5,626.5L277.5,625.8L281.5,625.2L283.5,624.9L287.5,624.4L291.5,624.0L295.5,623.6L299.5,623.3L303.5,623.1L306.2,623.0L309.5,622.9L313.5,622.8L317.5,622.7L321.5,622.7L325.5,622.8L329.5,623.0L331.5,623.0L335.5,623.2L339.5,623.5L343.5,623.8L347.5,624.1L351.5,624.5L355.3,625.0L357.5,625.3L361.5,625.8L365.5,626.4L369.2,627.0L371.5,627.4L375.5,628.1L379.5,628.9L381.5,629.3L385.5,630.1L389.1,631.0L391.5,631.5L395.5,632.6L397.5,633.1L401.5,634.2L404.1,635.0L407.5,636.0L410.6,637.0L413.5,637.9L416.6,639.0L419.5,640.0L422.2,641.0L425.5,642.2L427.6,643.0L431.5,644.5L433.5,645.3L437.5,646.8L439.5,647.6L443.2,649.0L445.5,649.8L448.9,651.0L451.5,651.8L455.5,653.0L457.5,653.5L461.5,654.4L465.0,655.0L467.5,655.3L471.5,655.7L475.5,655.9L479.5,656.0L483.5,655.9L487.5,655.8L491.5,655.7L495.5,655.5L499.5,655.3L503.5,655.1L505.5,655.0L509.5,654.8L513.5,654.6L517.5,654.5L521.5,654.5L525.5,654.5L529.5,654.6L533.5,654.7L537.5,655.0L539.5,655.1L543.5,655.4L547.5,655.8L551.5,656.3L555.5,656.8L557.5,657.2L561.5,657.8L565.5,658.6L567.5,659.1L571.5,660.0L575.1,661.0L577.5,661.7L581.5,662.9L583.5,663.6L587.3,665.0L589.5,665.8L592.3,667.0L595.5,668.4L597.5,669.4L600.7,671.0L603.5,672.5L605.5,673.6L607.8,675.0L611.0,677.0L613.5,678.7L615.5,680.1L617.5,681.6L619.5,683.2L621.6,685.0L624.0,687.0L626.2,689.0L628.3,691.0L630.3,693.0L632.2,695.0L634.0,697.0L635.8,699.0L637.5,701.0L639.5,703.4L641.5,706.0L643.5,708.7L645.2,711.0L646.6,713.0L647.9,715.0L649.5,717.4L651.5,720.6L653.0,723.0L654.1,725.0L655.5,727.4L657.5,731.0L658.6,733.0L659.6,735.0L661.5,738.7L662.7,741.0L663.7,743.0L665.5,746.3L667.0,749.0L668.1,751.0L669.5,753.4L671.5,756.5L673.3,759.0L674.8,761.0L676.4,763.0L678.1,765.0L680.0,767.0L681.9,769.0L684.0,771.0L686.2,773.0L688.4,775.0L690.7,777.0L693.1,779.0L695.4,781.0L697.5,782.8L699.5,784.5L701.5,786.2L703.5,788.0L705.5,789.8L707.5,791.7L709.5,793.6L711.5,795.6L713.5,797.8L715.5,800.0L717.5,802.4L719.5,805.0L720.9,807.0L722.3,809.0L723.5,811.0L725.5,814.6L726.7,817.0L727.5,819.0L728.9,823.0L729.5,825.3L730.3,829.0L730.7,833.0L730.7,837.0L730.3,841.0L729.5,844.9L728.9,847.0L727.5,850.8L726.5,853.0L725.5,855.0L723.5,858.2L721.6,861.0L720.1,863.0L718.4,865.0L716.6,867.0L714.7,869.0L712.6,871.0L710.5,873.0L708.2,875.0L705.8,877.0L703.5,878.8L701.5,880.4L699.5,881.9L697.5,883.4L695.3,885.0L692.5,887.0L689.7,889.0L687.5,890.5L685.5,891.9L683.5,893.3L680.9,895.0L678.0,897.0L675.5,898.7L673.5,900.0L671.5,901.4L669.1,903.0L666.2,905.0L663.5,906.8L661.5,908.2L659.5,909.6L657.4,911.0L654.6,913.0L651.7,915.0L649.5,916.6L647.5,918.1L645.5,919.5L643.4,921.0L640.8,923.0L638.2,925.0L635.7,927.0L633.5,928.8L631.5,930.5L629.5,932.3L627.5,934.2L625.5,936.1L623.5,938.2L621.5,940.4L619.5,942.9L617.9,945.0L616.6,947.0L615.3,949.0L613.5,952.2L612.1,955.0L611.1,957.0L609.5,960.8L608.7,963.0L607.5,966.2L606.6,969.0L605.5,973.0L605.1,975.0L604.4,979.0L604.0,983.0L604.0,987.0L604.5,991.0L605.2,995.0L605.8,997.0L607.0,1001.0L607.6,1003.0L609.0,1007.0L609.7,1009.0L611.0,1013.0L611.7,1015.0L612.9,1019.0L613.5,1021.3L614.5,1025.0L615.3,1029.0L615.7,1031.0L616.3,1035.0L616.8,1039.0L617.1,1043.0L617.3,1047.0L617.3,1051.0L617.1,1055.0L616.8,1059.0L616.3,1063.0L615.7,1067.0L615.3,1069.0L614.4,1073.0L613.5,1076.0L612.6,1079.0L611.5,1082.0L610.3,1085.0L609.4,1087.0L607.5,1091.0L606.5,1093.0L605.3,1095.0L603.5,1097.9L601.5,1100.8L599.9,1103.0L598.3,1105.0L596.6,1107.0L594.8,1109.0L592.8,1111.0L590.7,1113.0L588.4,1115.0L585.9,1117.0L583.5,1118.8L581.5,1120.3L579.5,1121.6L577.2,1123.0L573.7,1125.0L571.5,1126.2L569.5,1127.2L565.5,1129.0L563.5,1129.9L560.5,1131.0L557.5,1132.1L554.8,1133.0L551.5,1134.0L547.9,1135.0L545.5,1135.6L541.5,1136.6L539.3,1137.0L535.5,1137.7L531.5,1138.4L527.5,1138.9L525.5,1139.2L525.5,1139.2 M513.5,1129.0L509.5,1129.3L505.5,1129.4L501.5,1129.5L497.5,1129.4L493.5,1129.3L489.5,1129.2L487.0,1129.0L483.5,1128.8L479.5,1128.5L475.5,1128.1L471.5,1127.6L467.5,1127.1L465.5,1126.8L461.5,1126.3L457.5,1125.7L453.5,1125.1L451.5,1124.8L447.5,1124.2L443.5,1123.6L439.9,1123.0L437.5,1122.7L433.5,1122.2L429.5,1121.7L425.5,1121.3L421.5,1121.0L419.5,1120.9L415.5,1120.8L411.5,1120.7L407.5,1120.7L403.5,1120.7L399.5,1120.8L395.5,1121.0L393.5,1121.1L389.5,1121.3L385.5,1121.5L381.5,1121.7L377.5,1121.9L373.5,1122.1L369.5,1122.3L365.5,1122.4L361.5,1122.5L357.5,1122.5L353.5,1122.5L349.5,1122.5L345.5,1122.4L341.5,1122.2L337.5,1122.0L333.5,1121.8L329.5,1121.5L325.5,1121.2L323.5,1121.0L319.5,1120.6L315.5,1120.2L311.5,1119.7L307.5,1119.1L305.5,1118.8L301.5,1118.3L297.5,1117.6L293.9,1117.0L291.5,1116.6L287.5,1115.9L283.5,1115.0L281.5,1114.6L277.5,1113.8L274.1,1113.0L271.5,1112.4L267.5,1111.4L265.5,1110.9L261.5,1109.8L258.6,1109.0L255.5,1108.1L251.9,1107.0L249.5,1106.3L245.8,1105.0L243.5,1104.2L240.2,1103.0L237.5,1102.0L235.0,1101.0L231.5,1099.6L229.5,1098.7L225.8,1097.0L223.5,1095.9L221.5,1094.9L217.8,1093.0L215.5,1091.8L213.5,1090.6L210.7,1089.0L207.5,1087.0L205.5,1085.7L203.5,1084.4L201.5,1082.9L198.8,1081.0L196.2,1079.0L193.7,1077.0L191.5,1075.2L189.5,1073.5L187.5,1071.8L185.5,1070.0L183.5,1068.3L181.5,1066.6L179.5,1064.8L177.3,1063.0L174.7,1061.0L171.9,1059.0L169.5,1057.5L167.5,1056.3L165.1,1055.0L161.5,1053.4L159.5,1052.6L155.5,1051.2L153.5,1050.6L149.5,1049.5L147.4,1049.0L143.5,1048.2L139.5,1047.4L137.3,1047.0L133.5,1046.4L129.5,1045.7L125.8,1045.0L123.5,1044.6L119.5,1043.9L115.5,1043.1L113.5,1042.7L109.5,1041.9L105.9,1041.0L103.5,1040.5L99.5,1039.4L97.5,1038.9L93.5,1037.8L91.0,1037.0L87.5,1035.9L84.8,1035.0L81.5,1033.9L79.0,1033.0L75.5,1031.8L73.5,1031.0L69.5,1029.5L67.5,1028.7L63.5,1027.1L61.5,1026.4L58.1,1025.0L55.5,1024.0L53.1,1023.0L49.5,1021.6L47.5,1020.8L43.5,1019.3L41.5,1018.6L37.5,1017.1L35.5,1016.4L31.8,1015.0L29.5,1014.2L26.2,1013.0L23.5,1012.1L20.6,1011.0L17.5,1009.9L15.1,1009.0L11.5,1007.7L9.5,1006.9L5.5,1005.3L3.5,1004.5L0.0,1003.0L-2.5,1001.9L-4.5,1001.0L-8.5,999.0L-10.5,998.0L-12.5,996.9L-15.8,995.0L-18.5,993.3L-20.5,992.0L-22.5,990.6L-24.8,989.0L-27.3,987.0L-29.7,985.0L-31.9,983.0L-33.9,981.0L-35.7,979.0L-37.4,977.0L-39.0,975.0L-40.5,972.8L-42.5,969.6L-43.9,967.0L-44.8,965.0L-46.3,961.0L-46.9,959.0L-47.7,955.0L-48.0,951.0L-47.9,947.0L-47.4,943.0L-46.5,939.4L-45.7,937.0L-44.5,934.2L-42.8,931.0L-41.6,929.0L-40.2,927.0L-38.5,924.9L-36.5,922.6L-34.5,920.5L-32.5,918.7L-30.5,917.0L-28.0,915.0L-25.2,913.0L-22.5,911.2L-20.5,910.0L-18.5,908.8L-15.1,907.0L-12.5,905.7L-10.5,904.7L-6.8,903.0L-4.5,902.0L-2.1,901.0L1.5,899.6L3.5,898.8L7.5,897.3L9.5,896.6L13.5,895.2L15.5,894.5L19.5,893.2L21.5,892.5L25.5,891.2L27.5,890.6L31.5,889.3L33.5,888.7L37.5,887.4L39.5,886.8L43.5,885.6L45.5,885.0L49.5,883.8L52.2,883.0L55.5,882.0L58.9,881.0L61.5,880.2L65.5,879.1L67.5,878.5L71.5,877.5L73.5,876.9L77.5,875.9L81.1,875.0L83.5,874.4L87.5,873.5L89.7,873.0L93.5,872.1L97.5,871.3L99.5,871.0L103.5,870.2L107.5,869.6L111.4,869.0L113.5,868.7L117.5,868.1L121.5,867.7L125.5,867.3L129.4,867.0L131.5,866.8L135.5,866.6L139.5,866.4L143.5,866.3L147.5,866.2L151.5,866.2L155.5,866.3L159.5,866.5L163.5,866.7L167.5,867.0L169.5,867.1L173.5,867.5L177.5,867.9L181.5,868.5L184.9,869.0L187.5,869.4L191.5,870.1L195.5,871.0L197.5,871.4L201.5,872.4L203.8,873.0L207.5,874.0L210.5,875.0L213.5,876.0L216.2,877.0L219.5,878.3L221.5,879.1L225.5,880.9L227.5,881.8L229.7,883.0L233.5,885.0L235.5,886.1L237.5,887.3L240.2,889.0L243.2,891.0L245.5,892.5L247.5,894.0L249.5,895.4L251.6,897.0L254.2,899.0L256.6,901.0L259.1,903.0L261.4,905.0L263.5,906.8L265.5,908.6L267.5,910.4L269.5,912.2L271.5,914.0L273.5,915.8L275.5,917.7L277.5,919.5L279.5,921.4L281.5,923.2L283.6,925.0L285.9,927.0L288.3,929.0L290.8,931.0L293.5,933.0L295.5,934.3L297.5,935.6L299.9,937.0L303.5,938.9L305.5,939.8L308.4,941.0L311.5,942.1L314.3,943.0L317.5,943.8L321.5,944.8L323.5,945.2L327.5,945.8L331.5,946.4L335.5,946.9L337.5,947.1L341.5,947.3L345.5,947.4L349.5,947.4L353.5,947.2L355.9,947.0L359.5,946.4L363.5,945.2L365.5,944.3L367.6,943.0L369.8,941.0L371.5,938.8L373.3,935.0L373.9,933.0L374.9,929.0L375.5,925.9L376.0,923.0L376.7,919.0L377.4,915.0L377.8,913.0L378.7,909.0L379.5,905.6L380.1,903.0L381.1,899.0L381.7,897.0L382.7,893.0L383.5,890.0L384.2,887.0L385.2,883.0L385.7,881.0L386.6,877.0L387.4,873.0L387.8,871.0L388.5,867.0L389.2,863.0L389.5,861.0L390.1,857.0L390.6,853.0L391.1,849.0L391.4,845.0L391.5,842.2L391.5,840.3L391.3,837.0L390.6,833.0L389.5,829.8L387.9,827.0L386.3,825.0L384.1,823.0L381.5,821.3L379.5,820.3L376.4,819.0L373.5,818.1L369.5,817.2L367.5,816.8L363.5,816.2L359.5,815.6L355.5,815.2L353.5,814.9L349.5,814.6L345.5,814.1L341.5,813.7L337.5,813.2L335.5,812.9L331.5,812.4L327.5,811.8L323.5,811.1L321.5,810.7L317.5,809.9L313.5,809.0L311.5,808.6L307.5,807.6L305.4,807.0L301.5,805.9L298.6,805.0L295.5,804.0L292.6,803.0L289.5,801.9L287.1,801.0L283.5,799.6L281.5,798.8L277.5,797.0L275.5,796.2L273.1,795.0L269.5,793.3L267.5,792.3L264.9,791.0L261.5,789.2L259.5,788.1L257.5,787.0L254.0,785.0L251.5,783.5L249.5,782.3L247.4,781.0L244.2,779.0L241.5,777.2L239.5,775.9L237.5,774.5L235.5,773.0L232.8,771.0L230.2,769.0L227.8,767.0L225.5,765.0L223.5,763.2L221.5,761.3L219.5,759.3L217.5,757.2L215.5,755.0L213.9,753.0L212.3,751.0L210.8,749.0L209.5,747.0L207.5,743.8L205.9,741.0L204.9,739.0L203.5,735.9L202.3,733.0L201.5,730.6L200.4,727.0L199.5,723.2L199.1,721.0L198.5,717.0L198.2,713.0L198.1,709.0L198.3,705.0L198.7,701.0L199.4,697.0L199.9,695.0L201.0,691.0L201.7,689.0L203.4,685.0L204.3,683.0L205.5,680.7L207.5,677.4L209.1,675.0L210.5,673.0L212.1,671.0L213.8,669.0L215.7,667.0L217.7,665.0L219.9,663.0L222.2,661.0L224.8,659.0L227.5,657.1L229.5,655.7L231.5,654.4L233.9,653.0L237.5,651.0L239.5,649.9L241.5,649.0L245.5,647.1L247.5,646.3L250.8,645.0L253.5,644.0L256.4,643.0L259.5,642.0L262.9,641.0L265.5,640.3L269.5,639.3L271.5,638.8L275.5,637.9L279.5,637.2L281.5,636.8L285.5,636.2L289.5,635.6L293.5,635.2L295.5,635.0L299.5,634.6L303.5,634.3L307.5,634.0L311.5,633.9L315.5,633.8L319.5,633.7L323.5,633.8L327.5,633.9L331.5,634.0L335.5,634.2L339.5,634.5L343.5,634.8L345.5,635.0L349.5,635.4L353.5,635.9L357.5,636.4L361.5,637.0L363.5,637.3L367.5,637.9L371.5,638.7L373.5,639.1L377.5,639.9L381.5,640.8L383.5,641.3L387.5,642.3L390.2,643.0L393.5,643.9L397.2,645.0L399.5,645.7L403.5,647.0L405.5,647.6L409.4,649.0L411.5,649.7L414.8,651.0L417.5,652.0L419.9,653.0L423.5,654.4L425.5,655.3L429.5,657.0L431.5,657.8L434.3,659.0L437.5,660.3L439.5,661.1L443.5,662.6L445.5,663.3L449.5,664.6L451.5,665.2L455.5,666.1L459.5,666.9L461.5,667.2L465.5,667.6L469.5,667.8L473.5,667.9L477.5,667.8L481.5,667.7L485.5,667.4L489.5,667.2L492.1,667.0L495.5,666.7L499.5,666.4L503.5,666.2L507.5,665.9L511.5,665.7L515.5,665.6L519.5,665.5L523.5,665.5L527.5,665.6L531.5,665.7L535.5,665.9L539.5,666.2L543.5,666.6L546.9,667.0L549.5,667.3L553.5,667.9L557.5,668.6L559.5,669.1L563.5,669.9L567.5,670.9L569.5,671.5L573.5,672.7L575.5,673.3L579.5,674.7L581.5,675.5L585.2,677.0L587.5,678.0L589.5,679.0L593.5,681.0L595.5,682.1L597.5,683.2L600.4,685.0L603.4,687.0L605.5,688.4L607.5,689.9L609.5,691.5L611.5,693.1L613.7,695.0L615.9,697.0L618.0,699.0L620.0,701.0L621.9,703.0L623.7,705.0L625.5,707.1L627.5,709.5L629.5,712.1L631.5,714.9L633.0,717.0L634.4,719.0L635.6,721.0L637.5,724.1L639.2,727.0L640.3,729.0L641.5,731.3L643.4,735.0L644.3,737.0L645.5,739.6L647.0,743.0L647.9,745.0L649.5,748.7L650.5,751.0L651.5,753.3L653.2,757.0L654.2,759.0L655.5,761.4L657.5,764.8L659.0,767.0L660.4,769.0L662.0,771.0L663.6,773.0L665.5,775.1L667.5,777.1L669.5,779.1L671.5,781.0L673.7,783.0L676.0,785.0L678.3,787.0L680.5,789.0L682.7,791.0L684.9,793.0L687.1,795.0L689.1,797.0L691.1,799.0L692.9,801.0L694.7,803.0L696.4,805.0L697.9,807.0L699.5,809.2L701.5,812.3L703.1,815.0L704.1,817.0L705.5,820.3L706.5,823.0L707.5,827.0L707.8,829.0L708.2,833.0L708.1,837.0L707.5,841.0L707.1,843.0L705.8,847.0L705.0,849.0L703.5,852.2L701.9,855.0L700.7,857.0L699.3,859.0L697.5,861.3L695.5,863.8L693.5,866.1L691.5,868.2L689.5,870.2L687.5,872.2L685.5,874.0L683.5,875.9L681.5,877.6L679.5,879.3L677.5,881.0L675.1,883.0L672.6,885.0L670.0,887.0L667.5,889.0L665.5,890.5L663.5,892.1L661.5,893.6L659.5,895.1L657.0,897.0L654.3,899.0L651.6,901.0L649.5,902.6L647.5,904.1L645.5,905.5L643.5,907.0L640.9,909.0L638.2,911.0L635.5,913.0L633.5,914.5L631.5,916.1L629.5,917.6L627.5,919.2L625.2,921.0L622.8,923.0L620.4,925.0L618.1,927.0L615.9,929.0L613.8,931.0L611.8,933.0L610.0,935.0L608.3,937.0L606.7,939.0L605.2,941.0L603.5,943.5L601.5,946.8L600.3,949.0L599.3,951.0L597.5,954.8L596.6,957.0L595.5,959.6L594.2,963.0L593.5,965.0L592.2,969.0L591.5,971.1L590.5,975.0L589.7,979.0L589.5,981.0L589.3,985.0L589.5,988.2L589.9,991.0L590.9,995.0L591.5,997.0L592.9,1001.0L593.7,1003.0L595.4,1007.0L596.2,1009.0L597.5,1012.2L598.6,1015.0L599.5,1017.4L600.7,1021.0L601.5,1023.5L602.5,1027.0L603.4,1031.0L603.8,1033.0L604.5,1037.0L604.9,1041.0L605.2,1045.0L605.3,1049.0L605.2,1053.0L604.9,1057.0L604.4,1061.0L603.7,1065.0L603.3,1067.0L602.3,1071.0L601.5,1073.4L600.3,1077.0L599.5,1079.0L597.7,1083.0L596.7,1085.0L595.5,1087.1L593.5,1090.4L591.8,1093.0L590.3,1095.0L588.7,1097.0L587.0,1099.0L585.1,1101.0L583.1,1103.0L581.0,1105.0L578.6,1107.0L576.1,1109.0L573.5,1110.8L571.5,1112.2L569.5,1113.4L566.7,1115.0L563.5,1116.7L561.5,1117.7L558.6,1119.0L555.5,1120.3L553.5,1121.0L549.5,1122.5L547.5,1123.1L543.5,1124.2L540.5,1125.0L537.5,1125.7L533.5,1126.5L530.8,1127.0L527.5,1127.6L523.5,1128.1L519.5,1128.6L515.5,1128.9L513.5,1129.0L513.5,1129.0 M509.5,1121.0L505.5,1121.2L501.5,1121.3L497.5,1121.3L493.5,1121.2L489.9,1121.0L487.5,1120.9L483.5,1120.6L479.5,1120.3L475.5,1119.8L471.5,1119.4L468.8,1119.0L465.5,1118.6L461.5,1118.0L457.5,1117.3L455.5,1117.0L451.5,1116.4L447.5,1115.7L443.5,1115.1L441.5,1114.8L437.5,1114.2L433.5,1113.7L429.5,1113.2L427.5,1113.0L423.5,1112.7L419.5,1112.4L415.5,1112.2L411.5,1112.2L407.5,1112.2L403.5,1112.2L399.5,1112.4L395.5,1112.5L391.5,1112.7L387.5,1113.0L385.5,1113.1L381.5,1113.3L377.5,1113.6L373.5,1113.8L369.5,1114.0L365.5,1114.1L361.5,1114.2L357.5,1114.3L353.5,1114.3L349.5,1114.3L345.5,1114.2L341.5,1114.0L337.5,1113.9L333.5,1113.6L329.5,1113.3L326.0,1113.0L323.5,1112.8L319.5,1112.4L315.5,1111.9L311.5,1111.4L308.7,1111.0L305.5,1110.5L301.5,1109.9L297.5,1109.2L295.5,1108.9L291.5,1108.2L287.5,1107.3L285.5,1106.9L281.5,1106.1L277.5,1105.1L275.5,1104.6L271.5,1103.6L269.2,1103.0L265.5,1102.0L262.1,1101.0L259.5,1100.2L255.8,1099.0L253.5,1098.3L249.9,1097.0L247.5,1096.1L244.6,1095.0L241.5,1093.8L239.5,1092.9L235.5,1091.1L233.5,1090.2L231.0,1089.0L227.5,1087.2L225.5,1086.1L223.5,1085.0L220.1,1083.0L217.5,1081.3L215.5,1080.0L213.5,1078.7L211.2,1077.0L208.5,1075.0L206.0,1073.0L203.6,1071.0L201.5,1069.2L199.5,1067.4L197.5,1065.6L195.5,1063.7L193.5,1061.8L191.5,1059.9L189.5,1058.1L187.5,1056.2L185.5,1054.5L183.5,1052.8L181.1,1051.0L178.2,1049.0L175.5,1047.4L173.5,1046.3L170.6,1045.0L167.5,1043.8L165.3,1043.0L161.5,1041.9L157.9,1041.0L155.5,1040.5L151.5,1039.7L147.5,1039.0L145.5,1038.7L141.5,1038.1L137.5,1037.5L134.7,1037.0L131.5,1036.5L127.5,1035.9L123.5,1035.1L121.5,1034.8L117.5,1034.0L113.5,1033.1L111.5,1032.7L107.5,1031.7L104.8,1031.0L101.5,1030.1L97.7,1029.0L95.5,1028.4L91.5,1027.1L89.5,1026.4L85.6,1025.0L83.5,1024.3L80.2,1023.0L77.5,1022.0L75.0,1021.0L71.5,1019.6L69.5,1018.8L65.5,1017.2L63.5,1016.3L60.3,1015.0L57.5,1013.9L55.4,1013.0L51.5,1011.5L49.5,1010.7L45.5,1009.1L43.5,1008.3L40.1,1007.0L37.5,1006.0L34.8,1005.0L31.5,1003.8L29.5,1003.0L25.5,1001.5L23.5,1000.7L19.5,999.1L17.5,998.3L14.4,997.0L11.5,995.7L9.5,994.8L5.7,993.0L3.5,991.9L1.5,990.9L-1.8,989.0L-4.5,987.4L-6.5,986.1L-8.5,984.8L-10.9,983.0L-13.5,981.0L-15.8,979.0L-17.9,977.0L-19.8,975.0L-21.6,973.0L-23.1,971.0L-24.5,969.0L-26.5,965.6L-27.8,963.0L-28.6,961.0L-29.8,957.0L-30.4,953.0L-30.5,949.0L-30.0,945.0L-29.0,941.0L-28.2,939.0L-26.5,935.5L-25.0,933.0L-23.6,931.0L-22.0,929.0L-20.2,927.0L-18.2,925.0L-15.9,923.0L-13.5,921.0L-10.7,919.0L-8.5,917.5L-6.5,916.2L-4.4,915.0L-0.8,913.0L1.5,911.8L3.5,910.8L7.3,909.0L9.5,908.0L11.8,907.0L15.5,905.5L17.5,904.7L21.5,903.1L23.5,902.3L27.1,901.0L29.5,900.1L32.6,899.0L35.5,898.0L38.3,897.0L41.5,895.9L44.1,895.0L47.5,893.8L50.0,893.0L53.5,891.8L56.0,891.0L59.5,889.9L62.2,889.0L65.5,888.0L68.7,887.0L71.5,886.1L75.5,885.0L77.5,884.4L81.5,883.3L83.5,882.8L87.5,881.7L90.5,881.0L93.5,880.3L97.5,879.4L99.5,879.0L103.5,878.1L107.5,877.4L110.0,877.0L113.5,876.4L117.5,875.8L121.5,875.3L124.4,875.0L127.5,874.7L131.5,874.3L135.5,874.0L139.5,873.8L143.5,873.7L147.5,873.6L151.5,873.7L155.5,873.7L159.5,873.9L163.5,874.1L167.5,874.4L171.5,874.9L173.5,875.1L177.5,875.6L181.5,876.2L185.5,876.9L187.5,877.3L191.5,878.1L195.1,879.0L197.5,879.6L201.5,880.8L203.5,881.4L207.5,882.7L209.5,883.5L213.4,885.0L215.5,885.9L217.9,887.0L221.5,888.7L223.5,889.8L225.7,891.0L229.2,893.0L231.5,894.4L233.5,895.7L235.5,897.1L238.2,899.0L240.9,901.0L243.5,903.0L245.5,904.6L247.5,906.3L249.5,908.0L251.5,909.8L253.5,911.6L255.5,913.5L257.5,915.4L259.5,917.3L261.5,919.2L263.5,921.2L265.5,923.2L267.5,925.2L269.5,927.2L271.5,929.1L273.5,931.1L275.5,933.0L277.7,935.0L280.0,937.0L282.5,939.0L285.1,941.0L287.5,942.7L289.5,943.9L291.5,945.1L295.2,947.0L297.5,948.0L299.9,949.0L303.5,950.2L305.9,951.0L309.5,951.9L313.5,952.8L315.5,953.2L319.5,953.9L323.5,954.5L327.3,955.0L329.5,955.2L333.5,955.7L337.5,956.0L341.5,956.4L345.5,956.7L349.5,956.9L351.5,957.0L355.5,957.2L359.5,957.2L363.5,957.1L366.1,957.0L369.5,956.7L373.5,956.0L377.1,955.0L379.5,954.0L381.5,952.8L383.6,951.0L385.5,948.3L386.9,945.0L387.5,942.8L388.1,939.0L388.5,935.0L388.8,931.0L389.2,927.0L389.5,923.8L389.8,921.0L390.4,917.0L391.1,913.0L391.5,910.8L392.3,907.0L393.2,903.0L393.7,901.0L394.7,897.0L395.5,893.6L396.1,891.0L397.1,887.0L397.5,885.0L398.4,881.0L399.2,877.0L399.6,875.0L400.3,871.0L401.0,867.0L401.5,864.3L402.0,861.0L402.7,857.0L403.4,853.0L403.7,851.0L404.3,847.0L404.8,843.0L405.3,839.0L405.5,835.0L405.4,831.0L404.8,827.0L403.5,823.1L402.4,821.0L401.0,819.0L399.3,817.0L396.9,815.0L393.9,813.0L391.5,811.8L389.5,811.0L385.5,809.7L383.0,809.0L379.5,808.3L375.5,807.7L371.5,807.2L369.4,807.0L365.5,806.7L361.5,806.4L357.5,806.2L353.5,805.9L349.5,805.6L345.5,805.3L342.9,805.0L339.5,804.7L335.5,804.2L331.5,803.6L327.5,803.0L325.5,802.7L321.5,801.9L317.5,801.1L315.5,800.6L311.5,799.7L309.1,799.0L305.5,798.0L302.2,797.0L299.5,796.2L296.1,795.0L293.5,794.1L290.6,793.0L287.5,791.8L285.5,791.0L281.5,789.3L279.5,788.4L276.5,787.0L273.5,785.6L271.5,784.6L268.3,783.0L265.5,781.5L263.5,780.4L261.0,779.0L257.5,777.0L255.5,775.8L253.5,774.6L251.1,773.0L248.0,771.0L245.5,769.2L243.5,767.8L241.5,766.3L239.5,764.8L237.3,763.0L235.0,761.0L232.8,759.0L230.7,757.0L228.7,755.0L226.8,753.0L225.1,751.0L223.5,749.0L221.5,746.3L219.5,743.4L218.0,741.0L216.9,739.0L215.5,736.1L214.1,733.0L213.4,731.0L212.0,727.0L211.5,724.9L210.6,721.0L210.1,717.0L209.8,713.0L209.8,709.0L210.1,705.0L210.7,701.0L211.5,697.5L212.2,695.0L213.5,691.3L214.5,689.0L215.5,686.8L217.5,683.2L218.9,681.0L220.3,679.0L221.8,677.0L223.5,674.9L225.5,672.7L227.5,670.7L229.5,668.9L231.7,667.0L234.2,665.0L237.0,663.0L239.5,661.4L241.5,660.1L243.5,659.0L247.1,657.0L249.5,655.8L251.5,654.9L255.5,653.2L257.5,652.4L261.2,651.0L263.5,650.2L267.4,649.0L269.5,648.4L273.5,647.3L275.5,646.8L279.5,645.9L283.5,645.2L285.5,644.8L289.5,644.1L293.5,643.6L297.5,643.1L299.5,642.9L303.5,642.6L307.5,642.3L311.5,642.1L315.5,642.0L319.5,641.9L323.5,641.9L327.5,642.0L331.5,642.1L335.5,642.3L339.5,642.6L343.5,643.0L345.5,643.2L349.5,643.6L353.5,644.1L357.5,644.6L359.8,645.0L363.5,645.6L367.5,646.3L370.8,647.0L373.5,647.5L377.5,648.4L379.8,649.0L383.5,649.9L387.4,651.0L389.5,651.6L393.5,652.8L395.5,653.4L399.5,654.8L401.5,655.5L405.5,656.9L407.5,657.7L410.8,659.0L413.5,660.1L415.6,661.0L419.5,662.7L421.5,663.5L424.7,665.0L427.5,666.2L429.5,667.2L433.5,668.9L435.5,669.8L438.4,671.0L441.5,672.2L443.7,673.0L447.5,674.2L450.6,675.0L453.5,675.6L457.5,676.3L461.5,676.7L465.5,676.9L469.5,676.9L473.5,676.8L477.5,676.6L481.5,676.3L485.5,675.9L489.5,675.6L493.5,675.2L495.8,675.0L499.5,674.7L503.5,674.3L507.5,674.1L511.5,673.9L515.5,673.7L519.5,673.6L523.5,673.6L527.5,673.7L531.5,673.9L535.5,674.1L539.5,674.4L543.5,674.9L545.5,675.1L549.5,675.7L553.5,676.4L556.4,677.0L559.5,677.6L563.5,678.7L565.5,679.2L569.5,680.4L571.5,681.1L575.5,682.5L577.5,683.3L581.4,685.0L583.5,685.9L585.6,687.0L589.4,689.0L591.5,690.2L593.5,691.4L595.9,693.0L598.8,695.0L601.5,697.0L603.5,698.6L605.5,700.3L607.5,702.0L609.5,703.9L611.5,705.9L613.5,708.0L615.5,710.2L617.5,712.6L619.4,715.0L620.9,717.0L622.4,719.0L623.7,721.0L625.5,723.7L627.4,727.0L628.6,729.0L629.6,731.0L631.5,734.7L632.6,737.0L633.5,739.2L635.1,743.0L635.9,745.0L637.3,749.0L638.1,751.0L639.5,755.0L640.2,757.0L641.5,760.6L642.5,763.0L643.5,765.3L645.4,769.0L646.5,771.0L647.8,773.0L649.5,775.4L651.5,778.0L653.5,780.2L655.5,782.3L657.5,784.3L659.5,786.2L661.5,788.1L663.5,789.9L665.5,791.7L667.5,793.5L669.5,795.3L671.5,797.2L673.5,799.1L675.5,801.2L677.5,803.3L679.5,805.5L681.5,808.0L683.5,810.6L685.1,813.0L686.3,815.0L687.5,817.2L689.3,821.0L690.0,823.0L691.1,827.0L691.5,829.2L691.9,833.0L691.8,837.0L691.5,839.3L690.8,843.0L689.5,846.9L688.7,849.0L687.5,851.5L685.6,855.0L684.3,857.0L683.0,859.0L681.5,861.0L679.5,863.5L677.5,865.9L675.5,868.1L673.5,870.2L671.5,872.3L669.5,874.2L667.5,876.1L665.5,878.0L663.5,879.8L661.5,881.6L659.5,883.3L657.5,885.0L655.1,887.0L652.7,889.0L650.2,891.0L647.7,893.0L645.5,894.8L643.5,896.3L641.5,897.9L639.5,899.5L637.5,901.0L634.9,903.0L632.3,905.0L629.7,907.0L627.5,908.7L625.5,910.2L623.5,911.8L621.5,913.3L619.3,915.0L616.8,917.0L614.3,919.0L611.9,921.0L609.5,923.0L607.5,924.8L605.5,926.6L603.5,928.6L601.5,930.6L599.5,932.8L597.7,935.0L596.1,937.0L594.7,939.0L593.3,941.0L591.5,944.0L589.9,947.0L588.9,949.0L587.5,951.9L586.2,955.0L585.3,957.0L583.7,961.0L583.0,963.0L581.5,966.9L580.8,969.0L579.5,973.0L579.0,975.0L578.1,979.0L577.7,983.0L577.7,987.0L578.3,991.0L579.4,995.0L580.2,997.0L581.5,1000.2L582.8,1003.0L583.8,1005.0L585.5,1008.6L586.7,1011.0L587.6,1013.0L589.4,1017.0L590.2,1019.0L591.5,1022.4L592.4,1025.0L593.5,1028.8L594.1,1031.0L595.0,1035.0L595.5,1038.5L595.8,1041.0L596.1,1045.0L596.2,1049.0L596.1,1053.0L595.7,1057.0L595.5,1059.0L594.8,1063.0L593.8,1067.0L593.2,1069.0L591.9,1073.0L591.1,1075.0L589.5,1078.5L588.3,1081.0L587.1,1083.0L585.5,1085.6L583.5,1088.5L581.5,1091.0L579.8,1093.0L578.0,1095.0L576.0,1097.0L573.8,1099.0L571.5,1100.9L569.5,1102.4L567.5,1103.9L565.5,1105.2L562.5,1107.0L559.5,1108.7L557.5,1109.7L554.8,1111.0L551.5,1112.4L549.5,1113.2L545.5,1114.6L543.5,1115.3L539.5,1116.4L537.3,1117.0L533.5,1117.9L529.5,1118.7L527.5,1119.1L523.5,1119.7L519.5,1120.2L515.5,1120.6L511.5,1120.9L509.5,1121.0L509.5,1121.0 M521.5,1113.0L517.5,1113.6L513.5,1114.0L509.5,1114.3L505.5,1114.4L501.5,1114.5L497.5,1114.5L493.5,1114.5L489.5,1114.3L485.5,1114.0L481.5,1113.7L477.5,1113.3L475.0,1113.0L471.5,1112.6L467.5,1112.0L463.5,1111.4L460.9,1111.0L457.5,1110.5L453.5,1109.8L449.5,1109.1L447.5,1108.8L443.5,1108.1L439.5,1107.5L436.3,1107.0L433.5,1106.6L429.5,1106.2L425.5,1105.8L421.5,1105.4L417.5,1105.2L413.5,1105.1L409.5,1105.1L405.5,1105.1L401.5,1105.2L397.5,1105.4L393.5,1105.7L389.5,1105.9L385.5,1106.2L381.5,1106.4L377.5,1106.7L373.5,1106.9L371.5,1107.0L367.5,1107.2L363.5,1107.4L359.5,1107.5L355.5,1107.5L351.5,1107.5L347.5,1107.5L343.5,1107.4L339.5,1107.2L336.0,1107.0L333.5,1106.9L329.5,1106.6L325.5,1106.2L321.5,1105.8L317.5,1105.4L314.7,1105.0L311.5,1104.6L307.5,1104.0L303.5,1103.4L301.4,1103.0L297.5,1102.3L293.5,1101.6L290.9,1101.0L287.5,1100.3L283.5,1099.4L281.5,1098.9L277.5,1097.9L274.0,1097.0L271.5,1096.3L267.5,1095.1L265.5,1094.5L261.5,1093.2L259.5,1092.6L255.5,1091.1L253.5,1090.4L249.9,1089.0L247.5,1088.0L245.2,1087.0L241.5,1085.3L239.5,1084.4L236.8,1083.0L233.5,1081.3L231.5,1080.2L229.5,1079.0L226.3,1077.0L223.5,1075.1L221.5,1073.8L219.5,1072.3L217.5,1070.8L215.3,1069.0L212.9,1067.0L210.7,1065.0L208.5,1063.0L206.4,1061.0L204.4,1059.0L202.5,1057.0L200.6,1055.0L198.6,1053.0L196.7,1051.0L194.7,1049.0L192.5,1047.0L190.2,1045.0L187.6,1043.0L185.5,1041.5L183.5,1040.3L181.1,1039.0L177.5,1037.4L175.5,1036.6L171.5,1035.3L169.5,1034.8L165.5,1033.8L161.5,1033.0L159.5,1032.7L155.5,1032.1L151.5,1031.5L148.1,1031.0L145.5,1030.7L141.5,1030.1L137.5,1029.6L133.8,1029.0L131.5,1028.6L127.5,1028.0L123.5,1027.2L121.5,1026.8L117.5,1026.0L113.5,1025.1L111.5,1024.6L107.5,1023.6L105.5,1023.0L101.5,1021.8L98.9,1021.0L95.5,1019.9L93.0,1019.0L89.5,1017.8L87.5,1017.0L83.5,1015.5L81.5,1014.7L77.5,1013.0L75.5,1012.2L72.7,1011.0L69.5,1009.7L67.5,1008.8L63.5,1007.1L61.5,1006.3L58.5,1005.0L55.5,1003.7L53.5,1002.9L49.5,1001.2L47.5,1000.4L44.0,999.0L41.5,998.0L39.1,997.0L35.5,995.5L33.5,994.7L29.5,993.0L27.5,992.2L24.8,991.0L21.5,989.5L19.5,988.5L16.4,987.0L13.5,985.5L11.5,984.4L9.2,983.0L6.0,981.0L3.5,979.3L1.5,977.8L-0.5,976.2L-2.5,974.5L-4.5,972.5L-6.5,970.4L-8.5,967.9L-10.4,965.0L-11.6,963.0L-12.5,961.0L-13.9,957.0L-14.5,953.5L-14.7,951.0L-14.5,948.1L-14.0,945.0L-12.6,941.0L-11.7,939.0L-10.5,936.9L-8.5,934.0L-6.5,931.6L-4.5,929.5L-2.5,927.6L-0.5,926.0L1.5,924.4L3.5,923.0L6.4,921.0L9.5,919.1L11.5,918.0L13.5,916.9L17.2,915.0L19.5,913.8L21.5,912.9L25.5,911.1L27.5,910.2L30.3,909.0L33.5,907.6L35.5,906.8L39.5,905.2L41.5,904.4L45.2,903.0L47.5,902.1L50.5,901.0L53.5,899.9L55.9,899.0L59.5,897.7L61.5,897.0L65.5,895.6L67.5,894.9L71.5,893.6L73.5,892.9L77.5,891.7L79.7,891.0L83.5,889.9L86.6,889.0L89.5,888.2L93.5,887.2L95.5,886.6L99.5,885.7L102.7,885.0L105.5,884.4L109.5,883.6L113.0,883.0L115.5,882.6L119.5,882.0L123.5,881.4L127.5,881.0L129.5,880.8L133.5,880.4L137.5,880.2L141.5,880.0L145.5,879.9L149.5,879.9L153.5,879.9L157.5,880.1L161.5,880.3L165.5,880.6L169.4,881.0L171.5,881.2L175.5,881.8L179.5,882.4L182.6,883.0L185.5,883.6L189.5,884.5L191.5,885.0L195.5,886.1L198.3,887.0L201.5,888.1L204.0,889.0L207.5,890.4L209.5,891.2L213.3,893.0L215.5,894.1L217.5,895.1L220.8,897.0L223.5,898.6L225.5,899.9L227.5,901.3L230.0,903.0L232.7,905.0L235.2,907.0L237.5,908.9L239.5,910.6L241.5,912.4L243.5,914.2L245.5,916.1L247.5,918.0L249.5,920.0L251.5,922.1L253.5,924.2L255.5,926.3L257.5,928.4L259.5,930.5L261.5,932.7L263.5,934.8L265.5,936.9L267.5,938.9L269.5,940.9L271.5,942.7L273.5,944.5L275.5,946.2L277.5,947.7L279.5,949.2L282.3,951.0L285.5,952.8L287.5,953.8L290.3,955.0L293.5,956.2L296.0,957.0L299.5,957.9L303.5,958.9L305.5,959.3L309.5,960.0L313.5,960.6L316.3,961.0L319.5,961.4L323.5,961.8L327.5,962.2L331.5,962.6L335.5,963.0L337.5,963.2L341.5,963.5L345.5,963.8L349.5,964.1L353.5,964.4L357.5,964.7L361.5,965.0L363.5,965.1L367.5,965.2L371.5,965.3L375.5,965.2L379.5,965.1L381.5,964.9L385.5,964.3L389.5,963.3L391.5,962.5L394.3,961.0L396.6,959.0L398.1,957.0L399.5,953.5L400.0,951.0L400.3,947.0L400.4,943.0L400.3,939.0L400.3,935.0L400.3,931.0L400.4,927.0L400.7,923.0L401.2,919.0L401.5,916.8L402.1,913.0L402.9,909.0L403.5,906.2L404.2,903.0L405.1,899.0L405.6,897.0L406.5,893.0L407.4,889.0L407.9,887.0L408.7,883.0L409.5,879.0L409.8,877.0L410.5,873.0L411.2,869.0L411.6,867.0L412.3,863.0L413.0,859.0L413.5,856.1L414.1,853.0L414.8,849.0L415.5,845.4L415.9,843.0L416.6,839.0L417.2,835.0L417.5,831.7L417.6,829.0L417.5,826.3L417.1,823.0L415.9,819.0L414.9,817.0L413.5,814.7L411.5,812.2L409.5,810.2L407.5,808.6L405.2,807.0L401.6,805.0L399.5,804.1L396.6,803.0L393.5,802.1L389.5,801.1L387.5,800.7L383.5,800.2L379.5,799.8L375.5,799.5L371.5,799.2L367.5,799.1L365.5,799.0L361.5,798.9L357.5,798.7L353.5,798.5L349.5,798.3L345.5,798.0L341.5,797.7L337.5,797.2L335.5,797.0L331.5,796.5L327.5,795.8L323.5,795.1L321.5,794.7L317.5,793.8L314.1,793.0L311.5,792.4L307.5,791.2L305.5,790.7L301.5,789.4L299.5,788.7L295.5,787.3L293.5,786.6L289.5,785.0L287.5,784.2L284.7,783.0L281.5,781.6L279.5,780.7L276.0,779.0L273.5,777.8L271.5,776.7L268.3,775.0L265.5,773.5L263.5,772.3L261.3,771.0L258.1,769.0L255.5,767.3L253.5,766.0L251.5,764.5L249.4,763.0L246.8,761.0L244.3,759.0L242.0,757.0L239.9,755.0L237.8,753.0L235.9,751.0L234.2,749.0L232.5,747.0L231.0,745.0L229.5,742.9L227.5,739.8L225.9,737.0L224.9,735.0L223.5,731.9L222.4,729.0L221.5,726.1L220.7,723.0L220.0,719.0L219.6,715.0L219.5,711.0L219.8,707.0L220.3,703.0L221.3,699.0L221.9,697.0L223.4,693.0L224.3,691.0L225.5,688.6L227.5,685.3L229.0,683.0L230.5,681.0L232.2,679.0L234.0,677.0L236.1,675.0L238.3,673.0L240.7,671.0L243.3,669.0L245.5,667.5L247.5,666.2L249.5,665.0L253.1,663.0L255.5,661.8L257.5,660.8L261.5,659.1L263.5,658.3L267.0,657.0L269.5,656.1L273.3,655.0L275.5,654.3L279.5,653.3L281.5,652.9L285.5,652.0L289.5,651.3L291.5,650.9L295.5,650.3L299.5,649.8L303.5,649.4L307.5,649.1L309.6,649.0L313.5,648.8L317.5,648.7L321.5,648.6L325.5,648.7L329.5,648.8L333.5,648.9L335.5,649.1L339.5,649.3L343.5,649.7L347.5,650.1L351.5,650.6L354.5,651.0L357.5,651.4L361.5,652.1L365.5,652.8L367.5,653.2L371.5,654.1L375.3,655.0L377.5,655.5L381.5,656.6L383.5,657.1L387.5,658.3L389.6,659.0L393.5,660.2L395.6,661.0L399.5,662.4L401.5,663.2L405.5,664.8L407.5,665.6L410.6,667.0L413.5,668.3L415.5,669.2L419.3,671.0L421.5,672.0L423.5,673.0L427.5,675.0L429.5,675.9L431.8,677.0L435.5,678.6L437.5,679.5L441.5,681.0L443.5,681.6L447.5,682.7L449.5,683.2L453.5,683.9L457.5,684.3L461.5,684.5L465.5,684.5L469.5,684.4L473.5,684.1L477.5,683.8L481.5,683.4L484.9,683.0L487.5,682.7L491.5,682.2L495.5,681.8L499.5,681.4L503.5,681.1L505.5,680.9L509.5,680.7L513.5,680.5L517.5,680.3L521.5,680.3L525.5,680.3L529.5,680.5L533.5,680.7L537.0,681.0L539.5,681.2L543.5,681.7L547.5,682.3L551.4,683.0L553.5,683.4L557.5,684.3L560.1,685.0L563.5,685.9L566.8,687.0L569.5,687.9L572.3,689.0L575.5,690.3L577.5,691.2L581.2,693.0L583.5,694.2L585.5,695.3L588.3,697.0L591.3,699.0L593.5,700.5L595.5,702.0L597.5,703.6L599.5,705.3L601.5,707.1L603.5,709.0L605.5,711.0L607.5,713.1L609.5,715.4L611.5,717.9L613.5,720.6L615.2,723.0L616.5,725.0L617.7,727.0L619.5,730.1L621.1,733.0L622.0,735.0L623.5,738.3L624.6,741.0L625.5,743.4L626.8,747.0L627.5,749.3L628.6,753.0L629.5,756.2L630.3,759.0L631.4,763.0L632.0,765.0L633.4,769.0L634.2,771.0L635.5,773.8L637.3,777.0L638.6,779.0L640.0,781.0L641.7,783.0L643.5,785.1L645.5,787.1L647.5,789.1L649.5,791.0L651.7,793.0L654.0,795.0L656.2,797.0L658.4,799.0L660.5,801.0L662.5,803.0L664.5,805.0L666.3,807.0L668.0,809.0L669.6,811.0L671.5,813.6L673.5,816.7L674.8,819.0L675.7,821.0L677.2,825.0L677.8,827.0L678.5,831.0L678.8,835.0L678.5,839.0L677.8,843.0L677.2,845.0L675.8,849.0L674.9,851.0L673.5,853.7L671.6,857.0L670.3,859.0L668.9,861.0L667.4,863.0L665.5,865.3L663.5,867.7L661.5,869.9L659.5,872.0L657.5,874.1L655.5,876.0L653.5,878.0L651.5,879.8L649.5,881.7L647.5,883.4L645.5,885.2L643.4,887.0L641.0,889.0L638.7,891.0L636.2,893.0L633.7,895.0L631.5,896.8L629.5,898.4L627.5,900.0L625.5,901.5L623.5,903.1L621.0,905.0L618.4,907.0L615.8,909.0L613.5,910.8L611.5,912.3L609.5,913.9L607.5,915.5L605.5,917.1L603.1,919.0L600.8,921.0L598.5,923.0L596.3,925.0L594.3,927.0L592.4,929.0L590.6,931.0L588.9,933.0L587.3,935.0L585.5,937.6L583.5,940.7L582.2,943.0L581.1,945.0L579.5,948.2L578.2,951.0L577.3,953.0L575.6,957.0L574.8,959.0L573.5,962.0L572.3,965.0L571.5,967.0L570.0,971.0L569.3,973.0L568.2,977.0L567.5,980.3L567.2,983.0L567.2,987.0L567.5,989.0L568.5,993.0L569.5,995.6L571.0,999.0L572.1,1001.0L573.5,1003.6L575.4,1007.0L576.5,1009.0L577.6,1011.0L579.5,1014.5L580.8,1017.0L581.7,1019.0L583.4,1023.0L584.2,1025.0L585.5,1028.8L586.2,1031.0L587.1,1035.0L587.5,1037.0L588.1,1041.0L588.5,1045.0L588.6,1049.0L588.4,1053.0L588.0,1057.0L587.5,1059.8L586.9,1063.0L585.7,1067.0L585.1,1069.0L583.5,1072.9L582.5,1075.0L581.5,1077.0L579.5,1080.4L577.8,1083.0L576.3,1085.0L574.7,1087.0L573.0,1089.0L571.0,1091.0L568.9,1093.0L566.6,1095.0L564.0,1097.0L561.5,1098.8L559.5,1100.1L557.5,1101.3L554.3,1103.0L551.5,1104.4L549.5,1105.3L545.5,1106.9L543.5,1107.7L539.5,1109.0L537.5,1109.6L533.5,1110.7L531.5,1111.2L527.5,1112.0L523.5,1112.7L521.5,1113.0L521.5,1113.0 M519.5,1107.2L515.5,1107.7L511.5,1108.1L507.5,1108.4L503.5,1108.6L499.5,1108.7L495.5,1108.6L491.5,1108.5L487.5,1108.3L483.5,1108.0L479.5,1107.6L475.5,1107.2L473.5,1106.9L469.5,1106.4L465.5,1105.8L461.5,1105.1L459.5,1104.8L455.5,1104.1L451.5,1103.4L449.5,1103.0L445.5,1102.3L441.5,1101.6L437.6,1101.0L435.5,1100.7L431.5,1100.2L427.5,1099.7L423.5,1099.3L419.5,1099.1L417.5,1099.0L413.5,1098.9L409.5,1098.8L405.5,1098.9L402.6,1099.0L399.5,1099.1L395.5,1099.4L391.5,1099.7L387.5,1100.0L383.5,1100.2L379.5,1100.5L375.5,1100.8L372.0,1101.0L369.5,1101.1L365.5,1101.3L361.5,1101.5L357.5,1101.6L353.5,1101.6L349.5,1101.6L345.5,1101.5L341.5,1101.4L337.5,1101.2L334.1,1101.0L331.5,1100.8L327.5,1100.5L323.5,1100.1L319.5,1099.7L315.5,1099.2L313.5,1098.9L309.5,1098.3L305.5,1097.7L301.6,1097.0L299.5,1096.6L295.5,1095.8L291.6,1095.0L289.5,1094.6L285.5,1093.6L283.0,1093.0L279.5,1092.1L275.6,1091.0L273.5,1090.4L269.5,1089.2L267.5,1088.5L263.5,1087.2L261.5,1086.5L257.7,1085.0L255.5,1084.1L252.8,1083.0L249.5,1081.5L247.5,1080.6L244.3,1079.0L241.5,1077.6L239.5,1076.5L237.0,1075.0L233.8,1073.0L231.5,1071.5L229.5,1070.1L227.5,1068.7L225.4,1067.0L222.9,1065.0L220.6,1063.0L218.4,1061.0L216.4,1059.0L214.4,1057.0L212.6,1055.0L210.7,1053.0L209.0,1051.0L207.3,1049.0L205.5,1047.0L203.5,1044.7L201.5,1042.5L199.5,1040.5L197.5,1038.6L195.5,1036.9L192.8,1035.0L189.6,1033.0L187.5,1031.9L185.4,1031.0L181.5,1029.6L179.5,1028.9L175.5,1027.9L171.5,1027.1L169.5,1026.7L165.5,1026.1L161.5,1025.6L157.5,1025.1L155.5,1024.8L151.5,1024.4L147.5,1023.9L143.5,1023.4L140.4,1023.0L137.5,1022.6L133.5,1022.0L129.5,1021.3L127.5,1021.0L123.5,1020.2L119.5,1019.3L117.5,1018.9L113.5,1017.9L110.3,1017.0L107.5,1016.2L103.6,1015.0L101.5,1014.3L97.7,1013.0L95.5,1012.2L92.2,1011.0L89.5,1010.0L87.2,1009.0L83.5,1007.5L81.5,1006.6L77.7,1005.0L75.5,1004.0L73.2,1003.0L69.5,1001.4L67.5,1000.5L64.2,999.0L61.5,997.8L59.5,996.9L55.5,995.1L53.5,994.3L50.7,993.0L47.5,991.6L45.5,990.7L41.7,989.0L39.5,988.0L37.3,987.0L33.5,985.2L31.5,984.2L29.2,983.0L25.5,981.0L23.5,979.9L21.5,978.7L18.8,977.0L15.9,975.0L13.5,973.1L11.5,971.4L9.5,969.5L7.5,967.4L5.6,965.0L4.2,963.0L3.1,961.0L1.5,957.1L1.0,955.0L0.5,951.0L0.9,947.0L1.5,944.8L3.0,941.0L4.2,939.0L5.5,937.0L7.5,934.5L9.5,932.4L11.5,930.5L13.5,928.8L15.8,927.0L18.7,925.0L21.5,923.2L23.5,921.9L25.5,920.8L28.7,919.0L31.5,917.5L33.5,916.5L36.6,915.0L39.5,913.6L41.5,912.7L45.2,911.0L47.5,910.0L49.8,909.0L53.5,907.4L55.5,906.6L59.5,905.0L61.5,904.2L64.6,903.0L67.5,901.9L69.9,901.0L73.5,899.7L75.5,899.0L79.5,897.6L81.5,897.0L85.5,895.7L87.8,895.0L91.5,893.9L94.8,893.0L97.5,892.3L101.5,891.3L103.5,890.8L107.5,889.9L111.5,889.1L113.5,888.7L117.5,888.0L121.5,887.4L124.5,887.0L127.5,886.6L131.5,886.2L135.5,885.9L139.5,885.6L143.5,885.5L147.5,885.4L151.5,885.4L155.5,885.6L159.5,885.8L163.5,886.1L167.5,886.5L171.5,887.0L173.5,887.3L177.5,888.0L181.5,888.8L183.5,889.2L187.5,890.2L190.4,891.0L193.5,891.9L196.6,893.0L199.5,894.1L201.8,895.0L205.5,896.6L207.5,897.6L210.4,899.0L213.5,900.7L215.5,901.9L217.5,903.1L220.3,905.0L223.2,907.0L225.5,908.7L227.5,910.3L229.5,912.0L231.5,913.7L233.5,915.5L235.5,917.4L237.5,919.3L239.5,921.3L241.5,923.4L243.5,925.5L245.5,927.7L247.5,929.9L249.5,932.2L251.5,934.5L253.5,936.8L255.4,939.0L257.2,941.0L259.0,943.0L260.8,945.0L262.7,947.0L264.7,949.0L266.8,951.0L269.1,953.0L271.5,954.9L273.5,956.2L275.5,957.5L278.2,959.0L281.5,960.6L283.5,961.4L287.5,962.7L289.5,963.3L293.5,964.3L297.0,965.0L299.5,965.4L303.5,966.0L307.5,966.5L311.5,967.0L313.5,967.2L317.5,967.5L321.5,967.9L325.5,968.2L329.5,968.6L333.5,968.9L335.5,969.1L339.5,969.4L343.5,969.7L347.5,970.1L351.5,970.4L355.5,970.8L357.8,971.0L361.5,971.3L365.5,971.6L369.5,971.9L373.5,972.2L377.5,972.4L381.5,972.6L385.5,972.6L389.5,972.5L393.5,972.3L397.5,971.7L400.9,971.0L403.5,970.1L405.9,969.0L408.6,967.0L410.3,965.0L411.5,962.4L412.3,959.0L412.4,955.0L412.1,951.0L411.6,947.0L411.4,945.0L410.9,941.0L410.6,937.0L410.4,933.0L410.3,929.0L410.5,925.0L410.8,921.0L411.3,917.0L411.6,915.0L412.3,911.0L413.1,907.0L413.6,905.0L414.5,901.0L415.4,897.0L415.8,895.0L416.7,891.0L417.5,887.0L417.9,885.0L418.6,881.0L419.3,877.0L419.6,875.0L420.3,871.0L420.9,867.0L421.5,863.9L422.0,861.0L422.8,857.0L423.5,853.4L424.0,851.0L424.9,847.0L425.5,844.4L426.3,841.0L427.1,837.0L427.6,835.0L428.2,831.0L428.6,827.0L428.6,823.0L428.1,819.0L427.5,817.0L425.7,813.0L424.5,811.0L422.9,809.0L421.1,807.0L419.0,805.0L416.4,803.0L413.5,801.0L411.5,799.9L409.5,798.8L405.5,797.0L403.5,796.3L399.5,795.1L397.5,794.6L393.5,793.8L389.5,793.2L387.1,793.0L383.5,792.7L379.5,792.6L375.5,792.5L371.5,792.4L367.5,792.4L363.5,792.4L359.5,792.3L355.5,792.2L351.5,792.1L347.5,791.9L343.5,791.6L339.5,791.2L337.5,791.0L333.5,790.5L329.5,789.9L325.5,789.2L323.5,788.8L319.5,788.0L315.5,787.1L313.5,786.6L309.5,785.5L307.5,784.9L303.5,783.7L301.5,783.0L297.5,781.6L295.5,780.9L291.5,779.3L289.5,778.5L286.1,777.0L283.5,775.9L281.5,774.9L277.6,773.0L275.5,772.0L273.5,770.9L270.1,769.0L267.5,767.5L265.5,766.3L263.5,765.0L260.4,763.0L257.6,761.0L255.5,759.5L253.5,757.9L251.5,756.3L249.5,754.6L247.5,752.8L245.5,750.8L243.5,748.8L241.5,746.5L239.5,744.1L237.5,741.3L235.9,739.0L234.7,737.0L233.5,734.7L231.8,731.0L231.0,729.0L229.7,725.0L229.2,723.0L228.5,719.0L228.1,715.0L228.1,711.0L228.5,707.0L229.2,703.0L229.7,701.0L231.0,697.0L231.9,695.0L233.5,691.7L235.1,689.0L236.4,687.0L237.9,685.0L239.5,683.0L241.5,680.8L243.5,678.8L245.5,677.0L248.0,675.0L250.7,673.0L253.5,671.1L255.5,669.9L257.5,668.7L260.8,667.0L263.5,665.7L265.5,664.8L269.5,663.2L271.5,662.4L275.5,661.1L277.5,660.5L281.5,659.4L283.5,658.9L287.5,658.0L291.5,657.2L293.5,656.8L297.5,656.2L301.5,655.7L305.5,655.3L309.1,655.0L311.5,654.8L315.5,654.6L319.5,654.5L323.5,654.5L327.5,654.5L331.5,654.7L335.5,654.9L337.5,655.0L341.5,655.3L345.5,655.7L349.5,656.2L353.5,656.8L355.5,657.1L359.5,657.7L363.5,658.5L366.0,659.0L369.5,659.7L373.5,660.7L375.5,661.2L379.5,662.3L381.8,663.0L385.5,664.1L388.1,665.0L391.5,666.2L393.7,667.0L397.5,668.5L399.5,669.3L403.5,671.0L405.5,671.9L407.9,673.0L411.5,674.7L413.5,675.7L416.0,677.0L419.5,678.8L421.5,679.8L423.7,681.0L427.5,683.0L429.5,683.9L431.7,685.0L435.5,686.7L437.5,687.5L441.5,688.9L443.5,689.5L447.5,690.4L451.3,691.0L453.5,691.2L457.5,691.4L461.5,691.4L465.5,691.3L469.1,691.0L471.5,690.8L475.5,690.3L479.5,689.8L483.5,689.3L485.7,689.0L489.5,688.5L493.5,688.0L497.5,687.5L501.5,687.1L503.5,686.9L507.5,686.6L511.5,686.4L515.5,686.2L519.5,686.1L523.5,686.1L527.5,686.2L531.5,686.4L535.5,686.7L537.9,687.0L541.5,687.4L545.5,688.0L549.5,688.7L551.5,689.2L555.5,690.1L558.9,691.0L561.5,691.8L565.2,693.0L567.5,693.8L570.4,695.0L573.5,696.4L575.5,697.3L578.8,699.0L581.5,700.5L583.5,701.7L585.5,703.0L588.4,705.0L591.0,707.0L593.4,709.0L595.5,710.8L597.5,712.7L599.5,714.7L601.5,716.9L603.3,719.0L604.9,721.0L606.4,723.0L607.8,725.0L609.5,727.6L611.5,730.9L612.6,733.0L613.6,735.0L615.4,739.0L616.2,741.0L617.5,744.7L618.2,747.0L619.3,751.0L619.8,753.0L620.7,757.0L621.5,761.0L621.9,763.0L622.7,767.0L623.5,770.3L624.3,773.0L625.5,776.4L626.7,779.0L627.7,781.0L629.5,783.7L631.5,786.3L633.5,788.6L635.5,790.7L637.5,792.6L639.5,794.4L641.5,796.2L643.5,798.0L645.5,799.7L647.5,801.5L649.5,803.3L651.5,805.2L653.5,807.2L655.5,809.3L657.5,811.6L659.5,814.2L661.5,817.0L662.7,819.0L663.8,821.0L665.5,824.9L666.2,827.0L667.1,831.0L667.5,834.7L667.5,837.0L667.4,839.0L666.8,843.0L665.7,847.0L664.9,849.0L663.5,852.2L662.1,855.0L660.9,857.0L659.5,859.2L657.5,862.1L655.5,864.7L653.7,867.0L651.9,869.0L650.2,871.0L648.3,873.0L646.4,875.0L644.4,877.0L642.3,879.0L640.2,881.0L638.0,883.0L635.7,885.0L633.5,886.9L631.5,888.7L629.5,890.4L627.5,892.0L625.5,893.7L623.5,895.3L621.3,897.0L618.8,899.0L616.3,901.0L613.7,903.0L611.5,904.7L609.5,906.2L607.5,907.7L605.5,909.2L603.2,911.0L600.6,913.0L598.1,915.0L595.6,917.0L593.5,918.7L591.5,920.4L589.5,922.2L587.5,924.1L585.5,926.1L583.5,928.2L581.5,930.5L579.5,933.0L578.0,935.0L576.7,937.0L575.4,939.0L573.5,942.4L572.2,945.0L571.2,947.0L569.5,950.6L568.4,953.0L567.5,955.0L565.7,959.0L564.8,961.0L563.5,964.0L562.2,967.0L561.3,969.0L559.7,973.0L558.9,975.0L557.8,979.0L557.4,981.0L557.1,985.0L557.5,989.0L558.0,991.0L559.5,995.0L560.5,997.0L561.6,999.0L563.5,1002.1L565.4,1005.0L566.7,1007.0L568.0,1009.0L569.5,1011.3L571.5,1014.6L572.9,1017.0L574.0,1019.0L575.5,1022.1L576.8,1025.0L577.6,1027.0L579.0,1031.0L579.6,1033.0L580.5,1037.0L581.2,1041.0L581.5,1044.4L581.6,1047.0L581.6,1051.0L581.5,1053.0L581.0,1057.0L580.2,1061.0L579.5,1063.5L578.4,1067.0L577.5,1069.2L575.7,1073.0L574.7,1075.0L573.4,1077.0L571.5,1079.9L569.5,1082.4L567.5,1084.7L565.5,1086.8L563.5,1088.7L561.5,1090.4L559.5,1091.9L557.5,1093.4L555.0,1095.0L551.6,1097.0L549.5,1098.1L547.5,1099.1L543.5,1100.9L541.5,1101.7L537.7,1103.0L535.5,1103.7L531.5,1104.8L529.5,1105.3L525.5,1106.2L521.5,1106.9L519.5,1107.2L519.5,1107.2 M505.5,1103.1L501.5,1103.3L497.5,1103.3L493.5,1103.2L489.5,1103.0L487.5,1102.9L483.5,1102.6L479.5,1102.3L475.5,1101.8L471.5,1101.2L469.5,1100.9L465.5,1100.3L461.5,1099.6L458.0,1099.0L455.5,1098.5L451.5,1097.8L447.5,1097.0L445.5,1096.7L441.5,1096.0L437.5,1095.3L435.5,1095.0L431.5,1094.5L427.5,1094.0L423.5,1093.6L419.5,1093.3L415.5,1093.2L411.5,1093.1L407.5,1093.1L403.5,1093.3L399.5,1093.5L395.5,1093.7L391.5,1094.0L387.5,1094.4L383.5,1094.7L379.5,1095.0L377.5,1095.2L373.5,1095.5L369.5,1095.7L365.5,1095.9L361.5,1096.1L357.5,1096.2L353.5,1096.3L349.5,1096.3L345.5,1096.2L341.5,1096.1L337.5,1095.9L333.5,1095.6L329.5,1095.3L326.0,1095.0L323.5,1094.8L319.5,1094.3L315.5,1093.8L311.5,1093.2L309.5,1092.9L305.5,1092.2L301.5,1091.5L299.1,1091.0L295.5,1090.3L291.5,1089.4L289.5,1088.9L285.5,1087.9L282.2,1087.0L279.5,1086.3L275.5,1085.0L273.5,1084.4L269.5,1083.1L267.5,1082.4L263.9,1081.0L261.5,1080.1L258.9,1079.0L255.5,1077.5L253.5,1076.5L250.4,1075.0L247.5,1073.5L245.5,1072.4L243.2,1071.0L240.0,1069.0L237.5,1067.3L235.5,1065.8L233.5,1064.3L231.5,1062.7L229.5,1061.0L227.3,1059.0L225.3,1057.0L223.3,1055.0L221.5,1053.0L219.5,1050.7L217.5,1048.2L215.5,1045.6L213.5,1043.0L212.0,1041.0L210.4,1039.0L208.8,1037.0L207.1,1035.0L205.2,1033.0L203.1,1031.0L200.7,1029.0L197.7,1027.0L195.5,1025.8L193.5,1024.8L189.5,1023.3L187.5,1022.7L183.5,1021.7L179.8,1021.0L177.5,1020.6L173.5,1020.1L169.5,1019.6L165.5,1019.2L163.5,1019.0L159.5,1018.6L155.5,1018.3L151.5,1017.9L147.5,1017.5L143.5,1017.0L141.5,1016.8L137.5,1016.2L133.5,1015.6L130.1,1015.0L127.5,1014.5L123.5,1013.7L120.6,1013.0L117.5,1012.3L113.5,1011.2L111.5,1010.6L107.5,1009.4L105.5,1008.7L101.5,1007.3L99.5,1006.6L95.5,1005.1L93.5,1004.3L90.5,1003.0L87.5,1001.7L85.5,1000.9L81.5,999.1L79.5,998.2L77.0,997.0L73.5,995.4L71.5,994.4L68.5,993.0L65.5,991.6L63.5,990.6L60.2,989.0L57.5,987.7L55.5,986.7L52.0,985.0L49.5,983.7L47.5,982.7L44.2,981.0L41.5,979.6L39.5,978.4L37.0,977.0L33.8,975.0L31.5,973.5L29.5,972.0L27.5,970.5L25.5,968.8L23.5,966.9L21.5,964.7L19.5,962.1L17.7,959.0L16.8,957.0L15.8,953.0L15.8,949.0L16.7,945.0L17.5,942.9L19.5,939.4L21.3,937.0L23.0,935.0L25.0,933.0L27.3,931.0L29.5,929.2L31.5,927.8L33.5,926.3L35.5,925.0L38.7,923.0L41.5,921.4L43.5,920.2L45.8,919.0L49.5,917.1L51.5,916.0L53.6,915.0L57.5,913.1L59.5,912.2L62.2,911.0L65.5,909.5L67.5,908.7L71.5,907.0L73.5,906.2L76.6,905.0L79.5,903.9L82.0,903.0L85.5,901.8L87.8,901.0L91.5,899.8L94.1,899.0L97.5,898.0L101.1,897.0L103.5,896.4L107.5,895.4L109.5,895.0L113.5,894.1L117.5,893.4L119.6,893.0L123.5,892.4L127.5,891.8L131.5,891.4L135.5,891.1L137.5,890.9L141.5,890.7L145.5,890.6L149.5,890.6L153.5,890.7L157.5,890.9L159.5,891.0L163.5,891.4L167.5,891.8L171.5,892.4L174.8,893.0L177.5,893.5L181.5,894.4L183.7,895.0L187.5,896.1L190.3,897.0L193.5,898.1L195.7,899.0L199.5,900.6L201.5,901.5L204.5,903.0L207.5,904.6L209.5,905.8L211.5,907.1L214.4,909.0L217.2,911.0L219.5,912.7L221.5,914.4L223.5,916.1L225.5,917.9L227.5,919.7L229.5,921.7L231.5,923.7L233.5,925.9L235.5,928.1L237.5,930.3L239.5,932.7L241.4,935.0L243.0,937.0L244.7,939.0L246.2,941.0L247.8,943.0L249.5,945.1L251.5,947.6L253.5,950.1L255.5,952.4L257.5,954.6L259.5,956.7L261.5,958.6L263.5,960.3L265.5,961.8L267.5,963.2L270.7,965.0L273.5,966.3L275.5,967.1L279.5,968.5L281.5,969.0L285.5,969.9L289.5,970.7L291.7,971.0L295.5,971.5L299.5,971.9L303.5,972.3L307.5,972.6L311.5,972.9L313.5,973.0L317.5,973.3L321.5,973.5L325.5,973.8L329.5,974.1L333.5,974.4L337.5,974.7L341.3,975.0L343.5,975.2L347.5,975.5L351.5,975.9L355.5,976.3L359.5,976.7L362.2,977.0L365.5,977.3L369.5,977.7L373.5,978.1L377.5,978.5L381.5,978.9L383.5,979.0L387.5,979.3L391.5,979.5L395.5,979.6L399.5,979.6L403.5,979.4L407.2,979.0L409.5,978.6L413.5,977.7L415.7,977.0L419.5,975.1L421.5,973.5L423.5,971.1L424.4,969.0L425.0,965.0L424.8,961.0L424.0,957.0L423.5,954.6L422.6,951.0L421.7,947.0L421.3,945.0L420.6,941.0L420.0,937.0L419.7,933.0L419.6,929.0L419.7,925.0L420.0,921.0L420.5,917.0L421.1,913.0L421.5,911.0L422.3,907.0L423.2,903.0L423.6,901.0L424.4,897.0L425.3,893.0L425.6,891.0L426.4,887.0L427.1,883.0L427.5,880.3L428.0,877.0L428.6,873.0L429.3,869.0L429.6,867.0L430.3,863.0L431.1,859.0L431.5,856.9L432.4,853.0L433.4,849.0L433.9,847.0L435.0,843.0L435.5,841.0L436.6,837.0L437.5,833.7L438.2,831.0L438.9,827.0L439.3,823.0L439.2,819.0L438.4,815.0L437.5,812.7L435.5,809.1L434.0,807.0L432.3,805.0L430.3,803.0L428.1,801.0L425.6,799.0L423.5,797.5L421.5,796.1L419.5,794.9L416.2,793.0L413.5,791.7L411.5,790.8L407.5,789.4L405.5,788.7L401.5,787.8L397.5,787.0L395.5,786.8L391.5,786.4L387.5,786.2L383.5,786.1L379.5,786.1L375.5,786.2L371.5,786.3L367.5,786.4L363.5,786.5L359.5,786.5L355.5,786.5L351.5,786.4L347.5,786.2L343.5,785.9L339.5,785.6L335.5,785.1L333.5,784.9L329.5,784.3L325.5,783.6L322.5,783.0L319.5,782.4L315.5,781.4L313.5,780.9L309.5,779.8L306.9,779.0L303.5,777.9L300.9,777.0L297.5,775.8L295.5,775.0L291.5,773.4L289.5,772.6L286.1,771.0L283.5,769.8L281.5,768.8L278.0,767.0L275.5,765.6L273.5,764.5L271.0,763.0L267.8,761.0L265.5,759.5L263.5,758.1L261.5,756.6L259.4,755.0L257.0,753.0L254.7,751.0L252.6,749.0L250.6,747.0L248.8,745.0L247.2,743.0L245.5,740.8L243.5,737.9L241.8,735.0L240.7,733.0L239.5,730.3L238.2,727.0L237.5,724.6L236.7,721.0L236.1,717.0L236.0,713.0L236.3,709.0L236.9,705.0L237.5,702.7L238.7,699.0L239.6,697.0L241.5,693.3L242.9,691.0L244.3,689.0L245.9,687.0L247.6,685.0L249.6,683.0L251.7,681.0L254.1,679.0L256.8,677.0L259.5,675.2L261.5,674.0L263.5,672.9L267.1,671.0L269.5,669.9L271.6,669.0L275.5,667.5L277.5,666.8L281.5,665.5L283.5,664.9L287.5,663.8L291.3,663.0L293.5,662.5L297.5,661.8L301.5,661.3L303.6,661.0L307.5,660.6L311.5,660.2L315.5,660.0L319.5,659.9L323.5,659.8L327.5,659.9L331.5,660.0L335.5,660.2L339.5,660.5L343.5,660.9L345.5,661.1L349.5,661.6L353.5,662.1L357.5,662.8L359.5,663.2L363.5,664.0L367.5,664.9L369.5,665.3L373.5,666.4L375.7,667.0L379.5,668.1L382.3,669.0L385.5,670.1L388.0,671.0L391.5,672.3L393.5,673.1L397.5,674.8L399.5,675.7L402.2,677.0L405.5,678.6L407.5,679.6L410.1,681.0L413.5,682.8L415.5,683.9L417.5,685.1L420.9,687.0L423.5,688.5L425.5,689.5L428.3,691.0L431.5,692.6L433.5,693.5L437.3,695.0L439.5,695.7L443.5,696.8L445.5,697.2L449.5,697.7L453.5,698.0L457.5,698.0L461.5,697.8L465.5,697.4L469.1,697.0L471.5,696.7L475.5,696.1L479.5,695.5L482.7,695.0L485.5,694.5L489.5,693.9L493.5,693.4L496.7,693.0L499.5,692.7L503.5,692.2L507.5,691.9L511.5,691.6L515.5,691.5L519.5,691.4L523.5,691.4L527.5,691.5L531.5,691.7L535.5,692.1L539.5,692.6L542.4,693.0L545.5,693.5L549.5,694.3L552.4,695.0L555.5,695.8L559.4,697.0L561.5,697.7L565.0,699.0L567.5,700.0L569.7,701.0L573.5,702.8L575.5,703.9L577.5,705.1L580.6,707.0L583.5,709.0L585.5,710.4L587.5,712.0L589.5,713.8L591.5,715.6L593.5,717.6L595.5,719.7L597.5,722.1L599.5,724.6L601.2,727.0L602.5,729.0L603.7,731.0L605.5,734.2L606.9,737.0L607.7,739.0L609.3,743.0L609.9,745.0L611.0,749.0L611.5,751.0L612.3,755.0L612.9,759.0L613.4,763.0L613.6,765.0L614.0,769.0L614.6,773.0L615.3,777.0L615.9,779.0L617.4,783.0L618.5,785.0L619.7,787.0L621.5,789.4L623.5,791.7L625.5,793.7L627.5,795.6L629.5,797.4L631.5,799.1L633.8,801.0L636.2,803.0L638.5,805.0L640.8,807.0L642.9,809.0L645.0,811.0L646.8,813.0L648.6,815.0L650.1,817.0L651.5,819.0L653.5,822.3L654.8,825.0L655.6,827.0L656.8,831.0L657.4,835.0L657.4,839.0L656.9,843.0L656.0,847.0L655.3,849.0L653.6,853.0L652.6,855.0L651.5,857.0L649.5,860.1L647.5,863.0L646.0,865.0L644.5,867.0L642.8,869.0L641.0,871.0L639.2,873.0L637.3,875.0L635.3,877.0L633.3,879.0L631.2,881.0L629.0,883.0L626.8,885.0L624.5,887.0L622.2,889.0L619.8,891.0L617.5,892.9L615.5,894.5L613.5,896.1L611.5,897.6L609.5,899.2L607.1,901.0L604.5,903.0L601.8,905.0L599.5,906.7L597.5,908.2L595.5,909.7L593.5,911.3L591.2,913.0L588.7,915.0L586.2,917.0L583.8,919.0L581.5,921.0L579.5,922.9L577.5,924.8L575.5,927.0L573.7,929.0L572.1,931.0L570.6,933.0L569.3,935.0L567.5,937.8L565.7,941.0L564.6,943.0L563.5,945.3L561.7,949.0L560.7,951.0L559.5,953.6L557.9,957.0L556.9,959.0L555.5,961.8L553.9,965.0L552.9,967.0L551.5,969.7L549.9,973.0L549.1,975.0L547.7,979.0L547.2,981.0L546.8,985.0L547.3,989.0L547.9,991.0L549.5,994.6L550.9,997.0L552.2,999.0L553.6,1001.0L555.5,1003.5L557.5,1006.1L559.5,1008.7L561.2,1011.0L562.6,1013.0L564.0,1015.0L565.5,1017.3L567.5,1020.6L568.8,1023.0L569.8,1025.0L571.5,1029.0L572.3,1031.0L573.5,1035.0L574.0,1037.0L574.7,1041.0L575.1,1045.0L575.2,1049.0L575.0,1053.0L574.4,1057.0L573.5,1060.9L572.9,1063.0L571.5,1066.7L570.5,1069.0L569.5,1071.0L567.5,1074.3L565.6,1077.0L564.0,1079.0L562.3,1081.0L560.3,1083.0L558.2,1085.0L555.7,1087.0L553.5,1088.7L551.5,1090.0L549.5,1091.2L546.4,1093.0L543.5,1094.4L541.5,1095.3L537.5,1096.9L535.5,1097.7L531.5,1098.9L529.5,1099.5L525.5,1100.5L522.9,1101.0L519.5,1101.6L515.5,1102.2L511.5,1102.7L507.5,1103.0L505.5,1103.1L505.5,1103.1 M515.5,1097.0L511.5,1097.5L507.5,1097.9L503.5,1098.2L499.5,1098.3L495.5,1098.3L491.5,1098.2L487.5,1097.9L483.5,1097.6L479.5,1097.2L477.5,1097.0L473.5,1096.5L469.5,1095.9L465.5,1095.2L463.5,1094.8L459.5,1094.1L455.5,1093.3L453.5,1092.9L449.5,1092.2L445.5,1091.4L443.4,1091.0L439.5,1090.3L435.5,1089.6L431.5,1089.0L429.5,1088.8L425.5,1088.3L421.5,1088.0L417.5,1087.8L413.5,1087.7L409.5,1087.7L405.5,1087.8L401.5,1088.0L397.5,1088.3L393.5,1088.6L389.5,1088.9L387.5,1089.1L383.5,1089.5L379.5,1089.8L375.5,1090.2L371.5,1090.5L367.5,1090.7L363.5,1090.9L361.5,1091.0L357.5,1091.2L353.5,1091.2L349.5,1091.3L345.5,1091.2L341.5,1091.1L339.5,1091.0L335.5,1090.8L331.5,1090.5L327.5,1090.2L323.5,1089.8L319.5,1089.3L317.5,1089.0L313.5,1088.4L309.5,1087.8L305.5,1087.1L303.5,1086.7L299.5,1085.9L295.5,1085.0L293.5,1084.6L289.5,1083.6L287.4,1083.0L283.5,1081.9L280.5,1081.0L277.5,1080.1L274.4,1079.0L271.5,1078.0L269.0,1077.0L265.5,1075.6L263.5,1074.7L259.7,1073.0L257.5,1071.9L255.5,1070.9L252.0,1069.0L249.5,1067.5L247.5,1066.3L245.5,1064.9L242.8,1063.0L240.2,1061.0L237.8,1059.0L235.5,1057.0L233.5,1055.0L231.6,1053.0L229.8,1051.0L228.1,1049.0L226.6,1047.0L225.1,1045.0L223.5,1042.7L221.5,1039.6L219.8,1037.0L218.6,1035.0L217.3,1033.0L215.5,1030.3L213.5,1027.6L211.5,1025.3L209.5,1023.3L207.5,1021.7L205.5,1020.3L203.2,1019.0L199.5,1017.4L197.5,1016.7L193.5,1015.7L190.1,1015.0L187.5,1014.6L183.5,1014.1L179.5,1013.7L175.5,1013.4L171.5,1013.1L169.2,1013.0L165.5,1012.8L161.5,1012.5L157.5,1012.3L153.5,1012.0L149.5,1011.6L145.5,1011.2L143.5,1010.9L139.5,1010.4L135.5,1009.8L131.5,1009.1L129.5,1008.7L125.5,1007.9L121.7,1007.0L119.5,1006.4L115.5,1005.3L113.5,1004.7L109.5,1003.5L107.5,1002.8L103.5,1001.3L101.5,1000.6L97.6,999.0L95.5,998.1L92.9,997.0L89.5,995.5L87.5,994.5L84.3,993.0L81.5,991.7L79.5,990.7L76.2,989.0L73.5,987.6L71.5,986.6L68.4,985.0L65.5,983.4L63.5,982.4L61.0,981.0L57.5,979.0L55.5,977.9L53.5,976.7L50.8,975.0L47.7,973.0L45.5,971.4L43.5,969.9L41.5,968.4L39.5,966.6L37.5,964.6L35.5,962.3L33.5,959.5L32.2,957.0L31.5,955.0L30.8,951.0L31.2,947.0L31.7,945.0L33.5,941.2L34.9,939.0L36.5,937.0L38.3,935.0L40.4,933.0L42.7,931.0L45.2,929.0L47.5,927.3L49.5,926.0L51.5,924.6L54.1,923.0L57.5,921.0L59.5,919.9L61.5,918.8L64.8,917.0L67.5,915.7L69.5,914.7L73.1,913.0L75.5,911.9L77.6,911.0L81.5,909.3L83.5,908.5L87.5,907.0L89.5,906.3L93.1,905.0L95.5,904.2L99.4,903.0L101.5,902.4L105.5,901.3L107.5,900.7L111.5,899.8L115.0,899.0L117.5,898.5L121.5,897.8L125.5,897.1L127.5,896.9L131.5,896.4L135.5,896.0L139.5,895.7L143.5,895.6L147.5,895.5L151.5,895.6L155.5,895.8L159.5,896.0L163.5,896.5L167.5,897.0L169.5,897.3L173.5,898.1L177.5,899.0L179.5,899.5L183.5,900.6L185.5,901.2L189.5,902.7L191.5,903.5L195.1,905.0L197.5,906.1L199.5,907.2L202.8,909.0L205.5,910.6L207.5,911.9L209.5,913.3L211.8,915.0L214.3,917.0L216.6,919.0L218.9,921.0L220.9,923.0L222.9,925.0L224.8,927.0L226.6,929.0L228.4,931.0L230.0,933.0L231.6,935.0L233.5,937.4L235.5,940.1L237.5,942.8L239.1,945.0L240.5,947.0L241.9,949.0L243.5,951.4L245.5,954.3L247.5,957.0L249.0,959.0L250.6,961.0L252.3,963.0L254.2,965.0L256.3,967.0L258.9,969.0L261.5,970.7L263.5,971.7L266.4,973.0L269.5,974.0L273.1,975.0L275.5,975.5L279.5,976.2L283.5,976.7L286.9,977.0L289.5,977.2L293.5,977.5L297.5,977.7L301.5,977.8L305.5,978.0L309.5,978.2L313.5,978.3L317.5,978.5L321.5,978.7L325.5,978.9L327.5,979.1L331.5,979.3L335.5,979.6L339.5,979.9L343.5,980.2L347.5,980.6L351.5,981.0L353.5,981.2L357.5,981.6L361.5,982.1L365.5,982.5L369.1,983.0L371.5,983.3L375.5,983.8L379.5,984.2L383.5,984.7L386.2,985.0L389.5,985.3L393.5,985.7L397.5,986.0L401.5,986.2L405.5,986.3L409.5,986.2L413.5,986.0L417.5,985.6L421.5,985.0L423.5,984.6L427.5,983.4L429.5,982.7L432.9,981.0L435.5,979.1L437.2,977.0L438.2,975.0L438.8,971.0L438.2,967.0L437.5,964.4L436.3,961.0L435.5,958.8L434.1,955.0L433.3,953.0L431.9,949.0L431.3,947.0L430.3,943.0L429.5,939.4L429.1,937.0L428.7,933.0L428.5,929.0L428.6,925.0L428.9,921.0L429.3,917.0L429.6,915.0L430.3,911.0L431.1,907.0L431.5,905.0L432.3,901.0L433.1,897.0L433.5,894.9L434.2,891.0L434.8,887.0L435.4,883.0L435.7,881.0L436.3,877.0L436.8,873.0L437.4,869.0L437.8,867.0L438.5,863.0L439.3,859.0L439.7,857.0L440.7,853.0L441.5,850.2L442.4,847.0L443.5,843.6L444.4,841.0L445.5,837.7L446.4,835.0L447.5,831.8L448.3,829.0L449.4,825.0L449.7,823.0L450.0,819.0L449.6,815.0L449.1,813.0L447.5,809.4L446.0,807.0L444.5,805.0L442.7,803.0L440.7,801.0L438.5,799.0L436.1,797.0L433.6,795.0L431.5,793.5L429.5,792.1L427.5,790.7L424.7,789.0L421.5,787.1L419.5,786.1L417.2,785.0L413.5,783.4L411.5,782.7L407.5,781.6L404.9,781.0L401.5,780.4L397.5,780.0L393.5,779.8L389.5,779.8L385.5,779.9L381.5,780.0L377.5,780.2L373.5,780.5L369.5,780.7L365.5,780.9L361.5,781.0L359.5,781.0L355.5,781.1L351.5,781.0L349.5,781.0L345.5,780.8L341.5,780.5L337.5,780.2L333.5,779.7L329.5,779.1L327.5,778.8L323.5,778.0L319.5,777.1L317.5,776.7L313.5,775.7L311.2,775.0L307.5,773.9L304.8,773.0L301.5,771.9L299.2,771.0L295.5,769.6L293.5,768.7L289.6,767.0L287.5,766.0L285.4,765.0L281.6,763.0L279.5,761.9L277.5,760.7L274.6,759.0L271.5,757.0L269.5,755.6L267.5,754.2L265.5,752.6L263.5,751.0L261.2,749.0L259.0,747.0L257.1,745.0L255.3,743.0L253.5,740.9L251.5,738.2L249.5,735.1L248.3,733.0L247.3,731.0L245.7,727.0L245.0,725.0L244.1,721.0L243.6,717.0L243.5,715.0L243.5,712.8L243.8,709.0L244.7,705.0L245.5,702.3L246.8,699.0L247.8,697.0L249.5,694.1L251.5,691.3L253.4,689.0L255.2,687.0L257.3,685.0L259.5,683.1L261.5,681.6L263.5,680.2L265.5,678.9L268.7,677.0L271.5,675.5L273.5,674.6L277.1,673.0L279.5,672.1L282.5,671.0L285.5,670.0L289.3,669.0L291.5,668.4L295.5,667.6L298.5,667.0L301.5,666.5L305.5,665.9L309.5,665.5L313.5,665.2L316.7,665.0L319.5,664.9L323.5,664.8L327.5,664.8L331.5,664.9L333.5,665.0L337.5,665.3L341.5,665.6L345.5,666.0L349.5,666.6L352.3,667.0L355.5,667.5L359.5,668.3L362.9,669.0L365.5,669.6L369.5,670.6L371.5,671.1L375.5,672.3L377.7,673.0L381.5,674.3L383.5,675.0L387.5,676.5L389.5,677.4L393.3,679.0L395.5,680.0L397.5,681.0L401.5,683.0L403.5,684.1L405.5,685.2L408.6,687.0L411.5,688.7L413.5,689.9L415.5,691.2L418.5,693.0L421.5,694.9L423.5,696.0L425.5,697.2L428.9,699.0L431.5,700.3L433.5,701.1L437.5,702.6L439.5,703.1L443.5,703.9L447.5,704.4L451.5,704.5L455.5,704.4L459.5,704.0L463.5,703.5L467.1,703.0L469.5,702.6L473.5,701.9L477.5,701.2L479.5,700.8L483.5,700.1L487.5,699.4L490.0,699.0L493.5,698.5L497.5,697.9L501.5,697.4L505.5,697.0L507.5,696.8L511.5,696.6L515.5,696.4L519.5,696.3L523.5,696.3L527.5,696.5L531.5,696.7L534.3,697.0L537.5,697.4L541.5,697.9L545.5,698.7L547.5,699.1L551.5,700.1L554.7,701.0L557.5,701.9L560.6,703.0L563.5,704.1L565.5,705.0L569.5,706.9L571.5,708.0L573.5,709.1L576.5,711.0L579.4,713.0L581.5,714.6L583.5,716.2L585.5,718.0L587.5,719.9L589.5,722.0L591.5,724.3L593.5,726.9L595.0,729.0L596.3,731.0L597.5,733.0L599.5,736.8L600.5,739.0L601.5,741.5L602.7,745.0L603.5,747.9L604.2,751.0L604.8,755.0L605.2,759.0L605.4,763.0L605.5,767.0L605.5,771.0L605.5,773.6L605.6,777.0L606.1,781.0L607.1,785.0L607.9,787.0L609.5,790.0L611.5,792.8L613.5,795.0L615.5,796.9L617.5,798.6L619.5,800.3L621.5,801.8L623.5,803.4L625.6,805.0L628.1,807.0L630.6,809.0L632.9,811.0L635.1,813.0L637.1,815.0L639.0,817.0L640.6,819.0L642.1,821.0L643.5,823.1L645.5,826.9L646.4,829.0L647.5,832.9L647.9,835.0L648.1,839.0L647.8,843.0L647.5,845.0L646.4,849.0L645.5,851.3L643.9,855.0L642.8,857.0L641.5,859.2L639.5,862.3L637.5,865.0L636.0,867.0L634.3,869.0L632.6,871.0L630.8,873.0L628.9,875.0L627.0,877.0L624.9,879.0L622.8,881.0L620.7,883.0L618.4,885.0L616.1,887.0L613.7,889.0L611.5,890.8L609.5,892.5L607.5,894.1L605.5,895.6L603.5,897.2L601.1,899.0L598.4,901.0L595.7,903.0L593.5,904.6L591.5,906.1L589.5,907.5L587.5,909.0L584.8,911.0L582.1,913.0L579.5,915.0L577.5,916.6L575.5,918.3L573.5,920.1L571.5,921.9L569.5,923.9L567.5,926.0L565.5,928.4L563.5,930.9L562.0,933.0L560.7,935.0L559.5,937.0L557.5,940.6L556.2,943.0L555.2,945.0L553.5,948.4L552.2,951.0L551.2,953.0L549.5,956.2L547.9,959.0L546.8,961.0L545.5,963.2L543.5,966.5L542.0,969.0L540.8,971.0L539.5,973.2L537.5,977.0L536.7,979.0L535.7,983.0L535.7,987.0L537.0,991.0L538.0,993.0L539.5,995.3L541.5,997.9L543.5,1000.3L545.5,1002.5L547.5,1004.7L549.5,1007.0L551.3,1009.0L553.1,1011.0L554.8,1013.0L556.4,1015.0L557.9,1017.0L559.5,1019.3L561.5,1022.5L562.9,1025.0L564.0,1027.0L565.5,1030.5L566.5,1033.0L567.5,1036.5L568.1,1039.0L568.7,1043.0L569.0,1047.0L568.9,1051.0L568.4,1055.0L567.6,1059.0L567.0,1061.0L565.5,1064.9L564.6,1067.0L563.5,1069.0L561.5,1072.2L559.5,1074.9L557.7,1077.0L555.8,1079.0L553.7,1081.0L551.5,1082.8L549.5,1084.3L547.5,1085.7L545.4,1087.0L541.8,1089.0L539.5,1090.1L537.5,1091.0L533.5,1092.6L531.5,1093.3L527.5,1094.5L525.5,1095.0L521.5,1096.0L517.5,1096.7L515.5,1097.0L515.5,1097.0 M505.5,1093.2L501.5,1093.4L497.5,1093.5L493.5,1093.4L489.5,1093.3L485.6,1093.0L483.5,1092.8L479.5,1092.4L475.5,1091.9L471.5,1091.3L469.5,1091.0L465.5,1090.3L461.5,1089.5L458.8,1089.0L455.5,1088.3L451.5,1087.5L449.1,1087.0L445.5,1086.3L441.5,1085.5L439.0,1085.0L435.5,1084.4L431.5,1083.8L427.5,1083.3L425.0,1083.0L421.5,1082.7L417.5,1082.5L413.5,1082.4L409.5,1082.4L405.5,1082.6L401.5,1082.8L398.3,1083.0L395.5,1083.2L391.5,1083.6L387.5,1084.0L383.5,1084.4L379.5,1084.8L377.5,1085.0L373.5,1085.4L369.5,1085.7L365.5,1086.0L361.5,1086.2L357.5,1086.4L353.5,1086.5L349.5,1086.5L345.5,1086.4L341.5,1086.3L337.5,1086.2L333.5,1085.9L329.5,1085.6L325.5,1085.2L323.5,1085.0L319.5,1084.5L315.5,1083.9L311.5,1083.3L309.5,1082.9L305.5,1082.2L301.5,1081.3L299.5,1080.9L295.5,1080.0L291.8,1079.0L289.5,1078.4L285.5,1077.2L283.5,1076.6L279.5,1075.2L277.5,1074.5L273.5,1073.0L271.5,1072.2L268.6,1071.0L265.5,1069.6L263.5,1068.6L260.4,1067.0L257.5,1065.3L255.5,1064.1L253.5,1062.9L250.8,1061.0L248.1,1059.0L245.6,1057.0L243.5,1055.1L241.5,1053.2L239.5,1051.1L237.7,1049.0L236.1,1047.0L234.6,1045.0L233.3,1043.0L231.5,1040.1L229.8,1037.0L228.8,1035.0L227.5,1032.3L226.0,1029.0L225.1,1027.0L223.5,1023.6L222.1,1021.0L220.9,1019.0L219.5,1016.9L217.5,1014.7L215.5,1013.0L212.2,1011.0L209.5,1009.9L206.6,1009.0L203.5,1008.3L199.5,1007.8L195.5,1007.4L191.5,1007.2L187.5,1007.0L185.5,1007.0L181.5,1006.9L177.5,1006.8L173.5,1006.8L169.5,1006.7L165.5,1006.6L161.5,1006.5L157.5,1006.3L153.5,1006.0L149.5,1005.7L145.5,1005.3L143.2,1005.0L139.5,1004.5L135.5,1003.9L131.5,1003.1L129.5,1002.7L125.5,1001.8L122.3,1001.0L119.5,1000.2L115.5,999.0L113.5,998.4L109.5,997.0L107.5,996.3L104.3,995.0L101.5,993.8L99.5,993.0L95.5,991.2L93.5,990.2L91.0,989.0L87.5,987.3L85.5,986.2L83.2,985.0L79.5,983.0L77.5,981.9L75.5,980.7L72.6,979.0L69.5,977.1L67.5,975.9L65.5,974.6L63.2,973.0L60.4,971.0L57.8,969.0L55.5,967.1L53.5,965.3L51.5,963.2L49.7,961.0L48.3,959.0L47.2,957.0L45.8,953.0L45.5,950.7L45.5,948.9L46.2,945.0L47.5,942.1L49.3,939.0L50.9,937.0L52.6,935.0L54.6,933.0L56.9,931.0L59.4,929.0L61.5,927.4L63.5,926.0L65.5,924.7L68.1,923.0L71.5,921.0L73.5,919.9L75.5,918.8L79.0,917.0L81.5,915.8L83.5,914.9L87.5,913.1L89.5,912.2L92.6,911.0L95.5,909.9L98.1,909.0L101.5,907.8L104.2,907.0L107.5,906.0L111.4,905.0L113.5,904.5L117.5,903.6L120.4,903.0L123.5,902.4L127.5,901.8L131.5,901.3L134.5,901.0L137.5,900.7L141.5,900.5L145.5,900.4L149.5,900.4L153.5,900.6L157.5,900.9L159.5,901.0L163.5,901.5L167.5,902.1L171.5,902.9L173.5,903.4L177.5,904.4L179.5,905.0L183.5,906.3L185.5,907.1L189.5,908.8L191.5,909.7L194.1,911.0L197.5,912.9L199.5,914.1L201.5,915.4L203.8,917.0L206.5,919.0L208.9,921.0L211.2,923.0L213.3,925.0L215.3,927.0L217.2,929.0L218.9,931.0L220.6,933.0L222.2,935.0L223.8,937.0L225.5,939.4L227.5,942.3L229.3,945.0L230.6,947.0L231.8,949.0L233.5,951.9L235.2,955.0L236.4,957.0L237.5,959.1L239.5,962.8L240.7,965.0L241.9,967.0L243.5,969.6L245.5,972.3L247.5,974.6L249.5,976.4L251.5,977.8L253.6,979.0L257.5,980.6L259.5,981.1L263.5,982.0L267.5,982.5L271.5,982.9L274.0,983.0L277.5,983.1L281.5,983.2L285.5,983.3L289.5,983.3L293.5,983.3L297.5,983.3L301.5,983.3L305.5,983.3L309.5,983.3L313.5,983.4L317.5,983.5L321.5,983.6L325.5,983.8L329.5,984.0L333.5,984.2L337.5,984.5L341.5,984.8L343.5,985.0L347.5,985.4L351.5,985.8L355.5,986.2L359.5,986.7L361.6,987.0L365.5,987.5L369.5,988.0L373.5,988.6L376.3,989.0L379.5,989.4L383.5,990.0L387.5,990.5L391.1,991.0L393.5,991.3L397.5,991.7L401.5,992.1L405.5,992.4L409.5,992.6L413.5,992.6L417.5,992.6L421.5,992.4L425.5,992.0L429.5,991.5L432.5,991.0L435.5,990.3L439.5,989.3L441.5,988.7L445.5,987.1L447.5,986.1L449.5,985.0L452.1,983.0L453.7,981.0L454.9,977.0L454.2,973.0L453.4,971.0L451.5,967.2L450.2,965.0L449.1,963.0L447.5,960.4L445.6,957.0L444.5,955.0L443.5,952.9L441.7,949.0L440.9,947.0L439.6,943.0L439.0,941.0L438.2,937.0L437.6,933.0L437.5,931.0L437.4,927.0L437.5,923.3L437.7,921.0L438.1,917.0L438.7,913.0L439.5,909.0L439.8,907.0L440.6,903.0L441.3,899.0L441.6,897.0L442.3,893.0L442.8,889.0L443.3,885.0L443.6,883.0L444.0,879.0L444.5,875.0L445.1,871.0L445.5,868.2L446.0,865.0L446.8,861.0L447.5,858.0L448.3,855.0L449.5,851.0L450.1,849.0L451.5,845.0L452.3,843.0L453.5,840.0L454.7,837.0L455.6,835.0L457.3,831.0L458.1,829.0L459.5,825.4L460.2,823.0L461.1,819.0L461.1,815.0L460.2,811.0L459.3,809.0L457.5,806.2L455.5,803.7L453.5,801.6L451.5,799.7L449.5,797.9L447.5,796.3L445.5,794.6L443.4,793.0L440.7,791.0L438.0,789.0L435.5,787.2L433.5,785.9L431.5,784.5L429.2,783.0L425.9,781.0L423.5,779.6L421.5,778.6L418.1,777.0L415.5,776.0L412.4,775.0L409.5,774.3L405.5,773.6L401.5,773.2L397.5,773.1L393.5,773.2L389.5,773.5L385.5,773.8L381.5,774.2L377.5,774.5L373.5,774.9L371.5,775.1L367.5,775.4L363.5,775.7L359.5,775.9L355.5,776.0L351.5,776.0L347.5,775.9L343.5,775.7L339.5,775.4L335.8,775.0L333.5,774.7L329.5,774.2L325.5,773.4L323.3,773.0L319.5,772.2L315.5,771.2L313.5,770.6L309.5,769.5L307.5,768.8L303.5,767.4L301.5,766.7L297.5,765.1L295.5,764.3L292.6,763.0L289.5,761.5L287.5,760.5L284.7,759.0L281.5,757.2L279.5,756.0L277.5,754.7L275.0,753.0L272.2,751.0L269.7,749.0L267.5,747.1L265.5,745.3L263.5,743.3L261.5,741.1L259.8,739.0L258.3,737.0L256.9,735.0L255.5,732.6L253.7,729.0L252.9,727.0L251.7,723.0L251.3,721.0L250.8,717.0L250.7,713.0L251.2,709.0L251.6,707.0L252.9,703.0L253.8,701.0L255.5,697.7L257.3,695.0L258.8,693.0L260.5,691.0L262.5,689.0L264.8,687.0L267.3,685.0L269.5,683.5L271.5,682.2L273.6,681.0L277.4,679.0L279.5,678.0L282.0,677.0L285.5,675.7L287.6,675.0L291.5,673.8L294.7,673.0L297.5,672.3L301.5,671.6L305.1,671.0L307.5,670.7L311.5,670.2L315.5,669.9L319.5,669.7L323.5,669.6L327.5,669.6L331.5,669.7L335.5,669.9L339.5,670.2L343.5,670.6L346.9,671.0L349.5,671.4L353.5,672.0L357.5,672.8L359.5,673.2L363.5,674.1L367.0,675.0L369.5,675.7L373.5,676.9L375.5,677.5L379.5,679.0L381.5,679.7L384.7,681.0L387.5,682.2L389.5,683.1L393.4,685.0L395.5,686.1L397.5,687.2L400.7,689.0L403.5,690.7L405.5,691.9L407.5,693.2L410.2,695.0L413.1,697.0L415.5,698.7L417.5,700.1L419.5,701.4L421.9,703.0L425.1,705.0L427.5,706.4L429.5,707.4L433.4,709.0L435.5,709.7L439.5,710.6L442.2,711.0L445.5,711.2L449.5,711.2L452.0,711.0L455.5,710.6L459.5,710.0L463.5,709.3L465.5,708.9L469.5,708.1L473.5,707.2L475.5,706.8L479.5,705.9L483.5,705.1L485.5,704.7L489.5,704.0L493.5,703.3L495.5,703.0L499.5,702.4L503.5,701.9L507.5,701.5L511.5,701.2L515.5,701.1L519.0,701.0L521.5,701.0L523.5,701.0L527.5,701.2L531.5,701.5L535.5,701.9L539.5,702.5L542.3,703.0L545.5,703.6L549.5,704.6L551.5,705.2L555.5,706.5L557.5,707.2L561.5,708.9L563.5,709.8L566.0,711.0L569.5,713.0L571.5,714.2L573.5,715.5L575.6,717.0L578.1,719.0L580.4,721.0L582.5,723.0L584.4,725.0L586.1,727.0L587.7,729.0L589.5,731.6L591.5,734.9L592.6,737.0L593.6,739.0L595.1,743.0L595.8,745.0L596.8,749.0L597.5,753.0L597.7,755.0L597.9,759.0L597.8,763.0L597.5,767.0L597.3,769.0L596.8,773.0L596.3,777.0L595.9,781.0L596.0,785.0L596.6,789.0L597.5,791.3L599.5,794.7L601.5,797.0L603.5,798.9L605.5,800.6L607.5,802.1L609.5,803.6L611.6,805.0L614.5,807.0L617.4,809.0L619.5,810.5L621.5,812.0L623.5,813.6L625.5,815.2L627.5,817.0L629.5,819.0L631.5,821.2L633.5,823.8L635.5,826.9L636.6,829.0L637.5,831.2L638.6,835.0L639.1,839.0L639.1,843.0L638.4,847.0L637.5,850.2L636.5,853.0L635.5,855.1L633.5,858.9L632.2,861.0L630.9,863.0L629.5,865.0L627.5,867.5L625.5,870.0L623.5,872.2L621.5,874.4L619.5,876.5L617.5,878.5L615.5,880.4L613.5,882.2L611.5,884.0L609.5,885.7L607.5,887.4L605.5,889.1L603.1,891.0L600.6,893.0L597.9,895.0L595.5,896.8L593.5,898.3L591.5,899.7L589.5,901.2L586.9,903.0L584.1,905.0L581.5,906.8L579.5,908.2L577.5,909.7L575.5,911.1L573.0,913.0L570.4,915.0L567.9,917.0L565.6,919.0L563.5,920.9L561.5,922.9L559.5,925.0L557.7,927.0L556.2,929.0L554.7,931.0L553.3,933.0L551.5,935.9L549.7,939.0L548.7,941.0L547.5,943.2L545.5,946.9L544.4,949.0L543.3,951.0L541.5,954.0L539.7,957.0L538.3,959.0L537.0,961.0L535.5,963.0L533.5,965.6L531.5,968.2L529.5,970.7L527.6,973.0L526.1,975.0L524.7,977.0L523.5,979.1L522.1,983.0L522.2,987.0L523.5,989.9L525.5,992.9L527.3,995.0L529.3,997.0L531.4,999.0L533.5,1000.9L535.5,1002.6L537.5,1004.4L539.5,1006.2L541.5,1008.0L543.5,1009.9L545.5,1011.9L547.5,1013.9L549.5,1016.1L551.5,1018.5L553.4,1021.0L554.8,1023.0L556.1,1025.0L557.5,1027.5L559.2,1031.0L560.1,1033.0L561.4,1037.0L561.9,1039.0L562.6,1043.0L562.9,1047.0L562.7,1051.0L562.2,1055.0L561.5,1057.9L560.5,1061.0L559.5,1063.4L557.7,1067.0L556.4,1069.0L555.0,1071.0L553.4,1073.0L551.5,1075.1L549.5,1077.0L547.1,1079.0L544.4,1081.0L541.5,1082.9L539.5,1084.0L537.5,1085.1L533.5,1086.9L531.5,1087.7L527.9,1089.0L525.5,1089.7L521.5,1090.8L519.5,1091.2L515.5,1092.0L511.5,1092.6L507.5,1093.0L505.5,1093.2L505.5,1093.2 M513.5,1087.4L509.5,1088.0L505.5,1088.4L501.5,1088.6L497.5,1088.7L493.5,1088.7L489.5,1088.6L485.5,1088.3L481.5,1087.9L477.5,1087.4L474.5,1087.0L471.5,1086.5L467.5,1085.8L463.5,1085.1L461.5,1084.7L457.5,1083.8L453.8,1083.0L451.5,1082.5L447.5,1081.6L444.7,1081.0L441.5,1080.3L437.5,1079.5L434.5,1079.0L431.5,1078.5L427.5,1078.0L423.5,1077.6L419.5,1077.3L415.5,1077.1L411.5,1077.1L407.5,1077.2L403.5,1077.4L399.5,1077.7L395.5,1078.1L391.5,1078.5L387.5,1079.0L385.5,1079.2L381.5,1079.7L377.5,1080.1L373.5,1080.5L369.5,1080.9L367.5,1081.0L363.5,1081.3L359.5,1081.6L355.5,1081.7L351.5,1081.8L347.5,1081.8L343.5,1081.7L339.5,1081.6L335.5,1081.4L331.5,1081.1L329.5,1080.9L325.5,1080.5L321.5,1080.0L317.5,1079.5L314.5,1079.0L311.5,1078.5L307.5,1077.7L304.1,1077.0L301.5,1076.4L297.5,1075.5L295.5,1074.9L291.5,1073.8L288.8,1073.0L285.5,1071.9L282.8,1071.0L279.5,1069.8L277.5,1069.0L273.5,1067.3L271.5,1066.3L268.8,1065.0L265.5,1063.3L263.5,1062.1L261.5,1060.9L258.6,1059.0L255.9,1057.0L253.5,1055.1L251.5,1053.4L249.5,1051.5L247.5,1049.3L245.5,1047.0L244.0,1045.0L242.6,1043.0L241.4,1041.0L239.5,1037.5L238.4,1035.0L237.5,1032.7L236.3,1029.0L235.5,1025.6L235.0,1023.0L234.4,1019.0L234.0,1015.0L233.8,1011.0L233.8,1007.0L234.0,1003.0L234.7,999.0L236.0,997.0L239.5,995.2L241.5,994.7L245.5,993.9L249.5,993.3L251.5,993.0L255.5,992.4L259.5,991.9L263.5,991.5L267.5,991.0L269.5,990.8L273.5,990.4L277.5,990.0L281.5,989.7L285.5,989.4L289.5,989.1L291.5,989.0L295.5,988.8L299.5,988.6L303.5,988.4L307.5,988.4L311.5,988.3L315.5,988.3L319.5,988.4L323.5,988.5L327.5,988.6L331.5,988.8L334.6,989.0L337.5,989.2L341.5,989.5L345.5,989.9L349.5,990.3L353.5,990.7L355.7,991.0L359.5,991.5L363.5,992.0L367.5,992.6L370.0,993.0L373.5,993.5L377.5,994.2L381.5,994.8L383.5,995.1L387.5,995.8L391.5,996.4L395.5,996.9L397.5,997.2L401.5,997.7L405.5,998.1L409.5,998.4L413.5,998.7L417.5,998.8L421.5,998.8L425.5,998.6L429.5,998.3L433.5,997.9L437.5,997.4L440.2,997.0L443.5,996.4L447.5,995.6L450.3,995.0L453.5,994.2L457.5,993.2L459.5,992.6L463.5,991.5L465.5,990.9L469.5,989.5L471.5,988.9L475.5,987.4L477.5,986.5L480.8,985.0L483.2,983.0L481.5,979.4L479.5,977.6L477.5,976.0L475.5,974.4L473.5,972.8L471.4,971.0L469.0,969.0L466.8,967.0L464.6,965.0L462.6,963.0L460.8,961.0L459.0,959.0L457.4,957.0L455.5,954.4L453.5,951.4L452.1,949.0L451.1,947.0L449.5,943.3L448.7,941.0L447.6,937.0L447.2,935.0L446.7,931.0L446.5,927.0L446.6,923.0L447.0,919.0L447.5,915.0L447.8,913.0L448.4,909.0L449.1,905.0L449.5,902.2L450.0,899.0L450.5,895.0L450.9,891.0L451.3,887.0L451.5,884.9L451.8,881.0L452.2,877.0L452.6,873.0L453.2,869.0L453.5,867.0L454.2,863.0L455.2,859.0L455.7,857.0L456.9,853.0L457.6,851.0L459.1,847.0L460.0,845.0L461.5,841.8L462.9,839.0L463.9,837.0L465.5,834.1L467.2,831.0L468.3,829.0L469.5,826.9L471.4,823.0L472.3,821.0L473.5,817.0L473.7,815.0L473.5,812.0L472.6,809.0L471.4,807.0L469.5,804.5L467.5,802.5L465.5,800.6L463.5,798.9L461.1,797.0L458.4,795.0L455.6,793.0L453.5,791.5L451.5,790.0L449.5,788.6L447.3,787.0L444.6,785.0L441.9,783.0L439.5,781.3L437.5,779.8L435.5,778.3L433.5,776.8L430.9,775.0L427.9,773.0L425.5,771.5L423.5,770.4L420.7,769.0L417.5,767.7L415.2,767.0L411.5,766.2L407.5,765.8L403.5,765.7L399.5,765.9L395.5,766.3L391.5,766.8L389.5,767.1L385.5,767.7L381.5,768.3L377.5,768.9L375.5,769.2L371.5,769.7L367.5,770.1L363.5,770.5L359.5,770.8L355.5,771.0L353.5,771.0L349.5,771.0L347.5,771.0L343.5,770.8L339.5,770.6L335.5,770.2L331.5,769.7L327.5,769.0L325.5,768.6L321.5,767.8L318.1,767.0L315.5,766.3L311.5,765.2L309.5,764.5L305.5,763.1L303.5,762.4L300.0,761.0L297.5,759.9L295.4,759.0L291.5,757.1L289.5,756.0L287.5,754.9L284.2,753.0L281.5,751.2L279.5,749.9L277.5,748.4L275.5,746.8L273.3,745.0L271.2,743.0L269.2,741.0L267.4,739.0L265.5,736.6L263.5,733.7L261.9,731.0L260.9,729.0L259.5,725.4L258.8,723.0L258.0,719.0L257.8,715.0L258.2,711.0L259.1,707.0L259.7,705.0L261.5,701.2L262.8,699.0L264.2,697.0L265.8,695.0L267.6,693.0L269.7,691.0L272.2,689.0L275.0,687.0L277.5,685.4L279.5,684.3L282.0,683.0L285.5,681.4L287.5,680.6L291.5,679.2L293.5,678.6L297.5,677.5L299.7,677.0L303.5,676.2L307.5,675.5L311.5,675.0L313.5,674.8L317.5,674.5L321.5,674.3L325.5,674.2L329.5,674.2L333.5,674.4L337.5,674.6L341.5,675.0L343.5,675.2L347.5,675.7L351.5,676.4L354.8,677.0L357.5,677.5L361.5,678.5L363.5,679.0L367.5,680.1L370.4,681.0L373.5,682.0L376.1,683.0L379.5,684.3L381.5,685.2L385.5,687.0L387.5,687.9L389.5,689.0L393.2,691.0L395.5,692.4L397.5,693.6L399.6,695.0L402.5,697.0L405.3,699.0L407.5,700.7L409.5,702.3L411.5,703.9L413.5,705.5L415.5,707.1L417.9,709.0L420.5,711.0L423.4,713.0L425.5,714.3L427.5,715.4L431.1,717.0L433.5,717.8L437.5,718.5L441.5,718.8L445.5,718.6L449.5,718.1L453.5,717.4L455.5,717.0L459.5,716.1L463.5,715.1L465.5,714.6L469.5,713.5L471.6,713.0L475.5,712.0L479.5,711.0L481.5,710.5L485.5,709.6L488.5,709.0L491.5,708.4L495.5,707.7L499.5,707.1L501.5,706.8L505.5,706.3L509.5,705.9L513.5,705.7L517.5,705.6L521.5,705.6L525.5,705.7L529.5,705.9L533.5,706.3L537.5,706.9L539.5,707.3L543.5,708.1L547.1,709.0L549.5,709.7L553.4,711.0L555.5,711.8L558.4,713.0L561.5,714.5L563.5,715.5L566.1,717.0L569.2,719.0L571.5,720.7L573.5,722.3L575.5,724.1L577.5,726.0L579.5,728.2L581.5,730.6L583.2,733.0L584.5,735.0L585.6,737.0L587.5,740.9L588.3,743.0L589.5,747.0L590.0,749.0L590.5,753.0L590.7,757.0L590.6,761.0L590.1,765.0L589.5,768.0L588.8,771.0L587.7,775.0L587.1,777.0L585.8,781.0L585.3,783.0L584.3,787.0L584.0,791.0L584.9,795.0L585.9,797.0L587.5,799.1L589.5,801.0L592.1,803.0L595.1,805.0L597.5,806.4L599.5,807.6L602.0,809.0L605.5,811.0L607.5,812.2L609.5,813.4L612.0,815.0L614.9,817.0L617.5,819.0L619.5,820.7L621.5,822.6L623.5,824.8L625.3,827.0L626.6,829.0L627.7,831.0L629.3,835.0L629.9,837.0L630.4,841.0L630.3,845.0L629.6,849.0L629.0,851.0L627.5,855.0L626.5,857.0L625.5,859.0L623.5,862.2L621.6,865.0L620.1,867.0L618.5,869.0L616.8,871.0L615.0,873.0L613.1,875.0L611.2,877.0L609.1,879.0L607.0,881.0L604.7,883.0L602.4,885.0L600.0,887.0L597.5,889.0L595.5,890.5L593.5,892.1L591.5,893.6L589.5,895.0L586.7,897.0L583.8,899.0L581.5,900.6L579.5,902.0L577.5,903.3L575.0,905.0L572.0,907.0L569.5,908.7L567.5,910.1L565.5,911.6L563.5,913.0L560.9,915.0L558.4,917.0L556.1,919.0L554.0,921.0L552.0,923.0L550.2,925.0L548.5,927.0L547.0,929.0L545.5,931.0L543.5,934.1L541.8,937.0L540.6,939.0L539.5,941.0L537.5,944.4L536.0,947.0L534.7,949.0L533.4,951.0L531.5,953.7L529.5,956.3L527.5,958.7L525.5,960.8L523.5,962.8L521.5,964.7L519.5,966.4L517.5,968.0L515.5,969.5L513.3,971.0L510.3,973.0L507.5,974.8L505.5,976.0L503.5,977.2L500.4,979.0L497.5,981.0L495.8,983.0L497.5,985.9L499.5,987.5L501.5,989.0L504.6,991.0L507.5,992.7L509.5,993.9L511.5,995.1L514.6,997.0L517.5,998.7L519.5,999.9L521.5,1001.2L524.3,1003.0L527.3,1005.0L529.5,1006.5L531.5,1008.0L533.5,1009.5L535.5,1011.0L537.9,1013.0L540.1,1015.0L542.2,1017.0L544.2,1019.0L545.9,1021.0L547.6,1023.0L549.5,1025.7L551.5,1028.9L552.6,1031.0L553.6,1033.0L555.1,1037.0L555.6,1039.0L556.4,1043.0L556.7,1047.0L556.5,1051.0L555.9,1055.0L555.3,1057.0L553.9,1061.0L552.9,1063.0L551.5,1065.5L549.5,1068.3L547.5,1070.7L545.5,1072.8L543.5,1074.6L541.5,1076.2L539.5,1077.6L537.3,1079.0L533.7,1081.0L531.5,1082.0L529.2,1083.0L525.5,1084.4L523.5,1085.0L519.5,1086.1L515.5,1087.0L513.5,1087.4L513.5,1087.4 M193.5,999.0L189.5,999.4L185.5,999.7L181.5,999.9L177.5,1000.2L173.5,1000.3L169.5,1000.4L165.5,1000.4L161.5,1000.4L157.5,1000.3L153.5,1000.1L149.5,999.8L145.5,999.4L142.3,999.0L139.5,998.6L135.5,997.9L131.5,997.1L129.5,996.7L125.5,995.7L122.9,995.0L119.5,994.0L116.5,993.0L113.5,992.0L111.0,991.0L107.5,989.6L105.5,988.8L101.6,987.0L99.5,986.0L97.5,985.0L93.6,983.0L91.5,981.8L89.5,980.7L86.5,979.0L83.5,977.1L81.5,975.9L79.5,974.5L77.3,973.0L74.5,971.0L71.9,969.0L69.6,967.0L67.5,965.0L65.5,963.0L63.9,961.0L62.4,959.0L61.3,957.0L59.7,953.0L59.4,951.0L59.4,947.0L59.9,945.0L61.5,941.1L62.7,939.0L64.2,937.0L65.9,935.0L67.9,933.0L70.1,931.0L72.5,929.0L75.2,927.0L77.5,925.5L79.5,924.2L81.5,923.0L85.0,921.0L87.5,919.7L89.5,918.7L93.0,917.0L95.5,915.9L97.7,915.0L101.5,913.5L103.5,912.8L107.5,911.5L109.5,910.9L113.5,909.7L116.4,909.0L119.5,908.3L123.5,907.5L126.3,907.0L129.5,906.5L133.5,906.0L137.5,905.7L141.5,905.4L145.5,905.3L149.5,905.4L153.5,905.6L157.5,905.9L161.5,906.4L165.3,907.0L167.5,907.4L171.5,908.3L173.9,909.0L177.5,910.1L180.1,911.0L183.5,912.4L185.5,913.2L189.1,915.0L191.5,916.3L193.5,917.5L195.8,919.0L198.6,921.0L201.2,923.0L203.5,925.0L205.5,926.8L207.5,928.8L209.5,930.9L211.3,933.0L212.9,935.0L214.5,937.0L215.9,939.0L217.5,941.3L219.5,944.5L221.0,947.0L222.1,949.0L223.5,951.9L225.0,955.0L225.8,957.0L227.3,961.0L228.0,963.0L229.1,967.0L229.6,969.0L230.4,973.0L231.0,977.0L231.4,981.0L231.5,983.0L231.5,987.0L231.3,989.0L229.5,992.8L227.5,994.0L224.2,995.0L221.5,995.5L217.5,996.2L213.5,996.8L211.5,997.0L207.5,997.5L203.5,998.0L199.5,998.4L195.5,998.8L193.5,999.0L193.5,999.0 M501.5,963.1L497.5,963.9L493.5,964.1L489.5,963.9L485.5,963.1L483.5,962.5L479.5,961.0L477.5,960.0L475.5,958.9L472.6,957.0L470.0,955.0L467.9,953.0L466.0,951.0L464.3,949.0L462.9,947.0L461.5,944.8L459.6,941.0L458.8,939.0L457.6,935.0L457.2,933.0L456.7,929.0L456.5,925.0L456.7,921.0L457.0,917.0L457.5,913.0L457.7,911.0L458.2,907.0L458.7,903.0L459.0,899.0L459.3,895.0L459.5,892.0L459.6,889.0L459.8,885.0L460.0,881.0L460.2,877.0L460.6,873.0L461.1,869.0L461.5,866.3L462.1,863.0L463.1,859.0L463.7,857.0L465.1,853.0L465.9,851.0L467.5,847.4L468.7,845.0L469.8,843.0L471.5,840.2L473.5,837.1L475.0,835.0L476.4,833.0L477.9,831.0L479.5,828.9L481.5,826.4L483.5,823.8L485.5,821.1L486.9,819.0L488.1,817.0L489.5,813.0L489.5,811.0L489.1,809.0L487.5,806.4L485.5,804.2L483.5,802.5L481.5,801.0L478.6,799.0L475.5,797.0L473.5,795.8L471.5,794.6L468.9,793.0L465.7,791.0L463.5,789.6L461.5,788.3L459.5,787.0L456.5,785.0L453.7,783.0L451.5,781.4L449.5,779.9L447.5,778.3L445.5,776.7L443.5,775.0L441.2,773.0L438.9,771.0L436.7,769.0L434.5,767.0L432.3,765.0L430.0,763.0L427.5,761.0L425.5,759.6L423.5,758.4L420.3,757.0L417.5,756.2L413.5,755.8L409.5,756.1L405.5,756.7L403.5,757.0L399.5,757.9L395.5,758.9L393.5,759.4L389.5,760.4L387.1,761.0L383.5,761.8L379.5,762.7L377.5,763.1L373.5,763.9L369.5,764.6L366.4,765.0L363.5,765.4L359.5,765.7L355.5,766.0L351.5,766.1L347.5,766.2L343.5,766.1L339.5,765.8L335.5,765.4L332.2,765.0L329.5,764.6L325.5,763.9L321.5,763.0L319.5,762.6L315.5,761.5L313.5,760.9L309.5,759.6L307.5,758.9L303.5,757.3L301.5,756.5L298.2,755.0L295.5,753.7L293.5,752.6L290.6,751.0L287.5,749.1L285.5,747.7L283.5,746.3L281.5,744.8L279.4,743.0L277.2,741.0L275.2,739.0L273.5,737.0L271.5,734.5L269.5,731.4L268.2,729.0L267.3,727.0L265.9,723.0L265.5,721.0L265.0,717.0L265.2,713.0L265.5,711.0L266.6,707.0L267.5,704.9L269.5,701.3L271.1,699.0L272.8,697.0L274.8,695.0L277.1,693.0L279.5,691.2L281.5,689.8L283.5,688.6L286.6,687.0L289.5,685.7L291.5,684.9L295.5,683.4L297.5,682.8L301.5,681.7L304.7,681.0L307.5,680.5L311.5,679.8L315.5,679.4L319.5,679.1L321.5,679.0L325.5,678.8L329.5,678.8L333.5,679.0L335.5,679.1L339.5,679.4L343.5,679.8L347.5,680.4L351.1,681.0L353.5,681.5L357.5,682.3L360.2,683.0L363.5,683.9L367.1,685.0L369.5,685.8L372.7,687.0L375.5,688.1L377.6,689.0L381.5,690.8L383.5,691.8L385.7,693.0L389.2,695.0L391.5,696.5L393.5,697.8L395.5,699.2L397.8,701.0L400.3,703.0L402.6,705.0L404.8,707.0L406.9,709.0L408.9,711.0L410.9,713.0L412.8,715.0L414.7,717.0L416.6,719.0L418.6,721.0L420.8,723.0L423.3,725.0L425.5,726.4L427.5,727.4L431.5,728.5L435.5,728.7L439.5,728.3L443.5,727.4L445.5,726.9L449.5,725.8L451.9,725.0L455.5,723.8L458.0,723.0L461.5,721.8L463.9,721.0L467.5,719.8L470.0,719.0L473.5,717.9L476.5,717.0L479.5,716.1L483.5,715.1L485.5,714.6L489.5,713.6L492.4,713.0L495.5,712.4L499.5,711.7L503.5,711.1L505.5,710.9L509.5,710.5L513.5,710.2L517.5,710.1L521.5,710.1L525.5,710.2L529.5,710.5L533.3,711.0L535.5,711.3L539.5,712.0L543.5,713.0L545.5,713.5L549.5,714.8L551.5,715.5L555.0,717.0L557.5,718.2L559.5,719.2L562.5,721.0L565.5,723.0L567.5,724.5L569.5,726.2L571.5,728.0L573.5,730.1L575.5,732.5L577.3,735.0L578.6,737.0L579.7,739.0L581.4,743.0L582.1,745.0L583.1,749.0L583.5,752.0L583.7,755.0L583.5,759.0L583.3,761.0L582.4,765.0L581.5,768.1L580.5,771.0L579.5,773.2L577.6,777.0L576.6,779.0L575.4,781.0L573.5,784.2L571.8,787.0L570.6,789.0L569.5,791.2L568.1,795.0L568.1,799.0L569.5,801.6L571.5,803.5L573.5,805.0L577.2,807.0L579.5,808.1L581.5,809.0L585.5,810.7L587.5,811.5L591.0,813.0L593.5,814.1L595.5,815.0L599.5,816.9L601.5,818.0L603.5,819.1L606.5,821.0L609.4,823.0L611.5,824.7L613.5,826.5L615.5,828.6L617.3,831.0L618.6,833.0L619.6,835.0L621.0,839.0L621.5,842.0L621.6,845.0L621.5,847.0L620.7,851.0L619.5,854.7L618.5,857.0L617.5,859.0L615.5,862.4L613.8,865.0L612.3,867.0L610.7,869.0L609.0,871.0L607.2,873.0L605.3,875.0L603.3,877.0L601.2,879.0L599.0,881.0L596.7,883.0L594.3,885.0L591.8,887.0L589.5,888.7L587.5,890.2L585.5,891.7L583.5,893.1L580.7,895.0L577.7,897.0L575.5,898.5L573.5,899.8L571.5,901.0L568.4,903.0L565.5,904.9L563.5,906.1L561.5,907.4L559.1,909.0L556.1,911.0L553.5,912.9L551.5,914.4L549.5,915.9L547.5,917.6L545.5,919.3L543.5,921.2L541.5,923.3L539.5,925.6L537.5,928.1L535.5,930.9L534.1,933.0L532.8,935.0L531.5,937.0L529.5,940.2L527.7,943.0L526.3,945.0L524.8,947.0L523.2,949.0L521.4,951.0L519.4,953.0L517.2,955.0L514.6,957.0L511.5,959.0L509.5,960.1L507.5,961.1L503.5,962.6L501.5,963.1L501.5,963.1 M179.5,993.0L175.5,993.5L171.5,993.8L167.5,994.0L163.5,994.2L159.5,994.2L155.5,994.1L151.5,993.9L147.5,993.6L143.5,993.1L141.5,992.8L137.5,992.2L133.5,991.4L131.5,991.0L127.5,990.0L124.1,989.0L121.5,988.2L118.1,987.0L115.5,986.0L112.9,985.0L109.5,983.5L107.5,982.6L104.2,981.0L101.5,979.6L99.5,978.5L96.9,977.0L93.7,975.0L91.5,973.6L89.5,972.2L87.5,970.7L85.2,969.0L82.9,967.0L80.7,965.0L78.8,963.0L77.1,961.0L75.5,958.8L73.5,955.1L72.8,953.0L72.2,949.0L72.7,945.0L73.5,942.6L75.4,939.0L76.9,937.0L78.6,935.0L80.5,933.0L82.8,931.0L85.3,929.0L87.5,927.4L89.5,926.1L91.5,924.9L94.8,923.0L97.5,921.6L99.5,920.7L103.3,919.0L105.5,918.1L108.4,917.0L111.5,915.9L114.5,915.0L117.5,914.2L121.5,913.2L123.5,912.7L127.5,912.0L131.5,911.4L134.7,911.0L137.5,910.7L141.5,910.5L145.5,910.4L149.5,910.5L153.5,910.7L156.3,911.0L159.5,911.4L163.5,912.1L167.5,913.0L169.5,913.5L173.5,914.7L175.5,915.4L179.5,917.0L181.5,917.9L183.6,919.0L187.2,921.0L189.5,922.5L191.5,923.8L193.5,925.3L195.6,927.0L197.8,929.0L199.8,931.0L201.7,933.0L203.5,935.1L205.5,937.6L207.5,940.4L209.2,943.0L210.3,945.0L211.5,947.2L213.3,951.0L214.1,953.0L215.4,957.0L215.9,959.0L216.6,963.0L216.8,967.0L216.5,971.0L215.5,974.8L214.5,977.0L213.3,979.0L211.5,981.2L209.5,983.1L206.8,985.0L203.5,986.8L201.5,987.7L198.0,989.0L195.5,989.8L191.5,990.8L189.5,991.3L185.5,992.1L181.5,992.7L179.5,993.0L179.5,993.0 M509.5,1083.0L505.5,1083.5L501.5,1083.9L497.5,1084.0L493.5,1084.0L489.5,1083.9L485.5,1083.6L481.5,1083.2L479.5,1083.0L475.5,1082.4L471.5,1081.7L467.5,1081.0L465.5,1080.6L461.5,1079.7L458.3,1079.0L455.5,1078.4L451.5,1077.4L449.5,1076.9L445.5,1076.0L441.5,1075.0L439.5,1074.6L435.5,1073.8L431.5,1073.1L429.5,1072.8L425.5,1072.3L421.5,1071.9L417.5,1071.7L413.5,1071.6L409.5,1071.7L405.5,1071.9L401.5,1072.2L397.5,1072.6L394.0,1073.0L391.5,1073.3L387.5,1073.8L383.5,1074.4L379.5,1074.9L377.5,1075.1L373.5,1075.6L369.5,1076.0L365.5,1076.4L361.5,1076.7L357.5,1076.9L355.5,1077.0L351.5,1077.1L347.5,1077.2L343.5,1077.1L340.2,1077.0L337.5,1076.9L333.5,1076.6L329.5,1076.3L325.5,1075.9L321.5,1075.4L319.1,1075.0L315.5,1074.4L311.5,1073.7L308.0,1073.0L305.5,1072.4L301.5,1071.5L299.5,1071.0L295.5,1069.8L292.7,1069.0L289.5,1067.9L286.9,1067.0L283.5,1065.7L281.5,1064.9L277.5,1063.1L275.5,1062.1L273.3,1061.0L269.7,1059.0L267.5,1057.6L265.5,1056.3L263.5,1054.8L261.1,1053.0L258.9,1051.0L256.8,1049.0L255.0,1047.0L253.4,1045.0L251.5,1042.3L249.5,1039.0L248.6,1037.0L247.5,1034.1L246.6,1031.0L246.0,1027.0L245.9,1023.0L246.4,1019.0L247.5,1015.3L248.5,1013.0L249.7,1011.0L251.5,1008.7L253.5,1006.8L255.7,1005.0L259.0,1003.0L261.5,1001.8L263.5,1000.9L267.5,999.5L269.5,998.9L273.5,997.8L276.9,997.0L279.5,996.5L283.5,995.8L287.5,995.2L289.5,994.9L293.5,994.4L297.5,994.0L301.5,993.7L305.5,993.5L309.5,993.3L313.5,993.2L317.5,993.1L321.5,993.2L325.5,993.2L329.5,993.4L333.5,993.6L337.5,993.8L341.5,994.1L345.5,994.5L349.5,994.9L351.5,995.2L355.5,995.7L359.5,996.2L363.5,996.8L365.5,997.1L369.5,997.8L373.5,998.5L376.4,999.0L379.5,999.5L383.5,1000.3L387.5,1001.0L389.5,1001.4L393.5,1002.1L397.5,1002.7L399.5,1003.0L403.5,1003.6L407.5,1004.1L411.5,1004.4L415.5,1004.7L419.5,1004.8L423.5,1004.9L427.5,1004.7L431.5,1004.5L435.5,1004.2L439.5,1003.7L443.5,1003.2L445.5,1002.9L449.5,1002.3L453.5,1001.6L457.4,1001.0L459.5,1000.7L463.5,1000.0L467.5,999.5L471.3,999.0L473.5,998.8L477.5,998.4L481.5,998.3L485.5,998.3L489.5,998.6L492.8,999.0L495.5,999.4L499.5,1000.3L502.2,1001.0L505.5,1002.0L508.3,1003.0L511.5,1004.2L513.5,1005.1L517.5,1006.9L519.5,1008.0L521.5,1009.0L524.9,1011.0L527.5,1012.7L529.5,1014.0L531.5,1015.5L533.5,1017.1L535.8,1019.0L537.9,1021.0L539.8,1023.0L541.6,1025.0L543.5,1027.5L545.5,1030.6L546.8,1033.0L547.7,1035.0L549.1,1039.0L549.6,1041.0L550.2,1045.0L550.3,1049.0L549.8,1053.0L549.3,1055.0L547.9,1059.0L546.9,1061.0L545.5,1063.4L543.5,1066.1L541.5,1068.4L539.5,1070.3L537.5,1072.0L535.5,1073.5L533.2,1075.0L529.6,1077.0L527.5,1078.0L525.1,1079.0L521.5,1080.3L519.1,1081.0L515.5,1081.9L511.5,1082.7L509.5,1083.0L509.5,1083.0 M353.5,761.1L349.5,761.2L345.5,761.2L341.5,761.1L339.5,761.0L335.5,760.6L331.5,760.1L327.5,759.5L325.2,759.0L321.5,758.2L317.5,757.1L315.5,756.5L311.5,755.2L309.5,754.5L305.7,753.0L303.5,752.0L301.3,751.0L297.5,749.1L295.5,747.9L293.5,746.7L290.9,745.0L288.1,743.0L285.6,741.0L283.5,739.1L281.5,737.0L279.7,735.0L278.2,733.0L276.8,731.0L275.5,728.7L273.9,725.0L273.3,723.0L272.5,719.0L272.5,715.0L273.1,711.0L273.7,709.0L275.5,705.1L276.8,703.0L278.3,701.0L280.1,699.0L282.3,697.0L284.8,695.0L287.5,693.2L289.5,692.0L291.5,691.0L295.5,689.2L297.5,688.4L301.5,687.1L303.5,686.5L307.5,685.6L310.5,685.0L313.5,684.5L317.5,684.0L321.5,683.7L325.5,683.5L329.5,683.5L333.5,683.6L337.5,683.9L341.5,684.3L345.5,684.8L347.5,685.1L351.5,685.9L355.5,686.8L357.5,687.3L361.5,688.4L363.5,689.0L367.5,690.4L369.5,691.1L373.5,692.8L375.5,693.7L378.0,695.0L381.5,696.9L383.5,698.1L385.5,699.4L387.8,701.0L390.4,703.0L392.9,705.0L395.0,707.0L397.1,709.0L398.9,711.0L400.6,713.0L402.2,715.0L403.6,717.0L405.5,720.1L407.1,723.0L408.1,725.0L409.5,729.0L410.0,731.0L410.2,735.0L409.5,738.0L407.9,741.0L406.3,743.0L404.0,745.0L401.5,746.8L399.5,748.0L397.5,749.2L393.9,751.0L391.5,752.1L389.4,753.0L385.5,754.5L383.5,755.2L379.5,756.5L377.5,757.1L373.5,758.1L369.5,759.0L367.5,759.4L363.5,760.1L359.5,760.6L355.5,760.9L353.5,761.1L353.5,761.1 M529.5,803.6L525.5,804.2L521.5,804.0L517.5,803.1L515.5,802.7L511.5,801.8L509.0,801.0L505.5,800.1L502.2,799.0L499.5,798.2L496.2,797.0L493.5,796.1L490.8,795.0L487.5,793.7L485.5,792.9L481.5,791.2L479.5,790.3L476.9,789.0L473.5,787.3L471.5,786.2L469.4,785.0L466.0,783.0L463.5,781.4L461.5,780.0L459.5,778.6L457.4,777.0L455.0,775.0L452.7,773.0L450.6,771.0L448.7,769.0L446.9,767.0L445.3,765.0L443.5,762.4L441.5,759.1L440.5,757.0L439.5,754.4L438.7,751.0L439.0,747.0L439.7,745.0L441.5,742.1L443.5,739.9L445.5,738.2L447.5,736.7L450.0,735.0L453.3,733.0L455.5,731.8L457.5,730.7L460.9,729.0L463.5,727.8L465.5,726.9L469.5,725.2L471.5,724.4L475.2,723.0L477.5,722.2L481.0,721.0L483.5,720.2L487.5,719.1L489.5,718.6L493.5,717.6L496.4,717.0L499.5,716.4L503.5,715.8L507.5,715.3L510.8,715.0L513.5,714.8L517.5,714.7L521.5,714.7L525.5,714.9L527.5,715.0L531.5,715.5L535.5,716.1L539.5,717.0L541.5,717.5L545.5,718.7L547.5,719.4L551.4,721.0L553.5,722.0L555.5,723.1L558.8,725.0L561.5,726.9L563.5,728.5L565.5,730.3L567.5,732.3L569.5,734.7L571.2,737.0L572.4,739.0L573.5,741.1L575.1,745.0L575.6,747.0L576.4,751.0L576.5,755.0L576.1,759.0L575.5,762.0L574.6,765.0L573.5,767.6L571.8,771.0L570.5,773.0L569.2,775.0L567.5,777.2L565.5,779.5L563.5,781.7L561.5,783.6L559.5,785.4L557.5,787.1L555.0,789.0L552.3,791.0L549.5,792.9L547.5,794.3L545.5,795.5L543.0,797.0L539.5,799.0L537.5,800.1L535.5,801.0L531.5,802.8L529.5,803.6L529.5,803.6 M495.5,951.0L492.5,951.0L489.5,950.7L485.5,949.6L483.5,948.8L480.3,947.0L477.6,945.0L475.5,943.0L473.9,941.0L472.6,939.0L471.4,937.0L469.9,933.0L469.3,931.0L468.7,927.0L468.4,923.0L468.4,919.0L468.5,915.0L468.7,911.0L468.9,907.0L469.0,903.0L469.0,899.0L468.9,895.0L468.7,891.0L468.6,887.0L468.5,883.0L468.5,879.0L468.6,875.0L468.9,871.0L469.5,867.0L469.9,865.0L470.8,861.0L471.5,858.6L472.8,855.0L473.6,853.0L475.5,849.2L476.7,847.0L478.0,845.0L479.5,842.8L481.5,840.1L483.5,837.7L485.5,835.5L487.5,833.5L489.5,831.6L491.5,829.8L493.5,828.1L495.5,826.5L497.5,825.0L500.2,823.0L503.2,821.0L505.5,819.5L507.5,818.2L509.6,817.0L513.0,815.0L515.5,813.6L517.5,812.5L520.9,811.0L523.5,809.7L526.4,809.0L529.5,808.4L533.5,808.6L536.0,809.0L539.5,809.5L543.5,810.1L547.5,810.9L549.5,811.3L553.5,812.0L557.5,812.8L559.5,813.2L563.5,814.0L567.5,814.8L569.5,815.3L573.5,816.2L576.4,817.0L579.5,817.8L583.3,819.0L585.5,819.7L588.9,821.0L591.5,822.1L593.5,823.0L597.4,825.0L599.5,826.3L601.5,827.6L603.5,829.1L605.6,831.0L607.5,833.0L609.5,835.8L611.1,839.0L611.8,841.0L612.5,845.0L612.5,849.0L611.7,853.0L611.0,855.0L609.5,858.6L608.3,861.0L607.1,863.0L605.5,865.3L603.5,868.0L601.5,870.4L599.5,872.7L597.5,874.7L595.5,876.7L593.5,878.6L591.5,880.3L589.5,882.0L587.5,883.6L585.5,885.2L583.1,887.0L580.3,889.0L577.5,890.9L575.5,892.3L573.5,893.6L571.2,895.0L568.0,897.0L565.5,898.5L563.5,899.7L561.2,901.0L557.8,903.0L555.5,904.3L553.5,905.5L551.0,907.0L547.7,909.0L545.5,910.4L543.5,911.7L541.5,913.1L538.8,915.0L536.2,917.0L533.8,919.0L531.6,921.0L529.6,923.0L527.8,925.0L526.1,927.0L524.5,929.0L522.9,931.0L521.5,933.0L519.5,935.6L517.5,938.1L515.5,940.4L513.5,942.5L511.5,944.3L509.5,945.9L507.5,947.2L503.9,949.0L501.5,949.9L497.5,950.8L495.5,951.0L495.5,951.0 M167.5,987.2L163.5,987.5L159.5,987.6L155.5,987.6L151.5,987.5L147.5,987.2L145.5,987.0L141.5,986.4L137.5,985.8L133.9,985.0L131.5,984.4L127.5,983.3L125.5,982.7L121.5,981.3L119.5,980.5L115.9,979.0L113.5,977.9L111.5,977.0L107.8,975.0L105.5,973.7L103.5,972.4L101.3,971.0L98.5,969.0L96.0,967.0L93.7,965.0L91.7,963.0L89.9,961.0L88.4,959.0L87.1,957.0L85.5,953.4L84.9,951.0L84.8,947.0L85.5,943.8L86.6,941.0L87.8,939.0L89.5,936.8L91.5,934.6L93.5,932.8L95.7,931.0L98.5,929.0L101.5,927.1L103.5,926.0L105.5,925.0L109.5,923.1L111.5,922.3L114.9,921.0L117.5,920.1L121.4,919.0L123.5,918.5L127.5,917.6L130.9,917.0L133.5,916.6L137.5,916.2L141.5,915.9L145.5,915.9L149.5,916.0L153.5,916.3L157.5,916.8L159.5,917.1L163.5,918.0L167.3,919.0L169.5,919.7L173.0,921.0L175.5,922.1L177.5,923.0L181.1,925.0L183.5,926.6L185.5,928.0L187.5,929.5L189.5,931.2L191.5,933.1L193.5,935.2L195.5,937.5L197.5,940.2L199.3,943.0L200.5,945.0L201.5,947.1L203.1,951.0L203.8,953.0L204.7,957.0L205.0,961.0L204.7,965.0L203.6,969.0L202.7,971.0L201.4,973.0L199.5,975.3L197.5,977.2L195.1,979.0L191.6,981.0L189.5,982.0L187.0,983.0L183.5,984.2L180.5,985.0L177.5,985.7L173.5,986.4L169.5,987.0L167.5,987.2L167.5,987.2 M499.5,1079.1L495.5,1079.2L491.5,1079.1L488.6,1079.0L485.5,1078.8L481.5,1078.4L477.5,1077.8L473.5,1077.2L471.5,1076.8L467.5,1076.0L463.5,1075.1L461.5,1074.6L457.5,1073.6L455.1,1073.0L451.5,1072.0L447.6,1071.0L445.5,1070.5L441.5,1069.4L439.5,1069.0L435.5,1068.0L431.5,1067.3L429.5,1066.9L425.5,1066.3L421.5,1065.9L417.5,1065.7L413.5,1065.6L409.5,1065.8L405.5,1066.0L401.5,1066.4L397.5,1066.9L395.5,1067.2L391.5,1067.8L387.5,1068.5L384.1,1069.0L381.5,1069.4L377.5,1070.0L373.5,1070.6L369.9,1071.0L367.5,1071.3L363.5,1071.7L359.5,1072.0L355.5,1072.2L351.5,1072.4L347.5,1072.4L343.5,1072.4L339.5,1072.3L335.5,1072.1L331.5,1071.8L327.5,1071.4L324.6,1071.0L321.5,1070.6L317.5,1069.9L313.5,1069.2L311.5,1068.8L307.5,1067.9L303.9,1067.0L301.5,1066.4L297.5,1065.2L295.5,1064.5L291.5,1063.1L289.5,1062.3L286.3,1061.0L283.5,1059.8L281.5,1058.8L278.1,1057.0L275.5,1055.4L273.5,1054.1L271.5,1052.7L269.2,1051.0L266.9,1049.0L264.9,1047.0L263.1,1045.0L261.5,1043.0L259.5,1039.8L258.1,1037.0L257.4,1035.0L256.4,1031.0L256.2,1027.0L256.7,1023.0L257.5,1020.5L259.2,1017.0L260.6,1015.0L262.4,1013.0L264.6,1011.0L267.3,1009.0L269.5,1007.7L271.5,1006.6L275.2,1005.0L277.5,1004.1L281.0,1003.0L283.5,1002.3L287.5,1001.3L289.5,1000.9L293.5,1000.1L297.5,999.5L301.5,999.0L303.5,998.8L307.5,998.5L311.5,998.2L315.5,998.1L319.5,998.0L323.5,998.0L327.5,998.0L331.5,998.2L335.5,998.4L339.5,998.7L343.1,999.0L345.5,999.2L349.5,999.7L353.5,1000.2L357.5,1000.8L359.5,1001.1L363.5,1001.7L367.5,1002.4L370.6,1003.0L373.5,1003.6L377.5,1004.4L380.5,1005.0L383.5,1005.6L387.5,1006.5L390.1,1007.0L393.5,1007.7L397.5,1008.5L400.4,1009.0L403.5,1009.5L407.5,1010.1L411.5,1010.6L415.5,1010.9L417.5,1011.1L421.5,1011.2L425.5,1011.2L429.5,1011.0L431.5,1010.9L435.5,1010.6L439.5,1010.1L443.5,1009.6L447.5,1009.0L449.5,1008.7L453.5,1008.2L457.5,1007.6L461.5,1007.0L463.5,1006.8L467.5,1006.3L471.5,1005.9L475.5,1005.7L479.5,1005.6L483.5,1005.6L487.5,1005.8L491.5,1006.2L495.5,1006.7L497.5,1007.1L501.5,1008.0L505.1,1009.0L507.5,1009.7L511.0,1011.0L513.5,1012.0L515.7,1013.0L519.5,1014.9L521.5,1016.0L523.5,1017.2L526.2,1019.0L528.9,1021.0L531.3,1023.0L533.4,1025.0L535.3,1027.0L536.9,1029.0L538.4,1031.0L539.6,1033.0L541.5,1036.8L542.3,1039.0L543.3,1043.0L543.5,1045.0L543.5,1049.0L543.3,1051.0L542.3,1055.0L541.5,1057.0L539.5,1060.7L537.9,1063.0L536.2,1065.0L534.1,1067.0L531.6,1069.0L529.5,1070.5L527.5,1071.7L525.0,1073.0L521.5,1074.6L519.5,1075.3L515.5,1076.6L513.5,1077.1L509.5,1077.9L505.5,1078.5L501.5,1078.9L499.5,1079.1L499.5,1079.1 M359.5,755.1L355.5,755.6L351.5,756.0L347.5,756.2L343.5,756.2L339.5,756.0L335.5,755.6L331.5,755.1L329.5,754.8L325.5,754.1L321.5,753.1L319.5,752.6L315.5,751.3L313.5,750.6L309.5,749.1L307.5,748.2L304.9,747.0L301.5,745.2L299.5,744.1L297.5,742.8L294.9,741.0L292.3,739.0L290.1,737.0L288.1,735.0L286.4,733.0L284.9,731.0L283.5,728.8L281.7,725.0L281.0,723.0L280.3,719.0L280.4,715.0L281.3,711.0L282.1,709.0L283.5,706.4L285.5,703.6L287.5,701.5L289.5,699.7L291.5,698.2L293.5,696.9L296.9,695.0L299.5,693.8L301.5,693.0L305.5,691.6L307.7,691.0L311.5,690.1L315.5,689.4L318.6,689.0L321.5,688.7L325.5,688.5L329.5,688.4L333.5,688.5L337.5,688.8L339.9,689.0L343.5,689.4L347.5,690.1L351.5,690.9L353.5,691.4L357.5,692.5L359.5,693.1L363.5,694.4L365.5,695.2L369.5,696.9L371.5,697.9L373.6,699.0L377.1,701.0L379.5,702.6L381.5,704.0L383.5,705.6L385.5,707.3L387.5,709.2L389.5,711.4L391.5,713.9L393.5,716.8L394.7,719.0L395.6,721.0L396.9,725.0L397.3,729.0L396.8,733.0L395.5,736.4L393.9,739.0L392.2,741.0L390.1,743.0L387.5,745.0L385.5,746.2L383.5,747.4L380.4,749.0L377.5,750.2L375.5,751.0L371.5,752.4L369.4,753.0L365.5,754.0L361.5,754.8L359.5,755.1L359.5,755.1 M531.5,789.0L527.5,789.9L523.5,790.4L519.5,790.7L515.5,790.8L511.5,790.7L507.5,790.4L503.5,789.9L499.5,789.1L497.5,788.7L493.5,787.7L491.3,787.0L487.5,785.8L485.5,785.0L481.5,783.4L479.5,782.5L476.5,781.0L473.5,779.4L471.5,778.2L469.5,776.9L466.8,775.0L464.2,773.0L462.0,771.0L460.0,769.0L458.2,767.0L456.7,765.0L455.4,763.0L453.5,759.1L452.8,757.0L452.3,753.0L452.8,749.0L453.5,747.0L455.5,743.6L457.5,741.1L459.5,739.1L461.5,737.4L463.5,735.9L465.5,734.5L468.0,733.0L471.5,731.0L473.5,730.0L475.7,729.0L479.5,727.3L481.5,726.6L485.5,725.1L487.5,724.5L491.5,723.3L493.5,722.7L497.5,721.8L501.5,721.0L503.5,720.7L507.5,720.1L511.5,719.7L515.5,719.5L519.5,719.5L523.5,719.6L527.5,719.9L531.5,720.5L534.4,721.0L537.5,721.7L541.5,722.8L543.5,723.5L547.2,725.0L549.5,726.1L551.5,727.2L554.4,729.0L557.2,731.0L559.5,733.0L561.5,735.0L563.2,737.0L564.6,739.0L565.8,741.0L567.5,744.7L568.2,747.0L568.9,751.0L569.0,755.0L568.4,759.0L567.5,761.9L566.2,765.0L565.1,767.0L563.5,769.4L561.5,772.0L559.5,774.2L557.5,776.1L555.5,777.7L553.5,779.3L550.9,781.0L547.5,783.0L545.5,784.0L543.5,785.0L539.5,786.6L537.5,787.3L533.5,788.6L531.5,789.0L531.5,789.0 M497.5,929.1L494.9,929.0L491.5,927.7L489.5,926.0L487.5,923.2L486.5,921.0L485.5,918.5L484.5,915.0L483.5,911.3L483.0,909.0L482.0,905.0L481.5,902.8L480.6,899.0L479.8,895.0L479.4,893.0L478.6,889.0L478.0,885.0L477.6,881.0L477.5,879.0L477.4,875.0L477.5,872.2L477.8,869.0L478.5,865.0L479.5,861.0L480.2,859.0L481.5,855.7L482.8,853.0L483.9,851.0L485.5,848.6L487.5,845.9L489.5,843.5L491.5,841.4L493.5,839.5L495.5,837.8L497.5,836.2L499.5,834.8L502.2,833.0L505.5,831.1L507.5,830.0L509.7,829.0L513.5,827.4L515.5,826.6L519.5,825.3L521.5,824.8L525.5,823.8L529.5,823.1L531.5,822.8L535.5,822.3L539.5,822.0L543.5,821.8L547.5,821.8L551.5,821.9L555.5,822.1L559.5,822.5L563.5,822.9L565.5,823.2L569.5,823.9L573.5,824.7L575.5,825.2L579.5,826.3L581.7,827.0L585.5,828.4L587.5,829.3L590.7,831.0L593.5,832.8L595.5,834.3L597.5,836.1L599.5,838.5L601.1,841.0L602.0,843.0L602.9,847.0L602.9,851.0L602.1,855.0L601.5,857.0L599.7,861.0L598.5,863.0L597.2,865.0L595.5,867.4L593.5,869.8L591.5,872.1L589.5,874.1L587.5,876.1L585.5,877.9L583.5,879.6L581.5,881.2L579.2,883.0L576.4,885.0L573.5,887.0L571.5,888.3L569.5,889.6L567.2,891.0L563.8,893.0L561.5,894.3L559.5,895.4L556.5,897.0L553.5,898.6L551.5,899.6L548.8,901.0L545.5,902.6L543.5,903.6L540.8,905.0L537.5,906.7L535.5,907.7L532.9,909.0L529.5,910.8L527.5,912.0L525.5,913.1L522.2,915.0L519.5,916.7L517.5,918.0L515.5,919.4L513.1,921.0L510.3,923.0L507.5,924.9L505.5,926.2L503.5,927.3L499.5,928.8L497.5,929.1L497.5,929.1 M167.5,979.3L163.5,979.9L159.5,980.3L155.5,980.4L151.5,980.4L147.5,980.1L143.5,979.7L139.5,979.0L137.5,978.6L133.5,977.7L131.2,977.0L127.5,975.8L125.3,975.0L121.5,973.4L119.5,972.5L116.6,971.0L113.5,969.2L111.5,968.0L109.5,966.6L107.5,965.0L105.1,963.0L103.2,961.0L101.5,959.0L99.5,956.0L98.1,953.0L97.5,949.9L97.5,947.0L97.8,945.0L99.5,941.0L100.8,939.0L102.5,937.0L104.6,935.0L107.1,933.0L109.5,931.4L111.5,930.2L113.7,929.0L117.5,927.3L119.5,926.5L123.5,925.1L125.5,924.5L129.5,923.6L132.5,923.0L135.5,922.6L139.5,922.2L143.5,922.0L147.5,922.1L151.5,922.3L155.5,922.9L157.5,923.2L161.5,924.2L164.3,925.0L167.5,926.2L169.5,927.0L173.5,929.0L175.5,930.2L177.5,931.6L179.5,933.0L181.8,935.0L183.8,937.0L185.6,939.0L187.5,941.5L189.5,944.7L190.7,947.0L191.5,949.0L192.6,953.0L193.1,957.0L192.7,961.0L191.5,964.9L190.3,967.0L188.9,969.0L186.9,971.0L184.4,973.0L181.5,974.7L179.5,975.7L176.4,977.0L173.5,977.9L169.5,978.9L167.5,979.3L167.5,979.3 M505.5,1073.2L501.5,1073.7L497.5,1074.0L493.5,1074.1L489.5,1074.0L485.5,1073.7L481.5,1073.3L479.5,1073.0L475.5,1072.3L471.5,1071.5L469.0,1071.0L465.5,1070.2L461.5,1069.1L459.5,1068.5L455.5,1067.4L453.5,1066.8L449.5,1065.5L447.5,1064.9L443.5,1063.7L441.0,1063.0L437.5,1062.0L433.5,1061.0L431.5,1060.5L427.5,1059.7L423.5,1059.2L421.5,1059.0L417.5,1058.7L413.5,1058.7L409.5,1059.0L407.5,1059.1L403.5,1059.6L399.5,1060.2L395.5,1060.9L393.5,1061.3L389.5,1062.1L385.5,1062.9L383.5,1063.3L379.5,1064.1L375.5,1064.8L373.5,1065.1L369.5,1065.7L365.5,1066.3L361.5,1066.7L358.0,1067.0L355.5,1067.2L351.5,1067.4L347.5,1067.5L343.5,1067.5L339.5,1067.4L335.5,1067.1L333.5,1067.0L329.5,1066.6L325.5,1066.2L321.5,1065.6L318.2,1065.0L315.5,1064.5L311.5,1063.6L309.0,1063.0L305.5,1062.1L302.0,1061.0L299.5,1060.2L296.3,1059.0L293.5,1057.9L291.5,1057.0L287.5,1055.1L285.5,1054.0L283.5,1052.9L280.6,1051.0L277.9,1049.0L275.6,1047.0L273.5,1045.0L271.8,1043.0L270.3,1041.0L269.1,1039.0L267.5,1035.3L266.9,1033.0L266.6,1029.0L267.2,1025.0L267.9,1023.0L269.5,1020.2L271.5,1017.6L273.5,1015.7L275.5,1014.1L277.5,1012.7L280.5,1011.0L283.5,1009.6L285.5,1008.8L289.5,1007.5L291.5,1006.9L295.5,1005.9L299.5,1005.1L301.5,1004.7L305.5,1004.1L309.5,1003.7L313.5,1003.4L317.5,1003.1L321.5,1003.0L323.5,1003.0L325.7,1003.0L329.5,1003.1L333.5,1003.2L337.5,1003.5L341.5,1003.8L345.5,1004.2L349.5,1004.7L352.1,1005.0L355.5,1005.5L359.5,1006.2L363.5,1006.9L365.5,1007.3L369.5,1008.1L373.4,1009.0L375.5,1009.5L379.5,1010.4L381.8,1011.0L385.5,1011.9L389.5,1012.9L391.5,1013.5L395.5,1014.4L397.8,1015.0L401.5,1015.8L405.5,1016.6L407.5,1017.0L411.5,1017.6L415.5,1018.1L419.5,1018.3L423.5,1018.4L427.5,1018.3L431.5,1018.0L435.5,1017.5L439.3,1017.0L441.5,1016.7L445.5,1016.0L449.5,1015.4L451.6,1015.0L455.5,1014.3L459.5,1013.7L463.5,1013.2L465.5,1012.9L469.5,1012.5L473.5,1012.2L477.5,1012.0L481.5,1012.0L485.5,1012.1L489.5,1012.4L493.5,1012.9L495.5,1013.2L499.5,1014.0L503.5,1015.0L505.5,1015.6L509.4,1017.0L511.5,1017.8L514.0,1019.0L517.5,1020.8L519.5,1022.0L521.5,1023.3L523.8,1025.0L526.2,1027.0L528.3,1029.0L530.1,1031.0L531.6,1033.0L533.5,1036.2L534.8,1039.0L535.5,1041.3L536.1,1045.0L536.1,1049.0L535.5,1052.0L534.5,1055.0L533.5,1057.0L531.5,1059.9L529.5,1062.2L527.5,1064.0L525.5,1065.6L523.4,1067.0L519.6,1069.0L517.5,1069.9L514.5,1071.0L511.5,1071.9L507.5,1072.8L505.5,1073.2L505.5,1073.2 M359.5,749.1L355.5,749.8L351.5,750.4L347.5,750.6L343.5,750.7L339.5,750.6L335.5,750.3L331.5,749.8L327.5,749.1L325.5,748.6L321.5,747.6L319.5,747.0L315.5,745.6L313.5,744.8L309.5,743.0L307.5,742.0L305.5,740.8L302.6,739.0L299.9,737.0L297.5,735.0L295.5,733.0L293.8,731.0L292.4,729.0L291.2,727.0L289.5,723.0L289.1,721.0L288.8,717.0L289.5,713.4L290.4,711.0L291.5,708.9L293.5,706.3L295.5,704.2L297.5,702.6L299.8,701.0L303.5,699.0L305.5,698.1L308.4,697.0L311.5,696.1L315.5,695.1L317.5,694.7L321.5,694.2L325.5,693.8L329.5,693.7L333.5,693.8L337.5,694.0L341.5,694.5L345.0,695.0L347.5,695.5L351.5,696.4L353.7,697.0L357.5,698.2L359.7,699.0L363.5,700.6L365.5,701.5L368.3,703.0L371.5,704.9L373.5,706.3L375.5,707.9L377.5,709.6L379.5,711.6L381.5,714.0L383.5,716.9L384.6,719.0L385.5,721.2L386.4,725.0L386.3,729.0L385.5,732.0L384.1,735.0L382.6,737.0L380.8,739.0L378.4,741.0L375.5,743.0L373.5,744.1L371.5,745.1L367.5,746.8L365.5,747.5L361.5,748.6L359.5,749.1L359.5,749.1 M517.5,783.1L513.5,783.2L509.5,783.0L507.5,782.9L503.5,782.4L499.5,781.7L496.2,781.0L493.5,780.3L489.5,779.0L487.5,778.3L484.5,777.0L481.5,775.5L479.5,774.4L477.1,773.0L474.3,771.0L471.8,769.0L469.8,767.0L468.1,765.0L466.6,763.0L465.5,761.0L464.1,757.0L463.8,753.0L464.6,749.0L465.5,747.0L467.5,743.9L469.5,741.6L471.5,739.7L473.5,738.1L475.5,736.7L478.2,735.0L481.5,733.2L483.5,732.2L486.2,731.0L489.5,729.7L491.6,729.0L495.5,727.8L498.5,727.0L501.5,726.3L505.5,725.6L509.5,725.1L511.5,724.9L515.5,724.7L519.5,724.6L523.5,724.8L525.6,725.0L529.5,725.5L533.5,726.3L536.1,727.0L539.5,728.1L541.8,729.0L545.5,730.8L547.5,731.9L549.5,733.2L551.8,735.0L554.0,737.0L555.8,739.0L557.5,741.4L559.4,745.0L560.1,747.0L560.8,751.0L560.8,755.0L559.9,759.0L559.1,761.0L557.5,764.0L555.5,766.8L553.5,769.0L551.5,770.9L549.5,772.5L547.5,774.0L545.5,775.2L542.2,777.0L539.5,778.2L537.5,779.0L533.5,780.4L531.4,781.0L527.5,781.9L523.5,782.6L519.5,783.0L517.5,783.1L517.5,783.1 M521.5,903.1L517.5,903.9L513.5,904.3L509.5,904.3L505.5,903.6L503.5,902.9L499.9,901.0L497.5,899.1L495.5,897.0L494.0,895.0L492.7,893.0L491.5,890.9L489.8,887.0L489.0,885.0L488.0,881.0L487.5,878.4L487.1,875.0L487.1,871.0L487.5,867.3L487.9,865.0L489.1,861.0L489.9,859.0L491.5,855.7L493.1,853.0L494.6,851.0L496.2,849.0L498.1,847.0L500.2,845.0L502.7,843.0L505.5,841.0L507.5,839.8L509.5,838.6L512.8,837.0L515.5,835.8L517.7,835.0L521.5,833.7L524.1,833.0L527.5,832.2L531.5,831.4L534.1,831.0L537.5,830.6L541.5,830.2L545.5,830.0L549.5,830.0L553.5,830.1L557.5,830.3L561.5,830.8L563.5,831.0L567.5,831.7L571.5,832.6L573.5,833.2L577.5,834.6L579.5,835.4L582.6,837.0L585.5,838.9L587.5,840.7L589.5,842.9L590.8,845.0L591.7,847.0L592.5,851.0L592.2,855.0L591.5,857.7L590.2,861.0L589.1,863.0L587.5,865.5L585.5,868.2L583.5,870.6L581.5,872.7L579.5,874.6L577.5,876.4L575.5,878.0L573.5,879.6L571.5,881.1L568.7,883.0L565.6,885.0L563.5,886.3L561.5,887.4L558.6,889.0L555.5,890.6L553.5,891.6L550.5,893.0L547.5,894.3L545.5,895.2L541.5,896.8L539.5,897.6L535.6,899.0L533.5,899.7L529.5,901.0L527.5,901.6L523.5,902.7L521.5,903.1L521.5,903.1 M159.5,971.2L155.5,971.6L151.5,971.8L147.5,971.6L143.5,971.2L141.5,970.9L137.5,970.0L134.0,969.0L131.5,968.1L128.7,967.0L125.5,965.4L123.5,964.3L121.5,963.0L118.8,961.0L116.6,959.0L114.9,957.0L113.5,955.0L111.9,951.0L111.7,947.0L113.1,943.0L114.4,941.0L116.2,939.0L118.5,937.0L121.5,935.1L123.5,934.0L125.8,933.0L129.5,931.7L131.9,931.0L135.5,930.3L139.5,929.7L143.5,929.5L147.5,929.6L151.5,930.0L155.5,930.8L157.5,931.3L161.5,932.7L163.5,933.6L166.3,935.0L169.4,937.0L171.5,938.7L173.5,940.7L175.5,943.0L176.8,945.0L177.9,947.0L179.2,951.0L179.5,954.4L179.5,955.0L178.6,959.0L177.5,961.3L175.5,963.9L173.5,965.7L171.5,967.1L167.6,969.0L165.5,969.7L161.5,970.8L159.5,971.2L159.5,971.2 M505.5,1067.1L501.5,1067.8L497.5,1068.2L493.5,1068.4L489.5,1068.3L485.5,1068.0L481.5,1067.6L477.9,1067.0L475.5,1066.5L471.5,1065.6L469.0,1065.0L465.5,1064.0L462.2,1063.0L459.5,1062.1L456.5,1061.0L453.5,1059.9L451.2,1059.0L447.5,1057.5L445.5,1056.7L441.5,1055.1L439.5,1054.3L436.1,1053.0L433.5,1052.0L430.3,1051.0L427.5,1050.1L423.5,1049.3L421.3,1049.0L417.5,1048.7L413.5,1048.9L411.5,1049.1L407.5,1049.8L403.5,1050.8L401.5,1051.3L397.5,1052.4L395.5,1053.0L391.5,1054.2L388.8,1055.0L385.5,1055.9L381.6,1057.0L379.5,1057.5L375.5,1058.5L373.2,1059.0L369.5,1059.7L365.5,1060.4L361.5,1061.0L359.5,1061.2L355.5,1061.6L351.5,1061.9L347.5,1062.1L343.5,1062.1L339.5,1062.0L335.5,1061.8L331.5,1061.5L327.5,1061.0L325.5,1060.7L321.5,1060.1L317.5,1059.3L315.5,1058.9L311.5,1057.8L308.6,1057.0L305.5,1056.0L302.7,1055.0L299.5,1053.7L297.5,1052.8L294.0,1051.0L291.5,1049.6L289.5,1048.3L287.5,1046.8L285.3,1045.0L283.2,1043.0L281.5,1040.9L279.5,1037.7L278.4,1035.0L277.8,1031.0L278.4,1027.0L279.5,1024.5L281.5,1021.6L283.5,1019.6L285.5,1018.0L287.5,1016.7L290.6,1015.0L293.5,1013.7L295.5,1013.0L299.5,1011.7L302.2,1011.0L305.5,1010.3L309.5,1009.6L313.5,1009.1L315.5,1008.9L319.5,1008.6L323.5,1008.5L327.5,1008.4L331.5,1008.5L335.5,1008.7L339.5,1008.9L341.5,1009.1L345.5,1009.5L349.5,1010.1L353.5,1010.7L355.5,1011.0L359.5,1011.8L363.5,1012.7L365.5,1013.1L369.5,1014.1L372.8,1015.0L375.5,1015.8L379.5,1017.0L381.5,1017.6L385.5,1018.9L387.5,1019.6L391.5,1021.0L393.5,1021.7L397.2,1023.0L399.5,1023.8L403.0,1025.0L405.5,1025.8L409.5,1026.9L411.5,1027.4L415.5,1028.1L419.5,1028.5L423.5,1028.4L427.5,1028.1L431.5,1027.4L433.5,1026.9L437.5,1026.0L441.5,1025.0L443.5,1024.5L447.5,1023.5L449.5,1023.0L453.5,1022.0L457.5,1021.1L459.5,1020.7L463.5,1020.0L467.5,1019.4L470.7,1019.0L473.5,1018.7L477.5,1018.5L481.5,1018.4L485.5,1018.5L489.5,1018.8L491.5,1019.1L495.5,1019.7L499.5,1020.6L501.5,1021.1L505.5,1022.4L507.5,1023.2L511.4,1025.0L513.5,1026.2L515.5,1027.4L517.7,1029.0L520.1,1031.0L522.1,1033.0L523.7,1035.0L525.5,1037.8L526.9,1041.0L527.5,1043.5L527.8,1047.0L527.5,1049.2L526.3,1053.0L525.3,1055.0L523.5,1057.4L521.5,1059.5L519.5,1061.1L516.5,1063.0L513.5,1064.5L511.5,1065.3L507.5,1066.6L505.5,1067.1L505.5,1067.1 M353.5,743.4L349.5,744.1L345.5,744.5L341.5,744.6L337.5,744.4L333.5,744.0L329.5,743.3L327.5,742.9L323.5,741.8L321.0,741.0L317.5,739.6L315.5,738.7L312.2,737.0L309.5,735.3L307.5,733.8L305.5,732.1L303.5,730.1L301.5,727.5L300.1,725.0L299.3,723.0L298.7,719.0L299.3,715.0L300.1,713.0L301.5,710.8L303.5,708.5L305.5,706.8L308.3,705.0L311.5,703.4L313.5,702.6L317.5,701.4L319.5,700.9L323.5,700.2L327.5,699.8L331.5,699.7L335.5,699.9L339.5,700.2L343.5,700.8L345.5,701.2L349.5,702.2L352.1,703.0L355.5,704.3L357.5,705.1L361.3,707.0L363.5,708.4L365.5,709.7L367.5,711.3L369.5,713.2L371.5,715.5L373.5,718.7L374.5,721.0L375.2,725.0L374.6,729.0L373.5,731.6L371.5,734.4L369.5,736.3L367.5,737.9L365.5,739.1L361.7,741.0L359.5,741.8L355.5,743.0L353.5,743.4L353.5,743.4 M523.5,775.1L519.5,775.6L515.5,775.9L511.5,775.9L507.5,775.6L503.5,775.1L501.5,774.7L497.5,773.7L495.1,773.0L491.5,771.6L489.5,770.7L486.3,769.0L483.5,767.1L481.5,765.5L479.5,763.5L477.7,761.0L476.6,759.0L475.6,755.0L475.9,751.0L477.5,747.2L479.1,745.0L480.9,743.0L483.2,741.0L485.5,739.4L487.5,738.1L489.5,737.0L493.5,735.2L495.5,734.4L499.5,733.1L501.5,732.5L505.5,731.6L509.4,731.0L511.5,730.8L515.5,730.5L519.5,730.5L523.5,730.8L525.5,731.0L529.5,731.8L533.5,732.9L535.5,733.6L538.7,735.0L541.5,736.6L543.5,737.9L545.5,739.6L547.5,741.7L549.5,744.6L550.6,747.0L551.5,751.0L551.5,753.0L551.3,755.0L549.9,759.0L548.8,761.0L547.4,763.0L545.5,765.0L543.2,767.0L540.4,769.0L537.5,770.6L535.5,771.6L531.8,773.0L529.5,773.7L525.5,774.7L523.5,775.1L523.5,775.1 M531.5,891.2L527.5,891.8L523.5,892.1L519.5,892.1L515.5,891.5L513.5,891.0L509.5,889.4L507.5,888.2L505.5,886.6L503.5,884.6L501.5,881.8L500.1,879.0L499.3,877.0L498.5,873.0L498.4,869.0L499.0,865.0L499.6,863.0L501.3,859.0L502.5,857.0L504.0,855.0L505.7,853.0L507.7,851.0L510.1,849.0L513.0,847.0L515.5,845.6L517.5,844.5L521.0,843.0L523.5,842.1L526.9,841.0L529.5,840.3L533.5,839.5L536.6,839.0L539.5,838.7L543.5,838.3L547.5,838.2L551.5,838.3L555.5,838.6L558.5,839.0L561.5,839.5L565.5,840.5L567.5,841.2L571.5,842.9L573.5,844.1L575.5,845.6L577.5,847.6L579.5,851.0L580.1,853.0L580.1,857.0L579.5,859.6L578.1,863.0L576.9,865.0L575.5,867.0L573.5,869.4L571.5,871.5L569.5,873.3L567.5,875.0L564.9,877.0L562.0,879.0L559.5,880.5L557.5,881.7L555.0,883.0L551.5,884.7L549.5,885.6L546.1,887.0L543.5,888.0L540.4,889.0L537.5,889.9L533.5,890.8L531.5,891.2L531.5,891.2 M153.5,957.0L149.5,957.9L145.5,957.9L141.5,957.1L139.5,956.3L137.0,955.0L134.8,953.0L133.5,950.8L133.5,947.8L135.3,945.0L137.5,943.7L139.5,942.8L143.5,942.1L147.5,942.3L150.8,943.0L153.5,944.2L155.5,945.6L157.5,947.9L158.5,951.0L157.5,954.0L155.5,955.9L153.5,957.0L153.5,957.0 M355.5,1055.1L351.5,1055.5L347.5,1055.8L343.5,1055.9L339.5,1055.8L335.5,1055.6L331.5,1055.3L329.2,1055.0L325.5,1054.4L321.5,1053.7L318.7,1053.0L315.5,1052.1L312.0,1051.0L309.5,1050.1L306.9,1049.0L303.5,1047.3L301.5,1046.1L299.5,1044.9L297.1,1043.0L295.0,1041.0L293.4,1039.0L291.5,1035.3L291.0,1033.0L291.5,1029.0L292.4,1027.0L293.9,1025.0L296.0,1023.0L298.9,1021.0L301.5,1019.7L303.5,1018.8L307.5,1017.4L309.5,1016.9L313.5,1016.0L317.5,1015.4L321.2,1015.0L323.5,1014.8L327.5,1014.7L331.5,1014.7L335.5,1014.8L338.3,1015.0L341.5,1015.3L345.5,1015.8L349.5,1016.4L352.8,1017.0L355.5,1017.6L359.5,1018.5L361.5,1019.1L365.5,1020.3L367.7,1021.0L371.5,1022.4L373.5,1023.2L377.4,1025.0L379.5,1026.1L381.5,1027.2L384.3,1029.0L386.9,1031.0L388.8,1033.0L390.1,1035.0L390.5,1039.0L389.5,1041.1L387.5,1043.3L385.5,1045.0L382.3,1047.0L379.5,1048.4L377.5,1049.3L373.5,1050.9L371.5,1051.6L367.5,1052.7L365.5,1053.3L361.5,1054.1L357.5,1054.8L355.5,1055.1L355.5,1055.1 M497.5,1061.1L493.5,1061.5L489.5,1061.5L485.5,1061.2L483.5,1061.0L479.5,1060.3L475.5,1059.4L473.5,1058.9L469.5,1057.6L467.5,1056.8L463.5,1055.2L461.5,1054.2L459.2,1053.0L455.8,1051.0L453.5,1049.3L451.5,1047.6L449.5,1045.5L447.9,1043.0L447.4,1041.0L447.6,1039.0L449.5,1036.0L451.5,1034.3L453.5,1032.9L457.1,1031.0L459.5,1030.0L462.3,1029.0L465.5,1028.1L469.5,1027.1L471.5,1026.7L475.5,1026.2L479.5,1025.9L483.5,1025.8L487.5,1026.0L491.5,1026.4L494.7,1027.0L497.5,1027.7L501.5,1029.0L503.5,1029.8L505.9,1031.0L509.2,1033.0L511.5,1034.8L513.5,1036.9L515.1,1039.0L516.1,1041.0L517.1,1045.0L516.6,1049.0L515.5,1051.5L513.5,1054.1L511.5,1055.9L509.5,1057.3L506.0,1059.0L503.5,1059.8L499.5,1060.8L497.5,1061.1L497.5,1061.1 M349.5,735.4L345.5,736.2L341.5,736.6L337.5,736.6L333.5,736.2L329.5,735.4L327.5,734.8L323.5,733.3L321.5,732.3L319.2,731.0L316.5,729.0L314.6,727.0L313.1,725.0L311.7,721.0L312.2,717.0L313.5,714.7L315.5,712.6L317.8,711.0L321.5,709.3L323.5,708.7L327.5,707.9L331.5,707.5L335.5,707.6L339.5,708.0L343.5,708.8L345.5,709.3L349.5,710.8L351.5,711.7L353.7,713.0L356.5,715.0L358.5,717.0L359.9,719.0L361.3,723.0L360.8,727.0L359.5,729.4L357.5,731.4L355.3,733.0L351.5,734.8L349.5,735.4L349.5,735.4 M519.5,767.0L515.5,767.4L511.5,767.4L507.9,767.0L505.5,766.6L501.5,765.4L499.5,764.7L496.2,763.0L493.5,761.0L491.7,759.0L490.5,757.0L489.7,753.0L491.0,749.0L492.4,747.0L494.5,745.0L497.3,743.0L499.5,741.8L501.5,740.9L505.5,739.6L507.7,739.0L511.5,738.4L515.5,738.1L519.5,738.1L523.5,738.6L525.5,739.1L529.5,740.4L531.5,741.3L534.2,743.0L536.4,745.0L537.8,747.0L539.2,751.0L538.8,755.0L537.5,757.6L535.5,760.0L533.5,761.7L531.5,763.1L527.5,765.0L525.5,765.7L521.5,766.7L519.5,767.0L519.5,767.0 M539.5,879.1L535.5,879.9L531.5,880.2L527.5,880.1L523.5,879.4L521.5,878.6L518.5,877.0L516.4,875.0L515.0,873.0L513.8,869.0L514.1,865.0L515.5,861.6L517.3,859.0L519.2,857.0L521.5,855.1L523.5,853.9L525.5,852.8L529.5,851.0L531.5,850.4L535.5,849.4L537.8,849.0L541.5,848.6L545.5,848.5L549.5,848.8L551.5,849.1L555.5,850.1L557.7,851.0L560.8,853.0L562.6,855.0L563.6,857.0L563.6,861.0L563.0,863.0L561.5,865.6L559.5,868.1L557.5,870.0L555.5,871.6L553.5,873.0L550.1,875.0L547.5,876.3L545.5,877.1L541.5,878.5L539.5,879.1L539.5,879.1 M347.5,1047.1L343.5,1047.4L339.5,1047.5L335.5,1047.3L332.3,1047.0L329.5,1046.5L325.5,1045.7L323.0,1045.0L319.5,1043.7L317.5,1042.8L314.4,1041.0L311.9,1039.0L310.3,1037.0L309.4,1035.0L309.5,1031.9L311.2,1029.0L313.5,1027.2L315.5,1026.2L318.4,1025.0L321.5,1024.2L325.5,1023.5L329.5,1023.1L333.5,1023.1L337.5,1023.3L341.5,1023.7L345.5,1024.3L348.6,1025.0L351.5,1025.8L355.0,1027.0L357.5,1028.1L359.5,1029.1L362.3,1031.0L364.4,1033.0L365.6,1035.0L365.5,1038.6L363.9,1041.0L361.5,1042.8L359.5,1043.8L356.8,1045.0L353.5,1046.0L349.5,1046.8L347.5,1047.1L347.5,1047.1 M493.5,1049.5L489.5,1050.1L485.5,1049.9L481.5,1049.0L479.5,1048.1L477.5,1047.0L475.5,1044.8L475.5,1041.0L477.5,1039.3L479.5,1038.4L483.5,1037.6L487.5,1037.6L491.5,1038.3L493.5,1039.0L496.6,1041.0L498.1,1043.0L497.6,1047.0L495.5,1048.7L493.5,1049.5L493.5,1049.5"/>
</g>
<g font-size="6" fill="#3a3a3a" fill-opacity="0.7">
<text x="300" y="708.0">HexCer d18:1/24:0</text>
<text x="278" y="715.8">HexCer d18:1/18:0</text>
<text x="296" y="723.6">HexCer d18:1/26:1</text>
<text x="320" y="731.4">HexCer d18:1/24:1</text>
<text x="326" y="739.2">HexCer d18:1/22:0</text>
<text x="326" y="712">HexCer d18:1/20:0</text>
<text x="340" y="720">HexCer d18:1/25:0</text>
<text x="348" y="728">HexCer d18:1/23:0</text>
<text x="354" y="736">HexCer d18:1/26:0</text>
<text x="360" y="708.0">HexCer d18:1/24:0</text>
<text x="374" y="715.5">HexCer d18:1/18:0</text>
<text x="380" y="723.0">HexCer d18:1/24:1</text>
<text x="394" y="730.5">HexCer d18:1/26:0</text>
<text x="390" y="738.0">HexCer d18:1/23:1</text>
<text x="282" y="717">HexCer 18:1/24:1</text>
<text x="284" y="727">HexCer d18:1/22:0</text>
<text x="476" y="754">Lyso-PC C18:1</text>
<text x="470" y="761">Lyso-PC C16:0</text>
<text x="472" y="768">Lyso-PC C20:4</text>
<text x="522" y="737.0">Lyso-PE C20:4</text>
<text x="530" y="743.5">Lyso-PE C22:5</text>
<text x="534" y="750.0">Lyso-PE C22:4</text>
<text x="528" y="756.5">Lyso-PE(P) C18:1</text>
<text x="506" y="826.0">Hex2Sph</text>
<text x="510" y="831.5">Hex3Sph</text>
<text x="506" y="837.0">Hex2Sph</text>
<text x="496" y="864.0">HexSph</text>
<text x="492" y="870.5">Lyso-PE(P) C18:0</text>
<text x="498" y="877.0">PE(P) C38:4</text>
<text x="490" y="883.5">PE(P) C40:6</text>
<text x="548" y="857.0">Cer d18:1/24:0</text>
<text x="540" y="863.5">Cer d18:1/22:0</text>
<text x="556" y="870.0">Cer C24:1 d18:0</text>
<text x="544" y="876.5">PE(P) C38:5</text>
<text x="600" y="845.0">Cer d18:1/24:6</text>
<text x="612" y="851.5">Cer d18:1/24:1</text>
<text x="606" y="858.0">Cer d18:1/26:5</text>
<text x="596" y="864.5">Cer d18:1/20:1</text>
<text x="624" y="850.0">Cer d18:1/24:0</text>
<text x="632" y="856.5">Cer d18:1/24:1</text>
<text x="480" y="922.0">Cer-OH d18:1/16:0</text>
<text x="486" y="929.5">Lyso-SM d18:1/22:6</text>
<text x="494" y="937.0">PE(P) 18:1/22:6</text>
<text x="492" y="944.5">PE C38:6</text>
<text x="496" y="952.0">PE C40:7</text>
<text x="276" y="1024">PC C36:1</text>
<text x="268" y="1031">PC C34:1</text>
<text x="280" y="1038">PC C32:0</text>
<text x="272" y="1045">PC C38:4</text>
<text x="344" y="1030.0">PE(P) 18:0/22:4</text>
<text x="356" y="1037.5">PE(P) 18:1/22:5</text>
<text x="354" y="1045.0">PE(P) 18:0/20:4</text>
<text x="350" y="1052.5">PE C34:2</text>
<text x="420" y="1034">PE(P) 18:0/22:6</text>
<text x="438" y="1039">PE(P) 18:1</text>
<text x="480" y="1032">PE C38:5</text>
<text x="490" y="1039">PE C38:4</text>
<text x="510" y="1046">PE C36:2</text>
<text x="486" y="1053">PE C40:6</text>
<text x="40" y="934">HexCer-OH d18:1/18:0</text>
<text x="34" y="941">Hex2Cer d18:1/24:0</text>
<text x="50" y="948">Hex2Cer d18:1/16:0</text>
<text x="140" y="918.0">GM1 d18:1/18:0</text>
<text x="154" y="924.5">GM2 d18:1/18:0</text>
<text x="146" y="931.0">GM3 d18:1/18:0</text>
<text x="160" y="937.5">NANA</text>
<text x="152" y="944.0">Gb4 d18:1/18:0</text>
<text x="162" y="950.5">Gb3 d18:1/18:0</text>
<text x="160" y="955">Sph d18:1/18:0</text>
<text x="152" y="962">Cer d18:1/18:0</text>
<text x="138" y="969">Cer d18:1/20:0</text>
<text x="214" y="973">Cer-OH d18:1/18:0</text>
<text x="210" y="981">Cer d18:1/16:0</text>
</g>
<path d="M312.4,901.5H226.5Q222.5,901.5 222.5,905.5V956.3M387.6,901.5H599.3Q603.3,901.5 603.3,897.5V878" fill="none" stroke="#858585" stroke-width="1.6"/>
<circle cx="222.5" cy="956.3" r="3.4" fill="#858585"/><circle cx="603.3" cy="878" r="3.4" fill="#858585"/>
<text x="280.4" y="759.5" font-size="12.8" fill="#1e1e1e" textLength="46.5" lengthAdjust="spacingAndGlyphs">HexCer</text>
<text x="491.4" y="721" font-size="13" fill="#1e1e1e" textLength="114.9" lengthAdjust="spacingAndGlyphs">Lysophospholipids</text>
<text x="495.6" y="814.3" font-size="13" fill="#1e1e1e" textLength="56.2" lengthAdjust="spacingAndGlyphs">nHexSph</text>
<text x="371.9" y="872.9" font-size="13.5" fill="#1e1e1e" textLength="102.3" lengthAdjust="spacingAndGlyphs">Plasmalogen PE</text>
<text x="321.2" y="904.7" font-size="13" fill="#1e1e1e" textLength="64.9" lengthAdjust="spacingAndGlyphs">Ceramide</text>
<text x="554.9" y="936.8" font-size="12.6" fill="#1e1e1e" textLength="119.8" lengthAdjust="spacingAndGlyphs">Docosahexaenoic</text>
<text x="554.9" y="952.5" font-size="12.6" fill="#1e1e1e" textLength="35" lengthAdjust="spacingAndGlyphs">acid</text>
<text x="380.9" y="1014" font-size="13.5" fill="#1e1e1e" textLength="86.3" lengthAdjust="spacingAndGlyphs">Phospholipids</text>
<text x="113.3" y="899.7" font-size="13" fill="#1e1e1e" textLength="77" lengthAdjust="spacingAndGlyphs">Ganglioside</text>
<text x="36.3" y="983.8" font-size="13" fill="#1e1e1e" textLength="54.6" lengthAdjust="spacingAndGlyphs">Hex2Cer</text>
<text x="318.7" y="1005.5" font-size="10" fill="#222" textLength="12.3" lengthAdjust="spacingAndGlyphs">PC</text>
<text x="505" y="1017.7" font-size="9.2" fill="#222" textLength="12.4" lengthAdjust="spacingAndGlyphs">PE</text>
<text x="600.3" y="815.2" font-size="9.2" fill="#222" textLength="71.9" lengthAdjust="spacingAndGlyphs">Very long-chain</text>
<text x="600.3" y="825.7" font-size="9.2" fill="#222" textLength="77.8" lengthAdjust="spacingAndGlyphs">ceramide (>C20)</text>
<text x="172.8" y="998.9" font-size="9.2" fill="#222" textLength="51.4" lengthAdjust="spacingAndGlyphs">Long-chain</text>
<text x="172.8" y="1009.8" font-size="9.2" fill="#222" textLength="68.2" lengthAdjust="spacingAndGlyphs">ceramide (C16</text>
<text x="172.8" y="1020.8" font-size="9.2" fill="#222" textLength="41.2" lengthAdjust="spacingAndGlyphs">and C18)</text>
<rect x="29" y="689" width="63.4" height="173.2" rx="1.5" fill="#fff" fill-opacity="0.8" stroke="#e2e2e2" stroke-width="0.6"/>
<g font-size="5" fill="#222">
<text x="45" y="694.5">Clusters</text>
<circle cx="36.5" cy="700.0" r="2.9" fill="#2c5e46"/>
<text x="45" y="701.5">0</text>
<circle cx="36.5" cy="706.9" r="2.9" fill="#4a7a42"/>
<text x="45" y="708.4">1</text>
<circle cx="36.5" cy="713.8" r="2.9" fill="#7a7a3c"/>
<text x="45" y="715.3">2</text>
<circle cx="36.5" cy="720.8" r="2.9" fill="#a8745a"/>
<text x="45" y="722.3">3</text>
<circle cx="36.5" cy="727.7" r="2.9" fill="#b87888"/>
<text x="45" y="729.2">4</text>
<circle cx="36.5" cy="734.6" r="2.9" fill="#b98bc0"/>
<text x="45" y="736.1">5</text>
<text x="45" y="742.4">FinalSubClass</text>
<circle cx="36.5" cy="747.9" r="2.8" fill="#333" stroke="none" stroke-width="0"/>
<text x="45" y="749.4">Ceramide</text>
<path d="M34.0,753.6L35.2,752.3L36.5,753.6L37.8,752.3L39.0,753.6L37.8,754.8L39.0,756.1L37.8,757.3L36.5,756.1L35.2,757.3L34.0,756.1L35.2,754.8Z" fill="#333" stroke="none" stroke-width="0"/>
<text x="45" y="756.3">GM1</text>
<rect x="34.9" y="760.2" width="3.1" height="3.1" fill="#333" stroke="none" stroke-width="0"/>
<text x="45" y="763.2">GM2</text>
<path d="M35.7,765.9H37.3V767.8H39.3V769.5H37.3V771.4H35.7V769.5H33.7V767.8H35.7Z" fill="#333" stroke="none" stroke-width="0"/>
<text x="45" y="770.2">GM3</text>
<polygon points="36.5,773.0 39.0,775.6 36.5,778.1 34.0,775.6" fill="#333" stroke="none" stroke-width="0"/>
<text x="45" y="777.1">NANA</text>
<path d="M35.9,780.4H37.1V781.9H38.6V783.1H37.1V784.6H35.9V783.1H34.4V781.9H35.9Z" fill="#333" stroke="none" stroke-width="0"/>
<text x="45" y="784.0">Lyso-sphingomyelin</text>
<polygon points="34.0,790.9 39.0,790.9 36.5,786.5" fill="#333" stroke="none" stroke-width="0"/>
<text x="45" y="790.9">Sphingomyelin</text>
<rect x="35.5" y="795.3" width="2.1" height="2.1" fill="#333" stroke="none" stroke-width="0"/>
<text x="45" y="797.8">HexSph</text>
<polygon points="34.0,801.7 39.0,801.7 36.5,806.2" fill="#333" stroke="none" stroke-width="0"/>
<text x="45" y="804.8">HexCer</text>
<path d="M35.1,809.5L35.8,808.8L36.5,809.5L37.2,808.8L37.9,809.5L37.2,810.2L37.9,810.9L37.2,811.6L36.5,810.9L35.8,811.6L35.1,810.9L35.8,810.2Z" fill="#333" stroke="none" stroke-width="0"/>
<text x="45" y="811.7">Hex2Sph</text>
<polygon points="38.8,818.4 36.5,819.7 34.2,818.4 34.2,815.8 36.5,814.5 38.8,815.8" fill="#333" stroke="none" stroke-width="0"/>
<text x="45" y="818.6">Hex2Cer</text>
<polygon points="36.5,821.9 37.0,823.1 38.3,823.0 37.5,824.0 38.3,825.1 37.0,824.9 36.5,826.1 36.0,824.9 34.7,825.1 35.5,824.0 34.7,823.0 36.0,823.1" fill="#333" stroke="none" stroke-width="0"/>
<text x="45" y="825.5">Gb4</text>
<polygon points="38.8,832.3 36.5,833.6 34.2,832.3 34.2,829.6 36.5,828.3 38.8,829.6" fill="#333" stroke="none" stroke-width="0"/>
<text x="45" y="832.4">Gb3Sph</text>
<circle cx="36.5" cy="837.9" r="1.6" fill="#333" stroke="none" stroke-width="0"/>
<text x="45" y="839.4">Gb3</text>
<circle cx="36.5" cy="844.8" r="2.8" fill="#333" stroke="none" stroke-width="0"/>
<text x="45" y="846.3">PC</text>
<polygon points="36.5,850.1 36.9,851.0 37.9,850.9 37.3,851.7 37.9,852.5 36.9,852.4 36.5,853.3 36.1,852.4 35.1,852.5 35.7,851.7 35.1,850.9 36.1,851.0" fill="#333" stroke="none" stroke-width="0"/>
<text x="45" y="853.2">PE</text>
<polygon points="38.8,859.9 36.5,861.3 34.2,859.9 34.2,857.3 36.5,856.0 38.8,857.3" fill="#333" stroke="none" stroke-width="0"/>
<text x="45" y="860.1">PE(P)</text>
</g>
</svg></body></html>
